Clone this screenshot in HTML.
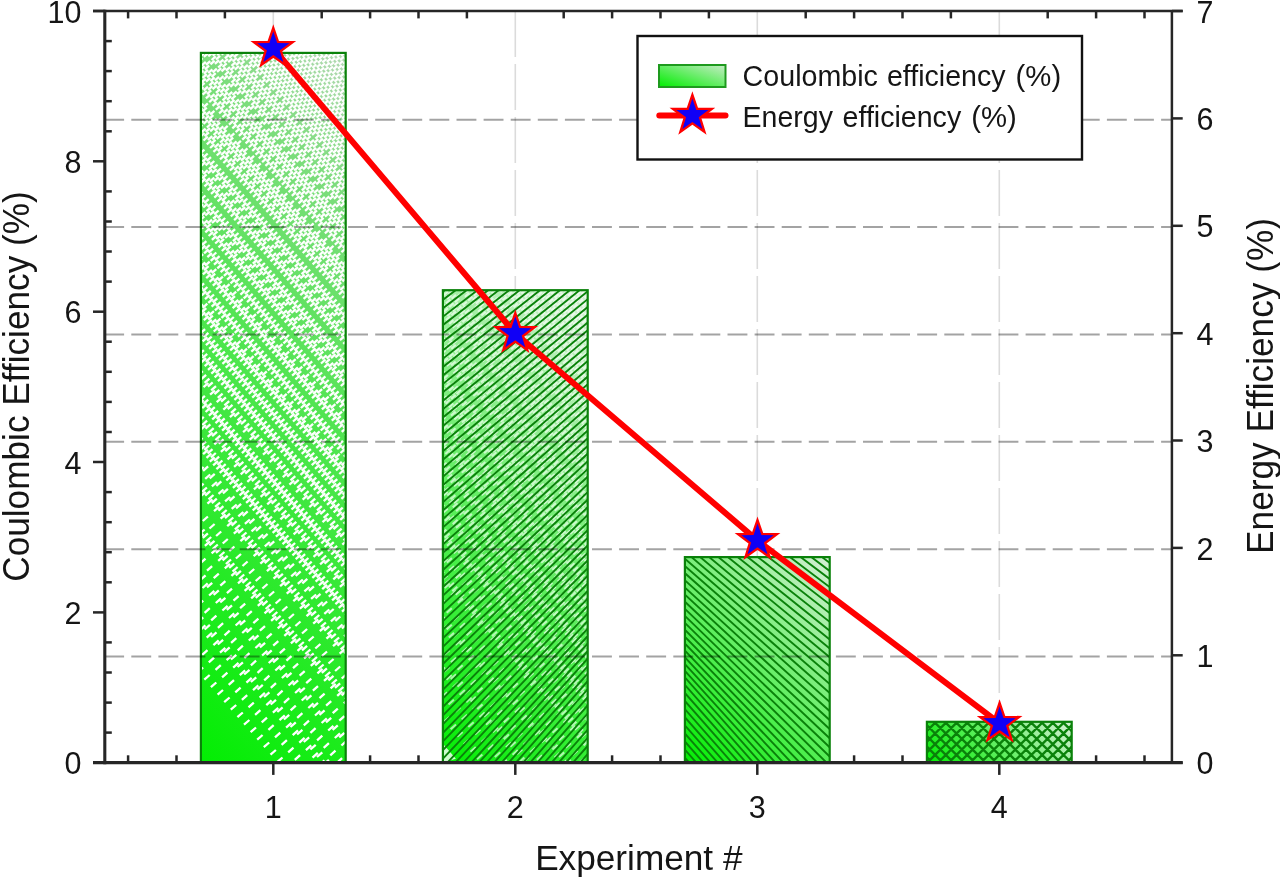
<!DOCTYPE html>
<html lang="en">
<head>
<meta charset="utf-8">
<title>Coulombic and energy efficiency per experiment</title>
<style>
html,body{margin:0;padding:0;background:#fff;}
body{width:1280px;height:880px;overflow:hidden;font-family:"Liberation Sans", Arial, Helvetica, sans-serif;}
svg{display:block;font-family:"Liberation Sans", Arial, Helvetica, sans-serif;}
</style>
</head>
<body>
<svg width="1280" height="880" viewBox="0 0 1280 880">
<defs>
<linearGradient id="gbar" x1="0" y1="1" x2="1" y2="0"><stop offset="0" stop-color="#00ee00"/><stop offset="1" stop-color="#c6ecc6"/></linearGradient>
</defs>
<rect width="1280" height="880" fill="#ffffff"/>
<g id="vgrid" fill="none">
<line x1="273.3" y1="11.0" x2="273.3" y2="762.7" stroke="#dbdbdb" stroke-width="1.6" stroke-dasharray="46 7"/>
<line x1="515.3" y1="11.0" x2="515.3" y2="762.7" stroke="#dbdbdb" stroke-width="1.6" stroke-dasharray="46 7"/>
<line x1="757.3" y1="11.0" x2="757.3" y2="762.7" stroke="#dbdbdb" stroke-width="1.6" stroke-dasharray="46 7"/>
<line x1="999.3" y1="11.0" x2="999.3" y2="762.7" stroke="#dbdbdb" stroke-width="1.6" stroke-dasharray="46 7"/>
</g>
<g id="bars">
<linearGradient id="g1" gradientUnits="userSpaceOnUse" x1="200.9" y1="762.7" x2="628.2" y2="335.4"><stop offset="0" stop-color="#02ee02"/><stop offset="0.5" stop-color="#4be64b"/><stop offset="0.83" stop-color="#7ddd7d"/><stop offset="1" stop-color="#b4d8b4"/></linearGradient>
<rect x="200.9" y="52.9" width="144.8" height="709.8" fill="url(#g1)"/>
<clipPath id="c1"><rect x="200.9" y="52.9" width="144.8" height="709.8"/></clipPath>
<path clip-path="url(#c1)" d="M197.7 672.2l5.4 -4.7M204.3 679.7l5.4 -4.7M210.9 687.2l5.4 -4.7M217.6 694.7l5.4 -4.7M224.2 702.2l5.4 -4.7M230.8 709.7l5.4 -4.7M237.4 717.2l5.4 -4.7M244.0 724.7l5.4 -4.7M250.6 732.2l5.4 -4.7M257.2 739.7l5.4 -4.7M263.8 747.2l5.4 -4.7M270.5 754.7l5.4 -4.7M277.1 762.2l5.4 -4.7M195.6 647.4l5.3 -4.7M202.2 654.9l5.3 -4.7M208.8 662.4l5.3 -4.7M215.5 669.9l5.3 -4.7M222.1 677.4l5.3 -4.7M228.7 684.9l5.3 -4.7M235.3 692.4l5.3 -4.7M241.9 699.9l5.3 -4.7M248.5 707.4l5.3 -4.7M255.1 714.9l5.3 -4.7M261.7 722.4l5.3 -4.7M268.4 729.9l5.3 -4.7M275.0 737.4l5.3 -4.7M281.6 744.9l5.3 -4.7M288.2 752.4l5.3 -4.7M294.8 759.9l5.3 -4.7M301.4 767.4l5.3 -4.7M200.1 630.1l5.3 -4.7M206.7 637.6l5.3 -4.7M213.4 645.1l5.3 -4.7M220.0 652.6l5.3 -4.7M226.6 660.1l5.3 -4.7M233.2 667.6l5.3 -4.7M239.8 675.1l5.3 -4.7M246.4 682.6l5.3 -4.7M253.0 690.1l5.3 -4.7M259.6 697.6l5.3 -4.7M266.3 705.1l5.3 -4.7M272.9 712.6l5.3 -4.7M279.5 720.1l5.3 -4.7M286.1 727.6l5.3 -4.7M292.7 735.1l5.3 -4.7M299.3 742.6l5.3 -4.7M305.9 750.1l5.3 -4.7M312.5 757.6l5.3 -4.7M319.2 765.1l5.3 -4.7M197.9 622.0l5.3 -4.6M204.6 629.5l5.3 -4.6M211.2 637.0l5.3 -4.6M217.8 644.5l5.3 -4.6M224.4 652.0l5.3 -4.6M231.0 659.5l5.3 -4.6M237.6 667.0l5.3 -4.6M244.2 674.5l5.3 -4.6M250.9 682.0l5.3 -4.6M257.5 689.5l5.3 -4.6M264.1 697.0l5.3 -4.6M270.7 704.5l5.3 -4.6M277.3 712.0l5.3 -4.6M283.9 719.5l5.3 -4.6M290.5 727.0l5.3 -4.6M297.1 734.5l5.3 -4.6M303.8 742.0l5.3 -4.6M310.4 749.5l5.3 -4.6M317.0 757.0l5.3 -4.6M323.6 764.5l5.3 -4.6M198.0 605.3l5.2 -4.6M204.6 612.8l5.2 -4.6M211.2 620.3l5.2 -4.6M217.9 627.8l5.2 -4.6M224.5 635.3l5.2 -4.6M231.1 642.8l5.2 -4.6M237.7 650.3l5.2 -4.6M244.3 657.8l5.2 -4.6M250.9 665.3l5.2 -4.6M257.5 672.8l5.2 -4.6M264.2 680.3l5.2 -4.6M270.8 687.8l5.2 -4.6M277.4 695.3l5.2 -4.6M284.0 702.8l5.2 -4.6M290.6 710.3l5.2 -4.6M297.2 717.8l5.2 -4.6M303.8 725.3l5.2 -4.6M310.4 732.8l5.2 -4.6M317.1 740.3l5.2 -4.6M323.7 747.8l5.2 -4.6M330.3 755.3l5.2 -4.6M336.9 762.8l5.2 -4.6M195.9 580.5l5.2 -4.6M202.5 588.0l5.2 -4.6M209.1 595.5l5.2 -4.6M215.8 603.0l5.2 -4.6M222.4 610.5l5.2 -4.6M229.0 618.0l5.2 -4.6M235.6 625.5l5.2 -4.6M242.2 633.0l5.2 -4.6M248.8 640.5l5.2 -4.6M255.4 648.0l5.2 -4.6M262.1 655.5l5.2 -4.6M268.7 663.0l5.2 -4.6M275.3 670.5l5.2 -4.6M281.9 678.0l5.2 -4.6M288.5 685.5l5.2 -4.6M295.1 693.0l5.2 -4.6M301.7 700.5l5.2 -4.6M308.3 708.0l5.2 -4.6M315.0 715.5l5.2 -4.6M321.6 723.0l5.2 -4.6M328.2 730.5l5.2 -4.6M334.8 738.0l5.2 -4.6M341.4 745.5l5.2 -4.6M200.4 579.9l5.2 -4.6M207.0 587.4l5.2 -4.6M213.6 594.9l5.2 -4.6M220.2 602.4l5.2 -4.6M226.8 609.9l5.2 -4.6M233.4 617.4l5.2 -4.6M240.0 624.9l5.2 -4.6M246.6 632.4l5.2 -4.6M253.3 639.9l5.2 -4.6M259.9 647.4l5.2 -4.6M266.5 654.9l5.2 -4.6M273.1 662.4l5.2 -4.6M279.7 669.9l5.2 -4.6M286.3 677.4l5.2 -4.6M292.9 684.9l5.2 -4.6M299.6 692.4l5.2 -4.6M306.2 699.9l5.2 -4.6M312.8 707.4l5.2 -4.6M319.4 714.9l5.2 -4.6M326.0 722.4l5.2 -4.6M332.6 729.9l5.2 -4.6M339.2 737.4l5.2 -4.6M345.8 744.9l5.2 -4.6M200.4 563.1l5.1 -4.5M207.0 570.6l5.1 -4.5M213.7 578.1l5.1 -4.5M220.3 585.6l5.1 -4.5M226.9 593.1l5.1 -4.5M233.5 600.6l5.1 -4.5M240.1 608.1l5.1 -4.5M246.7 615.7l5.1 -4.5M253.3 623.2l5.1 -4.5M259.9 630.7l5.1 -4.5M266.6 638.2l5.1 -4.5M273.2 645.7l5.1 -4.5M279.8 653.2l5.1 -4.5M286.4 660.7l5.1 -4.5M293.0 668.2l5.1 -4.5M299.6 675.7l5.1 -4.5M306.2 683.2l5.1 -4.5M312.9 690.7l5.1 -4.5M319.5 698.2l5.1 -4.5M326.1 705.7l5.1 -4.5M332.7 713.2l5.1 -4.5M339.3 720.7l5.1 -4.5M345.9 728.2l5.1 -4.5M198.3 538.3l5.1 -4.5M204.9 545.8l5.1 -4.5M211.6 553.3l5.1 -4.5M218.2 560.8l5.1 -4.5M224.8 568.3l5.1 -4.5M231.4 575.8l5.1 -4.5M238.0 583.3l5.1 -4.5M244.6 590.8l5.1 -4.5M251.2 598.3l5.1 -4.5M257.8 605.8l5.1 -4.5M264.5 613.3l5.1 -4.5M271.1 620.8l5.1 -4.5M277.7 628.3l5.1 -4.5M284.3 635.8l5.1 -4.5M290.9 643.3l5.1 -4.5M297.5 650.8l5.1 -4.5M304.1 658.4l5.1 -4.5M310.8 665.9l5.1 -4.5M317.4 673.4l5.1 -4.5M324.0 680.9l5.1 -4.5M330.6 688.4l5.1 -4.5M337.2 695.9l5.1 -4.5M343.8 703.4l5.1 -4.5M196.2 530.3l5.1 -4.5M199.5 534.0l5.1 -4.5M202.8 537.8l5.1 -4.5M206.1 541.5l5.1 -4.5M209.4 545.3l5.1 -4.5M212.7 549.0l5.1 -4.5M216.0 552.8l5.1 -4.5M219.3 556.5l5.1 -4.5M222.6 560.3l5.1 -4.5M225.9 564.0l5.1 -4.5M229.2 567.8l5.1 -4.5M232.5 571.5l5.1 -4.5M235.8 575.3l5.1 -4.5M239.1 579.0l5.1 -4.5M242.4 582.8l5.1 -4.5M245.7 586.5l5.1 -4.5M249.1 590.3l5.1 -4.5M252.4 594.0l5.1 -4.5M255.7 597.8l5.1 -4.5M259.0 601.5l5.1 -4.5M262.3 605.3l5.1 -4.5M265.6 609.0l5.1 -4.5M268.9 612.8l5.1 -4.5M272.2 616.5l5.1 -4.5M275.5 620.3l5.1 -4.5M278.8 624.0l5.1 -4.5M282.1 627.8l5.1 -4.5M285.4 631.5l5.1 -4.5M288.7 635.3l5.1 -4.5M292.0 639.0l5.1 -4.5M295.3 642.8l5.1 -4.5M298.7 646.5l5.1 -4.5M302.0 650.3l5.1 -4.5M305.3 654.0l5.1 -4.5M308.6 657.8l5.1 -4.5M311.9 661.5l5.1 -4.5M315.2 665.3l5.1 -4.5M318.5 669.0l5.1 -4.5M321.8 672.8l5.1 -4.5M325.1 676.5l5.1 -4.5M328.4 680.3l5.1 -4.5M331.7 684.0l5.1 -4.5M335.0 687.8l5.1 -4.5M338.3 691.5l5.1 -4.5M341.6 695.3l5.1 -4.5M344.9 699.0l5.1 -4.5M196.2 513.5l5.1 -4.5M202.8 521.0l5.1 -4.5M209.5 528.5l5.1 -4.5M216.1 536.0l5.1 -4.5M222.7 543.5l5.1 -4.5M229.3 551.0l5.1 -4.5M235.9 558.5l5.1 -4.5M242.5 566.0l5.1 -4.5M249.1 573.5l5.1 -4.5M255.7 581.0l5.1 -4.5M262.4 588.5l5.1 -4.5M269.0 596.0l5.1 -4.5M275.6 603.5l5.1 -4.5M282.2 611.0l5.1 -4.5M288.8 618.5l5.1 -4.5M295.4 626.0l5.1 -4.5M302.0 633.5l5.1 -4.5M308.6 641.0l5.1 -4.5M315.3 648.5l5.1 -4.5M321.9 656.0l5.1 -4.5M328.5 663.5l5.1 -4.5M335.1 671.0l5.1 -4.5M341.7 678.5l5.1 -4.5M200.7 496.2l5.0 -4.4M207.4 503.7l5.0 -4.4M214.0 511.2l5.0 -4.4M220.6 518.7l5.0 -4.4M227.2 526.2l5.0 -4.4M233.8 533.7l5.0 -4.4M240.4 541.2l5.0 -4.4M247.0 548.7l5.0 -4.4M253.6 556.2l5.0 -4.4M260.3 563.7l5.0 -4.4M266.9 571.2l5.0 -4.4M273.5 578.7l5.0 -4.4M280.1 586.2l5.0 -4.4M286.7 593.7l5.0 -4.4M293.3 601.2l5.0 -4.4M299.9 608.7l5.0 -4.4M306.5 616.2l5.0 -4.4M313.2 623.7l5.0 -4.4M319.8 631.2l5.0 -4.4M326.4 638.7l5.0 -4.4M333.0 646.2l5.0 -4.4M339.6 653.7l5.0 -4.4M198.6 488.1l5.0 -4.4M201.9 491.9l5.0 -4.4M205.2 495.6l5.0 -4.4M208.5 499.4l5.0 -4.4M211.8 503.1l5.0 -4.4M215.1 506.9l5.0 -4.4M218.4 510.6l5.0 -4.4M221.7 514.4l5.0 -4.4M225.0 518.1l5.0 -4.4M228.3 521.9l5.0 -4.4M231.6 525.6l5.0 -4.4M234.9 529.4l5.0 -4.4M238.2 533.1l5.0 -4.4M241.5 536.9l5.0 -4.4M244.9 540.6l5.0 -4.4M248.2 544.4l5.0 -4.4M251.5 548.1l5.0 -4.4M254.8 551.9l5.0 -4.4M258.1 555.6l5.0 -4.4M261.4 559.4l5.0 -4.4M264.7 563.1l5.0 -4.4M268.0 566.9l5.0 -4.4M271.3 570.7l5.0 -4.4M274.6 574.4l5.0 -4.4M277.9 578.2l5.0 -4.4M281.2 581.9l5.0 -4.4M284.5 585.7l5.0 -4.4M287.8 589.4l5.0 -4.4M291.1 593.2l5.0 -4.4M294.4 596.9l5.0 -4.4M297.8 600.7l5.0 -4.4M301.1 604.4l5.0 -4.4M304.4 608.2l5.0 -4.4M307.7 611.9l5.0 -4.4M311.0 615.7l5.0 -4.4M314.3 619.4l5.0 -4.4M317.6 623.2l5.0 -4.4M320.9 626.9l5.0 -4.4M324.2 630.7l5.0 -4.4M327.5 634.4l5.0 -4.4M330.8 638.2l5.0 -4.4M334.1 641.9l5.0 -4.4M337.4 645.7l5.0 -4.4M340.7 649.4l5.0 -4.4M344.0 653.2l5.0 -4.4M198.6 471.4l5.0 -4.4M205.2 478.9l5.0 -4.4M211.9 486.4l5.0 -4.4M218.5 493.9l5.0 -4.4M225.1 501.4l5.0 -4.4M231.7 508.9l5.0 -4.4M238.3 516.4l5.0 -4.4M244.9 523.9l5.0 -4.4M251.5 531.4l5.0 -4.4M258.2 538.9l5.0 -4.4M264.8 546.4l5.0 -4.4M271.4 553.9l5.0 -4.4M278.0 561.4l5.0 -4.4M284.6 568.9l5.0 -4.4M291.2 576.4l5.0 -4.4M297.8 583.9l5.0 -4.4M304.4 591.4l5.0 -4.4M311.1 598.9l5.0 -4.4M317.7 606.4l5.0 -4.4M324.3 613.9l5.0 -4.4M330.9 621.4l5.0 -4.4M337.5 628.9l5.0 -4.4M344.1 636.4l5.0 -4.4M196.5 463.3l5.0 -4.4M203.1 470.8l5.0 -4.4M209.7 478.3l5.0 -4.4M216.3 485.8l5.0 -4.4M222.9 493.3l5.0 -4.4M229.5 500.8l5.0 -4.4M236.1 508.3l5.0 -4.4M242.7 515.8l5.0 -4.4M249.4 523.3l5.0 -4.4M256.0 530.8l5.0 -4.4M262.6 538.3l5.0 -4.4M269.2 545.8l5.0 -4.4M275.8 553.3l5.0 -4.4M282.4 560.8l5.0 -4.4M289.0 568.3l5.0 -4.4M295.7 575.8l5.0 -4.4M302.3 583.3l5.0 -4.4M308.9 590.8l5.0 -4.4M315.5 598.3l5.0 -4.4M322.1 605.9l5.0 -4.4M328.7 613.4l5.0 -4.4M335.3 620.9l5.0 -4.4M341.9 628.4l5.0 -4.4M196.5 446.6l4.9 -4.3M199.8 450.3l4.9 -4.3M203.1 454.1l4.9 -4.3M206.5 457.8l4.9 -4.3M209.8 461.6l4.9 -4.3M213.1 465.4l4.9 -4.3M216.4 469.1l4.9 -4.3M219.7 472.9l4.9 -4.3M223.0 476.6l4.9 -4.3M226.3 480.4l4.9 -4.3M229.6 484.1l4.9 -4.3M232.9 487.9l4.9 -4.3M236.2 491.6l4.9 -4.3M239.5 495.4l4.9 -4.3M242.8 499.1l4.9 -4.3M246.1 502.9l4.9 -4.3M249.4 506.6l4.9 -4.3M252.7 510.4l4.9 -4.3M256.1 514.1l4.9 -4.3M259.4 517.9l4.9 -4.3M262.7 521.6l4.9 -4.3M266.0 525.4l4.9 -4.3M269.3 529.1l4.9 -4.3M272.6 532.9l4.9 -4.3M275.9 536.6l4.9 -4.3M279.2 540.4l4.9 -4.3M282.5 544.1l4.9 -4.3M285.8 547.9l4.9 -4.3M289.1 551.6l4.9 -4.3M292.4 555.4l4.9 -4.3M295.7 559.1l4.9 -4.3M299.0 562.9l4.9 -4.3M302.3 566.6l4.9 -4.3M305.6 570.4l4.9 -4.3M309.0 574.1l4.9 -4.3M312.3 577.9l4.9 -4.3M315.6 581.6l4.9 -4.3M318.9 585.4l4.9 -4.3M322.2 589.1l4.9 -4.3M325.5 592.9l4.9 -4.3M328.8 596.6l4.9 -4.3M332.1 600.4l4.9 -4.3M335.4 604.1l4.9 -4.3M338.7 607.9l4.9 -4.3M342.0 611.6l4.9 -4.3M345.3 615.4l4.9 -4.3M197.7 442.3l4.9 -4.3M201.0 446.0l4.9 -4.3M204.3 449.8l4.9 -4.3M207.6 453.5l4.9 -4.3M210.9 457.3l4.9 -4.3M214.2 461.0l4.9 -4.3M217.5 464.8l4.9 -4.3M220.8 468.5l4.9 -4.3M224.1 472.3l4.9 -4.3M227.4 476.0l4.9 -4.3M230.7 479.8l4.9 -4.3M234.0 483.5l4.9 -4.3M237.3 487.3l4.9 -4.3M240.6 491.0l4.9 -4.3M244.0 494.8l4.9 -4.3M247.3 498.5l4.9 -4.3M250.6 502.3l4.9 -4.3M253.9 506.0l4.9 -4.3M257.2 509.8l4.9 -4.3M260.5 513.5l4.9 -4.3M263.8 517.3l4.9 -4.3M267.1 521.0l4.9 -4.3M270.4 524.8l4.9 -4.3M273.7 528.5l4.9 -4.3M277.0 532.3l4.9 -4.3M280.3 536.0l4.9 -4.3M283.6 539.8l4.9 -4.3M286.9 543.5l4.9 -4.3M290.2 547.3l4.9 -4.3M293.6 551.0l4.9 -4.3M296.9 554.8l4.9 -4.3M300.2 558.5l4.9 -4.3M303.5 562.3l4.9 -4.3M306.8 566.0l4.9 -4.3M310.1 569.8l4.9 -4.3M313.4 573.5l4.9 -4.3M316.7 577.3l4.9 -4.3M320.0 581.0l4.9 -4.3M323.3 584.8l4.9 -4.3M326.6 588.5l4.9 -4.3M329.9 592.3l4.9 -4.3M333.2 596.0l4.9 -4.3M336.5 599.8l4.9 -4.3M339.8 603.5l4.9 -4.3M343.1 607.3l4.9 -4.3M201.0 429.3l4.9 -4.3M207.7 436.8l4.9 -4.3M214.3 444.3l4.9 -4.3M220.9 451.8l4.9 -4.3M227.5 459.3l4.9 -4.3M234.1 466.8l4.9 -4.3M240.7 474.3l4.9 -4.3M247.3 481.8l4.9 -4.3M253.9 489.3l4.9 -4.3M260.6 496.8l4.9 -4.3M267.2 504.3l4.9 -4.3M273.8 511.8l4.9 -4.3M280.4 519.3l4.9 -4.3M287.0 526.8l4.9 -4.3M293.6 534.3l4.9 -4.3M300.2 541.8l4.9 -4.3M306.9 549.3l4.9 -4.3M313.5 556.8l4.9 -4.3M320.1 564.3l4.9 -4.3M326.7 571.8l4.9 -4.3M333.3 579.3l4.9 -4.3M339.9 586.8l4.9 -4.3M195.6 417.5l4.9 -4.3M198.9 421.2l4.9 -4.3M202.2 425.0l4.9 -4.3M205.5 428.7l4.9 -4.3M208.8 432.5l4.9 -4.3M212.1 436.2l4.9 -4.3M215.4 440.0l4.9 -4.3M218.7 443.7l4.9 -4.3M222.0 447.5l4.9 -4.3M225.3 451.2l4.9 -4.3M228.6 455.0l4.9 -4.3M231.9 458.7l4.9 -4.3M235.2 462.5l4.9 -4.3M238.5 466.2l4.9 -4.3M241.8 470.0l4.9 -4.3M245.2 473.7l4.9 -4.3M248.5 477.5l4.9 -4.3M251.8 481.2l4.9 -4.3M255.1 485.0l4.9 -4.3M258.4 488.7l4.9 -4.3M261.7 492.5l4.9 -4.3M265.0 496.2l4.9 -4.3M268.3 500.0l4.9 -4.3M271.6 503.7l4.9 -4.3M274.9 507.5l4.9 -4.3M278.2 511.2l4.9 -4.3M281.5 515.0l4.9 -4.3M284.8 518.7l4.9 -4.3M288.1 522.5l4.9 -4.3M291.4 526.2l4.9 -4.3M294.8 530.0l4.9 -4.3M298.1 533.7l4.9 -4.3M301.4 537.5l4.9 -4.3M304.7 541.2l4.9 -4.3M308.0 545.0l4.9 -4.3M311.3 548.7l4.9 -4.3M314.6 552.5l4.9 -4.3M317.9 556.2l4.9 -4.3M321.2 560.0l4.9 -4.3M324.5 563.7l4.9 -4.3M327.8 567.5l4.9 -4.3M331.1 571.2l4.9 -4.3M334.4 575.0l4.9 -4.3M337.7 578.7l4.9 -4.3M341.0 582.5l4.9 -4.3M344.4 586.2l4.9 -4.3M195.6 400.7l4.8 -4.3M198.9 404.5l4.8 -4.3M202.2 408.2l4.8 -4.3M205.6 412.0l4.8 -4.3M208.9 415.7l4.8 -4.3M212.2 419.5l4.8 -4.3M215.5 423.2l4.8 -4.3M218.8 427.0l4.8 -4.3M222.1 430.7l4.8 -4.3M225.4 434.5l4.8 -4.3M228.7 438.2l4.8 -4.3M232.0 442.0l4.8 -4.3M235.3 445.7l4.8 -4.3M238.6 449.5l4.8 -4.3M241.9 453.2l4.8 -4.3M245.2 457.0l4.8 -4.3M248.5 460.7l4.8 -4.3M251.8 464.5l4.8 -4.3M255.2 468.2l4.8 -4.3M258.5 472.0l4.8 -4.3M261.8 475.7l4.8 -4.3M265.1 479.5l4.8 -4.3M268.4 483.2l4.8 -4.3M271.7 487.0l4.8 -4.3M275.0 490.7l4.8 -4.3M278.3 494.5l4.8 -4.3M281.6 498.2l4.8 -4.3M284.9 502.0l4.8 -4.3M288.2 505.7l4.8 -4.3M291.5 509.5l4.8 -4.3M294.8 513.2l4.8 -4.3M298.1 517.0l4.8 -4.3M301.4 520.7l4.8 -4.3M304.8 524.5l4.8 -4.3M308.1 528.2l4.8 -4.3M311.4 532.0l4.8 -4.3M314.7 535.8l4.8 -4.3M318.0 539.5l4.8 -4.3M321.3 543.3l4.8 -4.3M324.6 547.0l4.8 -4.3M327.9 550.8l4.8 -4.3M331.2 554.5l4.8 -4.3M334.5 558.3l4.8 -4.3M337.8 562.0l4.8 -4.3M341.1 565.8l4.8 -4.3M344.4 569.5l4.8 -4.3M196.8 396.4l4.8 -4.3M200.1 400.2l4.8 -4.3M203.4 403.9l4.8 -4.3M206.7 407.7l4.8 -4.3M210.0 411.4l4.8 -4.3M213.3 415.2l4.8 -4.3M216.6 418.9l4.8 -4.3M219.9 422.7l4.8 -4.3M223.2 426.4l4.8 -4.3M226.5 430.2l4.8 -4.3M229.8 433.9l4.8 -4.3M233.1 437.7l4.8 -4.3M236.4 441.4l4.8 -4.3M239.7 445.2l4.8 -4.3M243.1 448.9l4.8 -4.3M246.4 452.7l4.8 -4.3M249.7 456.4l4.8 -4.3M253.0 460.2l4.8 -4.3M256.3 463.9l4.8 -4.3M259.6 467.7l4.8 -4.3M262.9 471.4l4.8 -4.3M266.2 475.2l4.8 -4.3M269.5 478.9l4.8 -4.3M272.8 482.7l4.8 -4.3M276.1 486.4l4.8 -4.3M279.4 490.2l4.8 -4.3M282.7 493.9l4.8 -4.3M286.0 497.7l4.8 -4.3M289.3 501.4l4.8 -4.3M292.7 505.2l4.8 -4.3M296.0 508.9l4.8 -4.3M299.3 512.7l4.8 -4.3M302.6 516.4l4.8 -4.3M305.9 520.2l4.8 -4.3M309.2 523.9l4.8 -4.3M312.5 527.7l4.8 -4.3M315.8 531.4l4.8 -4.3M319.1 535.2l4.8 -4.3M322.4 538.9l4.8 -4.3M325.7 542.7l4.8 -4.3M329.0 546.4l4.8 -4.3M332.3 550.2l4.8 -4.3M335.6 553.9l4.8 -4.3M338.9 557.7l4.8 -4.3M342.3 561.4l4.8 -4.3M345.6 565.2l4.8 -4.3M196.8 379.7l4.8 -4.2M203.5 387.2l4.8 -4.2M210.1 394.7l4.8 -4.2M216.7 402.2l4.8 -4.2M223.3 409.7l4.8 -4.2M229.9 417.2l4.8 -4.2M236.5 424.7l4.8 -4.2M243.1 432.2l4.8 -4.2M249.7 439.7l4.8 -4.2M256.4 447.2l4.8 -4.2M263.0 454.7l4.8 -4.2M269.6 462.2l4.8 -4.2M276.2 469.7l4.8 -4.2M282.8 477.2l4.8 -4.2M289.4 484.7l4.8 -4.2M296.0 492.2l4.8 -4.2M302.6 499.7l4.8 -4.2M309.3 507.2l4.8 -4.2M315.9 514.7l4.8 -4.2M322.5 522.2l4.8 -4.2M329.1 529.7l4.8 -4.2M335.7 537.2l4.8 -4.2M342.3 544.7l4.8 -4.2M198.0 375.3l4.8 -4.2M201.3 379.1l4.8 -4.2M204.6 382.8l4.8 -4.2M207.9 386.6l4.8 -4.2M211.2 390.3l4.8 -4.2M214.5 394.1l4.8 -4.2M217.8 397.8l4.8 -4.2M221.1 401.6l4.8 -4.2M224.4 405.3l4.8 -4.2M227.7 409.1l4.8 -4.2M231.0 412.9l4.8 -4.2M234.3 416.6l4.8 -4.2M237.6 420.4l4.8 -4.2M241.0 424.1l4.8 -4.2M244.3 427.9l4.8 -4.2M247.6 431.6l4.8 -4.2M250.9 435.4l4.8 -4.2M254.2 439.1l4.8 -4.2M257.5 442.9l4.8 -4.2M260.8 446.6l4.8 -4.2M264.1 450.4l4.8 -4.2M267.4 454.1l4.8 -4.2M270.7 457.9l4.8 -4.2M274.0 461.6l4.8 -4.2M277.3 465.4l4.8 -4.2M280.6 469.1l4.8 -4.2M283.9 472.9l4.8 -4.2M287.2 476.6l4.8 -4.2M290.5 480.4l4.8 -4.2M293.9 484.1l4.8 -4.2M297.2 487.9l4.8 -4.2M300.5 491.6l4.8 -4.2M303.8 495.4l4.8 -4.2M307.1 499.1l4.8 -4.2M310.4 502.9l4.8 -4.2M313.7 506.6l4.8 -4.2M317.0 510.4l4.8 -4.2M320.3 514.1l4.8 -4.2M323.6 517.9l4.8 -4.2M326.9 521.6l4.8 -4.2M330.2 525.4l4.8 -4.2M333.5 529.1l4.8 -4.2M336.8 532.9l4.8 -4.2M340.1 536.6l4.8 -4.2M343.5 540.4l4.8 -4.2M198.0 358.6l4.8 -4.2M201.3 362.4l4.8 -4.2M204.7 366.1l4.8 -4.2M208.0 369.9l4.8 -4.2M211.3 373.6l4.8 -4.2M214.6 377.4l4.8 -4.2M217.9 381.1l4.8 -4.2M221.2 384.9l4.8 -4.2M224.5 388.6l4.8 -4.2M227.8 392.4l4.8 -4.2M231.1 396.1l4.8 -4.2M234.4 399.9l4.8 -4.2M237.7 403.6l4.8 -4.2M241.0 407.4l4.8 -4.2M244.3 411.1l4.8 -4.2M247.6 414.9l4.8 -4.2M250.9 418.6l4.8 -4.2M254.3 422.4l4.8 -4.2M257.6 426.1l4.8 -4.2M260.9 429.9l4.8 -4.2M264.2 433.6l4.8 -4.2M267.5 437.4l4.8 -4.2M270.8 441.1l4.8 -4.2M274.1 444.9l4.8 -4.2M277.4 448.6l4.8 -4.2M280.7 452.4l4.8 -4.2M284.0 456.1l4.8 -4.2M287.3 459.9l4.8 -4.2M290.6 463.6l4.8 -4.2M293.9 467.4l4.8 -4.2M297.2 471.1l4.8 -4.2M300.5 474.9l4.8 -4.2M303.9 478.6l4.8 -4.2M307.2 482.4l4.8 -4.2M310.5 486.1l4.8 -4.2M313.8 489.9l4.8 -4.2M317.1 493.6l4.8 -4.2M320.4 497.4l4.8 -4.2M323.7 501.1l4.8 -4.2M327.0 504.9l4.8 -4.2M330.3 508.6l4.8 -4.2M333.6 512.4l4.8 -4.2M336.9 516.1l4.8 -4.2M340.2 519.9l4.8 -4.2M343.5 523.6l4.8 -4.2M195.9 350.5l4.7 -4.2M199.2 354.3l4.7 -4.2M202.5 358.0l4.7 -4.2M205.8 361.8l4.7 -4.2M209.1 365.5l4.7 -4.2M212.4 369.3l4.7 -4.2M215.7 373.0l4.7 -4.2M219.0 376.8l4.7 -4.2M222.3 380.5l4.7 -4.2M225.6 384.3l4.7 -4.2M228.9 388.0l4.7 -4.2M232.2 391.8l4.7 -4.2M235.5 395.5l4.7 -4.2M238.8 399.3l4.7 -4.2M242.2 403.0l4.7 -4.2M245.5 406.8l4.7 -4.2M248.8 410.5l4.7 -4.2M252.1 414.3l4.7 -4.2M255.4 418.0l4.7 -4.2M258.7 421.8l4.7 -4.2M262.0 425.5l4.7 -4.2M265.3 429.3l4.7 -4.2M268.6 433.0l4.7 -4.2M271.9 436.8l4.7 -4.2M275.2 440.5l4.7 -4.2M278.5 444.3l4.7 -4.2M281.8 448.1l4.7 -4.2M285.1 451.8l4.7 -4.2M288.4 455.6l4.7 -4.2M291.8 459.3l4.7 -4.2M295.1 463.1l4.7 -4.2M298.4 466.8l4.7 -4.2M301.7 470.6l4.7 -4.2M305.0 474.3l4.7 -4.2M308.3 478.1l4.7 -4.2M311.6 481.8l4.7 -4.2M314.9 485.6l4.7 -4.2M318.2 489.3l4.7 -4.2M321.5 493.1l4.7 -4.2M324.8 496.8l4.7 -4.2M328.1 500.6l4.7 -4.2M331.4 504.3l4.7 -4.2M334.7 508.1l4.7 -4.2M338.0 511.8l4.7 -4.2M341.4 515.6l4.7 -4.2M344.7 519.3l4.7 -4.2M195.9 333.8l4.7 -4.1M199.2 337.6l4.7 -4.1M202.6 341.3l4.7 -4.1M205.9 345.1l4.7 -4.1M209.2 348.8l4.7 -4.1M212.5 352.6l4.7 -4.1M215.8 356.3l4.7 -4.1M219.1 360.1l4.7 -4.1M222.4 363.8l4.7 -4.1M225.7 367.6l4.7 -4.1M229.0 371.3l4.7 -4.1M232.3 375.1l4.7 -4.1M235.6 378.8l4.7 -4.1M238.9 382.6l4.7 -4.1M242.2 386.3l4.7 -4.1M245.5 390.1l4.7 -4.1M248.8 393.8l4.7 -4.1M252.2 397.6l4.7 -4.1M255.5 401.3l4.7 -4.1M258.8 405.1l4.7 -4.1M262.1 408.8l4.7 -4.1M265.4 412.6l4.7 -4.1M268.7 416.3l4.7 -4.1M272.0 420.1l4.7 -4.1M275.3 423.8l4.7 -4.1M278.6 427.6l4.7 -4.1M281.9 431.3l4.7 -4.1M285.2 435.1l4.7 -4.1M288.5 438.8l4.7 -4.1M291.8 442.6l4.7 -4.1M295.1 446.3l4.7 -4.1M298.4 450.1l4.7 -4.1M301.7 453.8l4.7 -4.1M305.1 457.6l4.7 -4.1M308.4 461.3l4.7 -4.1M311.7 465.1l4.7 -4.1M315.0 468.8l4.7 -4.1M318.3 472.6l4.7 -4.1M321.6 476.3l4.7 -4.1M324.9 480.1l4.7 -4.1M328.2 483.8l4.7 -4.1M331.5 487.6l4.7 -4.1M334.8 491.3l4.7 -4.1M338.1 495.1l4.7 -4.1M341.4 498.8l4.7 -4.1M344.7 502.6l4.7 -4.1M197.1 329.5l4.7 -4.1M200.4 333.2l4.7 -4.1M203.7 337.0l4.7 -4.1M207.0 340.7l4.7 -4.1M210.3 344.5l4.7 -4.1M213.6 348.2l4.7 -4.1M216.9 352.0l4.7 -4.1M220.2 355.7l4.7 -4.1M223.5 359.5l4.7 -4.1M226.8 363.2l4.7 -4.1M230.1 367.0l4.7 -4.1M233.4 370.7l4.7 -4.1M236.7 374.5l4.7 -4.1M240.1 378.2l4.7 -4.1M243.4 382.0l4.7 -4.1M246.7 385.7l4.7 -4.1M250.0 389.5l4.7 -4.1M253.3 393.2l4.7 -4.1M256.6 397.0l4.7 -4.1M259.9 400.7l4.7 -4.1M263.2 404.5l4.7 -4.1M266.5 408.2l4.7 -4.1M269.8 412.0l4.7 -4.1M273.1 415.7l4.7 -4.1M276.4 419.5l4.7 -4.1M279.7 423.2l4.7 -4.1M283.0 427.0l4.7 -4.1M286.3 430.7l4.7 -4.1M289.7 434.5l4.7 -4.1M293.0 438.2l4.7 -4.1M296.3 442.0l4.7 -4.1M299.6 445.7l4.7 -4.1M302.9 449.5l4.7 -4.1M306.2 453.2l4.7 -4.1M309.5 457.0l4.7 -4.1M312.8 460.7l4.7 -4.1M316.1 464.5l4.7 -4.1M319.4 468.2l4.7 -4.1M322.7 472.0l4.7 -4.1M326.0 475.7l4.7 -4.1M329.3 479.5l4.7 -4.1M332.6 483.2l4.7 -4.1M335.9 487.0l4.7 -4.1M339.2 490.8l4.7 -4.1M342.6 494.5l4.7 -4.1M345.9 498.3l4.7 -4.1M197.1 312.7l4.7 -4.1M200.5 316.5l4.7 -4.1M203.8 320.2l4.7 -4.1M207.1 324.0l4.7 -4.1M210.4 327.7l4.7 -4.1M213.7 331.5l4.7 -4.1M217.0 335.2l4.7 -4.1M220.3 339.0l4.7 -4.1M223.6 342.7l4.7 -4.1M226.9 346.5l4.7 -4.1M230.2 350.3l4.7 -4.1M233.5 354.0l4.7 -4.1M236.8 357.8l4.7 -4.1M240.1 361.5l4.7 -4.1M243.4 365.3l4.7 -4.1M246.7 369.0l4.7 -4.1M250.0 372.8l4.7 -4.1M253.4 376.5l4.7 -4.1M256.7 380.3l4.7 -4.1M260.0 384.0l4.7 -4.1M263.3 387.8l4.7 -4.1M266.6 391.5l4.7 -4.1M269.9 395.3l4.7 -4.1M273.2 399.0l4.7 -4.1M276.5 402.8l4.7 -4.1M279.8 406.5l4.7 -4.1M283.1 410.3l4.7 -4.1M286.4 414.0l4.7 -4.1M289.7 417.8l4.7 -4.1M293.0 421.5l4.7 -4.1M296.3 425.3l4.7 -4.1M299.6 429.0l4.7 -4.1M303.0 432.8l4.7 -4.1M306.3 436.5l4.7 -4.1M309.6 440.3l4.7 -4.1M312.9 444.0l4.7 -4.1M316.2 447.8l4.7 -4.1M319.5 451.5l4.7 -4.1M322.8 455.3l4.7 -4.1M326.1 459.0l4.7 -4.1M329.4 462.8l4.7 -4.1M332.7 466.5l4.7 -4.1M336.0 470.3l4.7 -4.1M339.3 474.0l4.7 -4.1M342.6 477.8l4.7 -4.1M345.9 481.5l4.7 -4.1M198.3 308.4l4.7 -4.1M201.6 312.2l4.7 -4.1M204.9 315.9l4.7 -4.1M208.2 319.7l4.7 -4.1M211.5 323.4l4.7 -4.1M214.8 327.2l4.7 -4.1M218.1 330.9l4.7 -4.1M221.4 334.7l4.7 -4.1M224.7 338.4l4.7 -4.1M228.0 342.2l4.7 -4.1M231.3 345.9l4.7 -4.1M234.6 349.7l4.7 -4.1M238.0 353.4l4.7 -4.1M241.3 357.2l4.7 -4.1M244.6 360.9l4.7 -4.1M247.9 364.7l4.7 -4.1M251.2 368.4l4.7 -4.1M254.5 372.2l4.7 -4.1M257.8 375.9l4.7 -4.1M261.1 379.7l4.7 -4.1M264.4 383.4l4.7 -4.1M267.7 387.2l4.7 -4.1M271.0 390.9l4.7 -4.1M274.3 394.7l4.7 -4.1M277.6 398.4l4.7 -4.1M280.9 402.2l4.7 -4.1M284.2 405.9l4.7 -4.1M287.5 409.7l4.7 -4.1M290.9 413.4l4.7 -4.1M294.2 417.2l4.7 -4.1M297.5 420.9l4.7 -4.1M300.8 424.7l4.7 -4.1M304.1 428.4l4.7 -4.1M307.4 432.2l4.7 -4.1M310.7 435.9l4.7 -4.1M314.0 439.7l4.7 -4.1M317.3 443.4l4.7 -4.1M320.6 447.2l4.7 -4.1M323.9 450.9l4.7 -4.1M327.2 454.7l4.7 -4.1M330.5 458.4l4.7 -4.1M333.8 462.2l4.7 -4.1M337.1 465.9l4.7 -4.1M340.5 469.7l4.7 -4.1M343.8 473.4l4.7 -4.1M196.1 300.3l4.6 -4.1M202.7 307.8l4.6 -4.1M209.3 315.3l4.6 -4.1M215.9 322.8l4.6 -4.1M222.5 330.3l4.6 -4.1M229.2 337.8l4.6 -4.1M235.8 345.3l4.6 -4.1M242.4 352.8l4.6 -4.1M249.0 360.3l4.6 -4.1M255.6 367.9l4.6 -4.1M262.2 375.4l4.6 -4.1M268.8 382.9l4.6 -4.1M275.4 390.4l4.6 -4.1M282.1 397.9l4.6 -4.1M288.7 405.4l4.6 -4.1M295.3 412.9l4.6 -4.1M301.9 420.4l4.6 -4.1M308.5 427.9l4.6 -4.1M315.1 435.4l4.6 -4.1M321.7 442.9l4.6 -4.1M328.4 450.4l4.6 -4.1M335.0 457.9l4.6 -4.1M341.6 465.4l4.6 -4.1M198.3 291.7l4.6 -4.1M201.7 295.4l4.6 -4.1M205.0 299.2l4.6 -4.1M208.3 302.9l4.6 -4.1M211.6 306.7l4.6 -4.1M214.9 310.4l4.6 -4.1M218.2 314.2l4.6 -4.1M221.5 317.9l4.6 -4.1M224.8 321.7l4.6 -4.1M228.1 325.4l4.6 -4.1M231.4 329.2l4.6 -4.1M234.7 332.9l4.6 -4.1M238.0 336.7l4.6 -4.1M241.3 340.4l4.6 -4.1M244.6 344.2l4.6 -4.1M247.9 347.9l4.6 -4.1M251.3 351.7l4.6 -4.1M254.6 355.4l4.6 -4.1M257.9 359.2l4.6 -4.1M261.2 362.9l4.6 -4.1M264.5 366.7l4.6 -4.1M267.8 370.4l4.6 -4.1M271.1 374.2l4.6 -4.1M274.4 377.9l4.6 -4.1M277.7 381.7l4.6 -4.1M281.0 385.5l4.6 -4.1M284.3 389.2l4.6 -4.1M287.6 393.0l4.6 -4.1M290.9 396.7l4.6 -4.1M294.2 400.5l4.6 -4.1M297.5 404.2l4.6 -4.1M300.9 408.0l4.6 -4.1M304.2 411.7l4.6 -4.1M307.5 415.5l4.6 -4.1M310.8 419.2l4.6 -4.1M314.1 423.0l4.6 -4.1M317.4 426.7l4.6 -4.1M320.7 430.5l4.6 -4.1M324.0 434.2l4.6 -4.1M327.3 438.0l4.6 -4.1M330.6 441.7l4.6 -4.1M333.9 445.5l4.6 -4.1M337.2 449.2l4.6 -4.1M340.5 453.0l4.6 -4.1M343.8 456.7l4.6 -4.1M196.2 283.6l4.6 -4.1M199.5 287.4l4.6 -4.1M202.8 291.1l4.6 -4.1M206.1 294.9l4.6 -4.1M209.4 298.6l4.6 -4.1M212.7 302.4l4.6 -4.1M216.0 306.1l4.6 -4.1M219.3 309.9l4.6 -4.1M222.6 313.6l4.6 -4.1M225.9 317.4l4.6 -4.1M229.2 321.1l4.6 -4.1M232.5 324.9l4.6 -4.1M235.8 328.6l4.6 -4.1M239.2 332.4l4.6 -4.1M242.5 336.1l4.6 -4.1M245.8 339.9l4.6 -4.1M249.1 343.6l4.6 -4.1M252.4 347.4l4.6 -4.1M255.7 351.1l4.6 -4.1M259.0 354.9l4.6 -4.1M262.3 358.6l4.6 -4.1M265.6 362.4l4.6 -4.1M268.9 366.1l4.6 -4.1M272.2 369.9l4.6 -4.1M275.5 373.6l4.6 -4.1M278.8 377.4l4.6 -4.1M282.1 381.1l4.6 -4.1M285.4 384.9l4.6 -4.1M288.8 388.6l4.6 -4.1M292.1 392.4l4.6 -4.1M295.4 396.1l4.6 -4.1M298.7 399.9l4.6 -4.1M302.0 403.6l4.6 -4.1M305.3 407.4l4.6 -4.1M308.6 411.1l4.6 -4.1M311.9 414.9l4.6 -4.1M315.2 418.6l4.6 -4.1M318.5 422.4l4.6 -4.1M321.8 426.1l4.6 -4.1M325.1 429.9l4.6 -4.1M328.4 433.6l4.6 -4.1M331.7 437.4l4.6 -4.1M335.0 441.1l4.6 -4.1M338.4 444.9l4.6 -4.1M341.7 448.6l4.6 -4.1M345.0 452.4l4.6 -4.1M196.2 266.9l4.6 -4.0M199.6 270.6l4.6 -4.0M202.9 274.4l4.6 -4.0M206.2 278.1l4.6 -4.0M209.5 281.9l4.6 -4.0M212.8 285.6l4.6 -4.0M216.1 289.4l4.6 -4.0M219.4 293.1l4.6 -4.0M222.7 296.9l4.6 -4.0M226.0 300.6l4.6 -4.0M229.3 304.4l4.6 -4.0M232.6 308.1l4.6 -4.0M235.9 311.9l4.6 -4.0M239.2 315.6l4.6 -4.0M242.5 319.4l4.6 -4.0M245.8 323.1l4.6 -4.0M249.2 326.9l4.6 -4.0M252.5 330.6l4.6 -4.0M255.8 334.4l4.6 -4.0M259.1 338.1l4.6 -4.0M262.4 341.9l4.6 -4.0M265.7 345.6l4.6 -4.0M269.0 349.4l4.6 -4.0M272.3 353.1l4.6 -4.0M275.6 356.9l4.6 -4.0M278.9 360.6l4.6 -4.0M282.2 364.4l4.6 -4.0M285.5 368.1l4.6 -4.0M288.8 371.9l4.6 -4.0M292.1 375.6l4.6 -4.0M295.4 379.4l4.6 -4.0M298.7 383.1l4.6 -4.0M302.1 386.9l4.6 -4.0M305.4 390.6l4.6 -4.0M308.7 394.4l4.6 -4.0M312.0 398.1l4.6 -4.0M315.3 401.9l4.6 -4.0M318.6 405.6l4.6 -4.0M321.9 409.4l4.6 -4.0M325.2 413.1l4.6 -4.0M328.5 416.9l4.6 -4.0M331.8 420.7l4.6 -4.0M335.1 424.4l4.6 -4.0M338.4 428.2l4.6 -4.0M341.7 431.9l4.6 -4.0M345.0 435.7l4.6 -4.0M197.4 262.6l4.6 -4.0M200.7 266.3l4.6 -4.0M204.0 270.1l4.6 -4.0M207.3 273.8l4.6 -4.0M210.6 277.6l4.6 -4.0M213.9 281.3l4.6 -4.0M217.2 285.1l4.6 -4.0M220.5 288.8l4.6 -4.0M223.8 292.6l4.6 -4.0M227.1 296.3l4.6 -4.0M230.4 300.1l4.6 -4.0M233.7 303.8l4.6 -4.0M237.1 307.6l4.6 -4.0M240.4 311.3l4.6 -4.0M243.7 315.1l4.6 -4.0M247.0 318.8l4.6 -4.0M250.3 322.6l4.6 -4.0M253.6 326.3l4.6 -4.0M256.9 330.1l4.6 -4.0M260.2 333.8l4.6 -4.0M263.5 337.6l4.6 -4.0M266.8 341.3l4.6 -4.0M270.1 345.1l4.6 -4.0M273.4 348.8l4.6 -4.0M276.7 352.6l4.6 -4.0M280.0 356.3l4.6 -4.0M283.3 360.1l4.6 -4.0M286.6 363.8l4.6 -4.0M290.0 367.6l4.6 -4.0M293.3 371.3l4.6 -4.0M296.6 375.1l4.6 -4.0M299.9 378.8l4.6 -4.0M303.2 382.6l4.6 -4.0M306.5 386.3l4.6 -4.0M309.8 390.1l4.6 -4.0M313.1 393.8l4.6 -4.0M316.4 397.6l4.6 -4.0M319.7 401.3l4.6 -4.0M323.0 405.1l4.6 -4.0M326.3 408.8l4.6 -4.0M329.6 412.6l4.6 -4.0M332.9 416.3l4.6 -4.0M336.2 420.1l4.6 -4.0M339.6 423.8l4.6 -4.0M342.9 427.6l4.6 -4.0M346.2 431.3l4.6 -4.0M198.5 258.2l4.6 -4.0M205.1 265.7l4.6 -4.0M211.7 273.2l4.6 -4.0M218.3 280.7l4.6 -4.0M225.0 288.2l4.6 -4.0M231.6 295.7l4.6 -4.0M238.2 303.2l4.6 -4.0M244.8 310.7l4.6 -4.0M251.4 318.2l4.6 -4.0M258.0 325.7l4.6 -4.0M264.6 333.2l4.6 -4.0M271.2 340.7l4.6 -4.0M277.9 348.2l4.6 -4.0M284.5 355.7l4.6 -4.0M291.1 363.2l4.6 -4.0M297.7 370.7l4.6 -4.0M304.3 378.2l4.6 -4.0M310.9 385.7l4.6 -4.0M317.5 393.2l4.6 -4.0M324.1 400.7l4.6 -4.0M330.8 408.2l4.6 -4.0M337.4 415.7l4.6 -4.0M344.0 423.2l4.6 -4.0M197.4 245.8l4.5 -4.0M200.8 249.6l4.5 -4.0M204.1 253.3l4.5 -4.0M207.4 257.1l4.5 -4.0M210.7 260.8l4.5 -4.0M214.0 264.6l4.5 -4.0M217.3 268.3l4.5 -4.0M220.6 272.1l4.5 -4.0M223.9 275.8l4.5 -4.0M227.2 279.6l4.5 -4.0M230.5 283.3l4.5 -4.0M233.8 287.1l4.5 -4.0M237.1 290.8l4.5 -4.0M240.4 294.6l4.5 -4.0M243.7 298.3l4.5 -4.0M247.0 302.1l4.5 -4.0M250.4 305.8l4.5 -4.0M253.7 309.6l4.5 -4.0M257.0 313.3l4.5 -4.0M260.3 317.1l4.5 -4.0M263.6 320.8l4.5 -4.0M266.9 324.6l4.5 -4.0M270.2 328.3l4.5 -4.0M273.5 332.1l4.5 -4.0M276.8 335.8l4.5 -4.0M280.1 339.6l4.5 -4.0M283.4 343.3l4.5 -4.0M286.7 347.1l4.5 -4.0M290.0 350.8l4.5 -4.0M293.3 354.6l4.5 -4.0M296.6 358.3l4.5 -4.0M300.0 362.1l4.5 -4.0M303.3 365.8l4.5 -4.0M306.6 369.6l4.5 -4.0M309.9 373.3l4.5 -4.0M313.2 377.1l4.5 -4.0M316.5 380.8l4.5 -4.0M319.8 384.6l4.5 -4.0M323.1 388.3l4.5 -4.0M326.4 392.1l4.5 -4.0M329.7 395.8l4.5 -4.0M333.0 399.6l4.5 -4.0M336.3 403.3l4.5 -4.0M339.6 407.1l4.5 -4.0M342.9 410.8l4.5 -4.0M346.2 414.6l4.5 -4.0M198.6 241.5l4.5 -4.0M201.9 245.2l4.5 -4.0M205.2 249.0l4.5 -4.0M208.5 252.7l4.5 -4.0M211.8 256.5l4.5 -4.0M215.1 260.2l4.5 -4.0M218.4 264.0l4.5 -4.0M221.7 267.7l4.5 -4.0M225.0 271.5l4.5 -4.0M228.3 275.2l4.5 -4.0M231.6 279.0l4.5 -4.0M234.9 282.7l4.5 -4.0M238.3 286.5l4.5 -4.0M241.6 290.2l4.5 -4.0M244.9 294.0l4.5 -4.0M248.2 297.8l4.5 -4.0M251.5 301.5l4.5 -4.0M254.8 305.3l4.5 -4.0M258.1 309.0l4.5 -4.0M261.4 312.8l4.5 -4.0M264.7 316.5l4.5 -4.0M268.0 320.3l4.5 -4.0M271.3 324.0l4.5 -4.0M274.6 327.8l4.5 -4.0M277.9 331.5l4.5 -4.0M281.2 335.3l4.5 -4.0M284.5 339.0l4.5 -4.0M287.9 342.8l4.5 -4.0M291.2 346.5l4.5 -4.0M294.5 350.3l4.5 -4.0M297.8 354.0l4.5 -4.0M301.1 357.8l4.5 -4.0M304.4 361.5l4.5 -4.0M307.7 365.3l4.5 -4.0M311.0 369.0l4.5 -4.0M314.3 372.8l4.5 -4.0M317.6 376.5l4.5 -4.0M320.9 380.3l4.5 -4.0M324.2 384.0l4.5 -4.0M327.5 387.8l4.5 -4.0M330.8 391.5l4.5 -4.0M334.1 395.3l4.5 -4.0M337.5 399.0l4.5 -4.0M340.8 402.8l4.5 -4.0M344.1 406.5l4.5 -4.0M198.7 224.8l4.5 -4.0M202.0 228.5l4.5 -4.0M205.3 232.3l4.5 -4.0M208.6 236.0l4.5 -4.0M211.9 239.8l4.5 -4.0M215.2 243.5l4.5 -4.0M218.5 247.3l4.5 -4.0M221.8 251.0l4.5 -4.0M225.1 254.8l4.5 -4.0M228.4 258.5l4.5 -4.0M231.7 262.3l4.5 -4.0M235.0 266.0l4.5 -4.0M238.3 269.8l4.5 -4.0M241.6 273.5l4.5 -4.0M244.9 277.3l4.5 -4.0M248.3 281.0l4.5 -4.0M251.6 284.8l4.5 -4.0M254.9 288.5l4.5 -4.0M258.2 292.3l4.5 -4.0M261.5 296.0l4.5 -4.0M264.8 299.8l4.5 -4.0M268.1 303.5l4.5 -4.0M271.4 307.3l4.5 -4.0M274.7 311.0l4.5 -4.0M278.0 314.8l4.5 -4.0M281.3 318.5l4.5 -4.0M284.6 322.3l4.5 -4.0M287.9 326.0l4.5 -4.0M291.2 329.8l4.5 -4.0M294.5 333.5l4.5 -4.0M297.9 337.3l4.5 -4.0M301.2 341.0l4.5 -4.0M304.5 344.8l4.5 -4.0M307.8 348.5l4.5 -4.0M311.1 352.3l4.5 -4.0M314.4 356.0l4.5 -4.0M317.7 359.8l4.5 -4.0M321.0 363.5l4.5 -4.0M324.3 367.3l4.5 -4.0M327.6 371.0l4.5 -4.0M330.9 374.8l4.5 -4.0M334.2 378.5l4.5 -4.0M337.5 382.3l4.5 -4.0M340.8 386.0l4.5 -4.0M344.1 389.8l4.5 -4.0M196.5 216.7l4.5 -3.9M199.8 220.4l4.5 -3.9M203.1 224.2l4.5 -3.9M206.4 227.9l4.5 -3.9M209.7 231.7l4.5 -3.9M213.0 235.4l4.5 -3.9M216.3 239.2l4.5 -3.9M219.6 242.9l4.5 -3.9M222.9 246.7l4.5 -3.9M226.2 250.4l4.5 -3.9M229.5 254.2l4.5 -3.9M232.8 257.9l4.5 -3.9M236.2 261.7l4.5 -3.9M239.5 265.4l4.5 -3.9M242.8 269.2l4.5 -3.9M246.1 272.9l4.5 -3.9M249.4 276.7l4.5 -3.9M252.7 280.4l4.5 -3.9M256.0 284.2l4.5 -3.9M259.3 287.9l4.5 -3.9M262.6 291.7l4.5 -3.9M265.9 295.4l4.5 -3.9M269.2 299.2l4.5 -3.9M272.5 302.9l4.5 -3.9M275.8 306.7l4.5 -3.9M279.1 310.4l4.5 -3.9M282.4 314.2l4.5 -3.9M285.8 317.9l4.5 -3.9M289.1 321.7l4.5 -3.9M292.4 325.4l4.5 -3.9M295.7 329.2l4.5 -3.9M299.0 333.0l4.5 -3.9M302.3 336.7l4.5 -3.9M305.6 340.5l4.5 -3.9M308.9 344.2l4.5 -3.9M312.2 348.0l4.5 -3.9M315.5 351.7l4.5 -3.9M318.8 355.5l4.5 -3.9M322.1 359.2l4.5 -3.9M325.4 363.0l4.5 -3.9M328.7 366.7l4.5 -3.9M332.0 370.5l4.5 -3.9M335.3 374.2l4.5 -3.9M338.7 378.0l4.5 -3.9M342.0 381.7l4.5 -3.9M345.3 385.5l4.5 -3.9M200.9 216.1l4.5 -3.9M207.5 223.6l4.5 -3.9M214.1 231.1l4.5 -3.9M220.7 238.6l4.5 -3.9M227.4 246.1l4.5 -3.9M234.0 253.6l4.5 -3.9M240.6 261.1l4.5 -3.9M247.2 268.6l4.5 -3.9M253.8 276.1l4.5 -3.9M260.4 283.6l4.5 -3.9M267.0 291.1l4.5 -3.9M273.7 298.6l4.5 -3.9M280.3 306.1l4.5 -3.9M286.9 313.6l4.5 -3.9M293.5 321.1l4.5 -3.9M300.1 328.6l4.5 -3.9M306.7 336.1l4.5 -3.9M313.3 343.6l4.5 -3.9M319.9 351.1l4.5 -3.9M326.6 358.6l4.5 -3.9M333.2 366.1l4.5 -3.9M339.8 373.6l4.5 -3.9M346.4 381.1l4.5 -3.9M198.7 208.0l4.5 -3.9M205.3 215.5l4.5 -3.9M212.0 223.0l4.5 -3.9M218.6 230.5l4.5 -3.9M225.2 238.0l4.5 -3.9M231.8 245.5l4.5 -3.9M238.4 253.0l4.5 -3.9M245.0 260.5l4.5 -3.9M251.6 268.0l4.5 -3.9M258.2 275.5l4.5 -3.9M264.9 283.0l4.5 -3.9M271.5 290.5l4.5 -3.9M278.1 298.0l4.5 -3.9M284.7 305.5l4.5 -3.9M291.3 313.0l4.5 -3.9M297.9 320.5l4.5 -3.9M304.5 328.0l4.5 -3.9M311.2 335.5l4.5 -3.9M317.8 343.0l4.5 -3.9M324.4 350.6l4.5 -3.9M331.0 358.1l4.5 -3.9M337.6 365.6l4.5 -3.9M344.2 373.1l4.5 -3.9M196.6 200.0l4.4 -3.9M199.9 203.7l4.4 -3.9M203.2 207.5l4.4 -3.9M206.5 211.2l4.4 -3.9M209.8 215.0l4.4 -3.9M213.1 218.7l4.4 -3.9M216.4 222.5l4.4 -3.9M219.7 226.2l4.4 -3.9M223.0 230.0l4.4 -3.9M226.3 233.7l4.4 -3.9M229.6 237.5l4.4 -3.9M232.9 241.2l4.4 -3.9M236.2 245.0l4.4 -3.9M239.5 248.7l4.4 -3.9M242.8 252.5l4.4 -3.9M246.1 256.2l4.4 -3.9M249.5 260.0l4.4 -3.9M252.8 263.7l4.4 -3.9M256.1 267.5l4.4 -3.9M259.4 271.2l4.4 -3.9M262.7 275.0l4.4 -3.9M266.0 278.7l4.4 -3.9M269.3 282.5l4.4 -3.9M272.6 286.2l4.4 -3.9M275.9 290.0l4.4 -3.9M279.2 293.7l4.4 -3.9M282.5 297.5l4.4 -3.9M285.8 301.2l4.4 -3.9M289.1 305.0l4.4 -3.9M292.4 308.7l4.4 -3.9M295.7 312.5l4.4 -3.9M299.1 316.2l4.4 -3.9M302.4 320.0l4.4 -3.9M305.7 323.7l4.4 -3.9M309.0 327.5l4.4 -3.9M312.3 331.2l4.4 -3.9M315.6 335.0l4.4 -3.9M318.9 338.7l4.4 -3.9M322.2 342.5l4.4 -3.9M325.5 346.2l4.4 -3.9M328.8 350.0l4.4 -3.9M332.1 353.7l4.4 -3.9M335.4 357.5l4.4 -3.9M338.7 361.2l4.4 -3.9M342.0 365.0l4.4 -3.9M345.3 368.7l4.4 -3.9M197.7 195.6l4.4 -3.9M201.0 199.4l4.4 -3.9M204.3 203.1l4.4 -3.9M207.6 206.9l4.4 -3.9M210.9 210.6l4.4 -3.9M214.2 214.4l4.4 -3.9M217.5 218.1l4.4 -3.9M220.8 221.9l4.4 -3.9M224.1 225.6l4.4 -3.9M227.4 229.4l4.4 -3.9M230.7 233.1l4.4 -3.9M234.1 236.9l4.4 -3.9M237.4 240.6l4.4 -3.9M240.7 244.4l4.4 -3.9M244.0 248.1l4.4 -3.9M247.3 251.9l4.4 -3.9M250.6 255.6l4.4 -3.9M253.9 259.4l4.4 -3.9M257.2 263.1l4.4 -3.9M260.5 266.9l4.4 -3.9M263.8 270.6l4.4 -3.9M267.1 274.4l4.4 -3.9M270.4 278.1l4.4 -3.9M273.7 281.9l4.4 -3.9M277.0 285.6l4.4 -3.9M280.3 289.4l4.4 -3.9M283.6 293.1l4.4 -3.9M287.0 296.9l4.4 -3.9M290.3 300.6l4.4 -3.9M293.6 304.4l4.4 -3.9M296.9 308.1l4.4 -3.9M300.2 311.9l4.4 -3.9M303.5 315.6l4.4 -3.9M306.8 319.4l4.4 -3.9M310.1 323.1l4.4 -3.9M313.4 326.9l4.4 -3.9M316.7 330.6l4.4 -3.9M320.0 334.4l4.4 -3.9M323.3 338.1l4.4 -3.9M326.6 341.9l4.4 -3.9M329.9 345.6l4.4 -3.9M333.2 349.4l4.4 -3.9M336.6 353.1l4.4 -3.9M339.9 356.9l4.4 -3.9M343.2 360.6l4.4 -3.9M346.5 364.4l4.4 -3.9M197.8 178.9l4.4 -3.9M201.1 182.6l4.4 -3.9M204.4 186.4l4.4 -3.9M207.7 190.1l4.4 -3.9M211.0 193.9l4.4 -3.9M214.3 197.6l4.4 -3.9M217.6 201.4l4.4 -3.9M220.9 205.1l4.4 -3.9M224.2 208.9l4.4 -3.9M227.5 212.6l4.4 -3.9M230.8 216.4l4.4 -3.9M234.1 220.1l4.4 -3.9M237.4 223.9l4.4 -3.9M240.7 227.7l4.4 -3.9M244.0 231.4l4.4 -3.9M247.4 235.2l4.4 -3.9M250.7 238.9l4.4 -3.9M254.0 242.7l4.4 -3.9M257.3 246.4l4.4 -3.9M260.6 250.2l4.4 -3.9M263.9 253.9l4.4 -3.9M267.2 257.7l4.4 -3.9M270.5 261.4l4.4 -3.9M273.8 265.2l4.4 -3.9M277.1 268.9l4.4 -3.9M280.4 272.7l4.4 -3.9M283.7 276.4l4.4 -3.9M287.0 280.2l4.4 -3.9M290.3 283.9l4.4 -3.9M293.6 287.7l4.4 -3.9M297.0 291.4l4.4 -3.9M300.3 295.2l4.4 -3.9M303.6 298.9l4.4 -3.9M306.9 302.7l4.4 -3.9M310.2 306.4l4.4 -3.9M313.5 310.2l4.4 -3.9M316.8 313.9l4.4 -3.9M320.1 317.7l4.4 -3.9M323.4 321.4l4.4 -3.9M326.7 325.2l4.4 -3.9M330.0 328.9l4.4 -3.9M333.3 332.7l4.4 -3.9M336.6 336.4l4.4 -3.9M339.9 340.2l4.4 -3.9M343.2 343.9l4.4 -3.9M198.9 174.6l4.4 -3.9M202.2 178.3l4.4 -3.9M205.5 182.1l4.4 -3.9M208.8 185.8l4.4 -3.9M212.1 189.6l4.4 -3.9M215.4 193.3l4.4 -3.9M218.7 197.1l4.4 -3.9M222.0 200.8l4.4 -3.9M225.3 204.6l4.4 -3.9M228.6 208.3l4.4 -3.9M231.9 212.1l4.4 -3.9M235.3 215.8l4.4 -3.9M238.6 219.6l4.4 -3.9M241.9 223.3l4.4 -3.9M245.2 227.1l4.4 -3.9M248.5 230.8l4.4 -3.9M251.8 234.6l4.4 -3.9M255.1 238.3l4.4 -3.9M258.4 242.1l4.4 -3.9M261.7 245.8l4.4 -3.9M265.0 249.6l4.4 -3.9M268.3 253.3l4.4 -3.9M271.6 257.1l4.4 -3.9M274.9 260.8l4.4 -3.9M278.2 264.6l4.4 -3.9M281.5 268.3l4.4 -3.9M284.9 272.1l4.4 -3.9M288.2 275.8l4.4 -3.9M291.5 279.6l4.4 -3.9M294.8 283.3l4.4 -3.9M298.1 287.1l4.4 -3.9M301.4 290.8l4.4 -3.9M304.7 294.6l4.4 -3.9M308.0 298.3l4.4 -3.9M311.3 302.1l4.4 -3.9M314.6 305.8l4.4 -3.9M317.9 309.6l4.4 -3.9M321.2 313.3l4.4 -3.9M324.5 317.1l4.4 -3.9M327.8 320.8l4.4 -3.9M331.1 324.6l4.4 -3.9M334.5 328.3l4.4 -3.9M337.8 332.1l4.4 -3.9M341.1 335.8l4.4 -3.9M344.4 339.6l4.4 -3.9M196.7 166.5l4.4 -3.9M203.3 174.0l4.4 -3.9M209.9 181.5l4.4 -3.9M216.5 189.0l4.4 -3.9M223.2 196.5l4.4 -3.9M229.8 204.0l4.4 -3.9M236.4 211.5l4.4 -3.9M243.0 219.0l4.4 -3.9M249.6 226.5l4.4 -3.9M256.2 234.0l4.4 -3.9M262.8 241.5l4.4 -3.9M269.4 249.0l4.4 -3.9M276.1 256.5l4.4 -3.9M282.7 264.0l4.4 -3.9M289.3 271.5l4.4 -3.9M295.9 279.0l4.4 -3.9M302.5 286.5l4.4 -3.9M309.1 294.0l4.4 -3.9M315.7 301.5l4.4 -3.9M322.4 309.0l4.4 -3.9M329.0 316.5l4.4 -3.9M335.6 324.0l4.4 -3.9M342.2 331.5l4.4 -3.9M201.1 165.9l4.4 -3.8M207.8 173.4l4.4 -3.8M214.4 180.9l4.4 -3.8M221.0 188.4l4.4 -3.8M227.6 195.9l4.4 -3.8M234.2 203.4l4.4 -3.8M240.8 210.9l4.4 -3.8M247.4 218.4l4.4 -3.8M254.0 225.9l4.4 -3.8M260.7 233.4l4.4 -3.8M267.3 240.9l4.4 -3.8M273.9 248.4l4.4 -3.8M280.5 255.9l4.4 -3.8M287.1 263.4l4.4 -3.8M293.7 270.9l4.4 -3.8M300.3 278.4l4.4 -3.8M306.9 285.9l4.4 -3.8M313.6 293.4l4.4 -3.8M320.2 300.9l4.4 -3.8M326.8 308.4l4.4 -3.8M333.4 315.9l4.4 -3.8M340.0 323.4l4.4 -3.8M199.0 157.8l4.4 -3.8M202.3 161.6l4.4 -3.8M205.6 165.3l4.4 -3.8M208.9 169.1l4.4 -3.8M212.2 172.8l4.4 -3.8M215.5 176.6l4.4 -3.8M218.8 180.3l4.4 -3.8M222.1 184.1l4.4 -3.8M225.4 187.8l4.4 -3.8M228.7 191.6l4.4 -3.8M232.0 195.3l4.4 -3.8M235.3 199.1l4.4 -3.8M238.6 202.8l4.4 -3.8M241.9 206.6l4.4 -3.8M245.3 210.3l4.4 -3.8M248.6 214.1l4.4 -3.8M251.9 217.8l4.4 -3.8M255.2 221.6l4.4 -3.8M258.5 225.3l4.4 -3.8M261.8 229.1l4.4 -3.8M265.1 232.8l4.4 -3.8M268.4 236.6l4.4 -3.8M271.7 240.3l4.4 -3.8M275.0 244.1l4.4 -3.8M278.3 247.8l4.4 -3.8M281.6 251.6l4.4 -3.8M284.9 255.3l4.4 -3.8M288.2 259.1l4.4 -3.8M291.5 262.9l4.4 -3.8M294.8 266.6l4.4 -3.8M298.2 270.4l4.4 -3.8M301.5 274.1l4.4 -3.8M304.8 277.9l4.4 -3.8M308.1 281.6l4.4 -3.8M311.4 285.4l4.4 -3.8M314.7 289.1l4.4 -3.8M318.0 292.9l4.4 -3.8M321.3 296.6l4.4 -3.8M324.6 300.4l4.4 -3.8M327.9 304.1l4.4 -3.8M331.2 307.9l4.4 -3.8M334.5 311.6l4.4 -3.8M337.8 315.4l4.4 -3.8M341.1 319.1l4.4 -3.8M344.4 322.9l4.4 -3.8M196.8 149.8l4.3 -3.8M200.1 153.5l4.3 -3.8M203.4 157.3l4.3 -3.8M206.7 161.0l4.3 -3.8M210.0 164.8l4.3 -3.8M213.3 168.5l4.3 -3.8M216.6 172.3l4.3 -3.8M219.9 176.0l4.3 -3.8M223.2 179.8l4.3 -3.8M226.5 183.5l4.3 -3.8M229.8 187.3l4.3 -3.8M233.2 191.0l4.3 -3.8M236.5 194.8l4.3 -3.8M239.8 198.5l4.3 -3.8M243.1 202.3l4.3 -3.8M246.4 206.0l4.3 -3.8M249.7 209.8l4.3 -3.8M253.0 213.5l4.3 -3.8M256.3 217.3l4.3 -3.8M259.6 221.0l4.3 -3.8M262.9 224.8l4.3 -3.8M266.2 228.5l4.3 -3.8M269.5 232.3l4.3 -3.8M272.8 236.0l4.3 -3.8M276.1 239.8l4.3 -3.8M279.4 243.5l4.3 -3.8M282.8 247.3l4.3 -3.8M286.1 251.0l4.3 -3.8M289.4 254.8l4.3 -3.8M292.7 258.5l4.3 -3.8M296.0 262.3l4.3 -3.8M299.3 266.0l4.3 -3.8M302.6 269.8l4.3 -3.8M305.9 273.5l4.3 -3.8M309.2 277.3l4.3 -3.8M312.5 281.0l4.3 -3.8M315.8 284.8l4.3 -3.8M319.1 288.5l4.3 -3.8M322.4 292.3l4.3 -3.8M325.7 296.0l4.3 -3.8M329.0 299.8l4.3 -3.8M332.3 303.5l4.3 -3.8M335.7 307.3l4.3 -3.8M339.0 311.0l4.3 -3.8M342.3 314.8l4.3 -3.8M345.6 318.5l4.3 -3.8M196.9 133.0l4.3 -3.8M200.2 136.8l4.3 -3.8M203.5 140.5l4.3 -3.8M206.8 144.3l4.3 -3.8M210.1 148.0l4.3 -3.8M213.4 151.8l4.3 -3.8M216.7 155.5l4.3 -3.8M220.0 159.3l4.3 -3.8M223.3 163.0l4.3 -3.8M226.6 166.8l4.3 -3.8M229.9 170.5l4.3 -3.8M233.2 174.3l4.3 -3.8M236.5 178.0l4.3 -3.8M239.8 181.8l4.3 -3.8M243.1 185.5l4.3 -3.8M246.5 189.3l4.3 -3.8M249.8 193.0l4.3 -3.8M253.1 196.8l4.3 -3.8M256.4 200.5l4.3 -3.8M259.7 204.3l4.3 -3.8M263.0 208.0l4.3 -3.8M266.3 211.8l4.3 -3.8M269.6 215.5l4.3 -3.8M272.9 219.3l4.3 -3.8M276.2 223.0l4.3 -3.8M279.5 226.8l4.3 -3.8M282.8 230.5l4.3 -3.8M286.1 234.3l4.3 -3.8M289.4 238.0l4.3 -3.8M292.7 241.8l4.3 -3.8M296.1 245.5l4.3 -3.8M299.4 249.3l4.3 -3.8M302.7 253.0l4.3 -3.8M306.0 256.8l4.3 -3.8M309.3 260.5l4.3 -3.8M312.6 264.3l4.3 -3.8M315.9 268.0l4.3 -3.8M319.2 271.8l4.3 -3.8M322.5 275.5l4.3 -3.8M325.8 279.3l4.3 -3.8M329.1 283.0l4.3 -3.8M332.4 286.8l4.3 -3.8M335.7 290.5l4.3 -3.8M339.0 294.3l4.3 -3.8M342.3 298.0l4.3 -3.8M345.7 301.8l4.3 -3.8M198.0 128.7l4.3 -3.8M201.3 132.4l4.3 -3.8M204.6 136.2l4.3 -3.8M207.9 140.0l4.3 -3.8M211.2 143.7l4.3 -3.8M214.5 147.5l4.3 -3.8M217.8 151.2l4.3 -3.8M221.1 155.0l4.3 -3.8M224.4 158.7l4.3 -3.8M227.7 162.5l4.3 -3.8M231.0 166.2l4.3 -3.8M234.4 170.0l4.3 -3.8M237.7 173.7l4.3 -3.8M241.0 177.5l4.3 -3.8M244.3 181.2l4.3 -3.8M247.6 185.0l4.3 -3.8M250.9 188.7l4.3 -3.8M254.2 192.5l4.3 -3.8M257.5 196.2l4.3 -3.8M260.8 200.0l4.3 -3.8M264.1 203.7l4.3 -3.8M267.4 207.5l4.3 -3.8M270.7 211.2l4.3 -3.8M274.0 215.0l4.3 -3.8M277.3 218.7l4.3 -3.8M280.6 222.5l4.3 -3.8M284.0 226.2l4.3 -3.8M287.3 230.0l4.3 -3.8M290.6 233.7l4.3 -3.8M293.9 237.5l4.3 -3.8M297.2 241.2l4.3 -3.8M300.5 245.0l4.3 -3.8M303.8 248.7l4.3 -3.8M307.1 252.5l4.3 -3.8M310.4 256.2l4.3 -3.8M313.7 260.0l4.3 -3.8M317.0 263.7l4.3 -3.8M320.3 267.5l4.3 -3.8M323.6 271.2l4.3 -3.8M326.9 275.0l4.3 -3.8M330.2 278.7l4.3 -3.8M333.6 282.5l4.3 -3.8M336.9 286.2l4.3 -3.8M340.2 290.0l4.3 -3.8M343.5 293.7l4.3 -3.8M199.1 124.4l4.3 -3.8M205.7 131.9l4.3 -3.8M212.3 139.4l4.3 -3.8M219.0 146.9l4.3 -3.8M225.6 154.4l4.3 -3.8M232.2 161.9l4.3 -3.8M238.8 169.4l4.3 -3.8M245.4 176.9l4.3 -3.8M252.0 184.4l4.3 -3.8M258.6 191.9l4.3 -3.8M265.2 199.4l4.3 -3.8M271.9 206.9l4.3 -3.8M278.5 214.4l4.3 -3.8M285.1 221.9l4.3 -3.8M291.7 229.4l4.3 -3.8M298.3 236.9l4.3 -3.8M304.9 244.4l4.3 -3.8M311.5 251.9l4.3 -3.8M318.1 259.4l4.3 -3.8M324.8 266.9l4.3 -3.8M331.4 274.4l4.3 -3.8M338.0 281.9l4.3 -3.8M344.6 289.4l4.3 -3.8M196.9 116.3l4.3 -3.8M200.2 120.0l4.3 -3.8M203.5 123.8l4.3 -3.8M206.9 127.5l4.3 -3.8M210.2 131.3l4.3 -3.8M213.5 135.0l4.3 -3.8M216.8 138.8l4.3 -3.8M220.1 142.5l4.3 -3.8M223.4 146.3l4.3 -3.8M226.7 150.0l4.3 -3.8M230.0 153.8l4.3 -3.8M233.3 157.5l4.3 -3.8M236.6 161.3l4.3 -3.8M239.9 165.1l4.3 -3.8M243.2 168.8l4.3 -3.8M246.5 172.6l4.3 -3.8M249.8 176.3l4.3 -3.8M253.1 180.1l4.3 -3.8M256.5 183.8l4.3 -3.8M259.8 187.6l4.3 -3.8M263.1 191.3l4.3 -3.8M266.4 195.1l4.3 -3.8M269.7 198.8l4.3 -3.8M273.0 202.6l4.3 -3.8M276.3 206.3l4.3 -3.8M279.6 210.1l4.3 -3.8M282.9 213.8l4.3 -3.8M286.2 217.6l4.3 -3.8M289.5 221.3l4.3 -3.8M292.8 225.1l4.3 -3.8M296.1 228.8l4.3 -3.8M299.4 232.6l4.3 -3.8M302.7 236.3l4.3 -3.8M306.0 240.1l4.3 -3.8M309.4 243.8l4.3 -3.8M312.7 247.6l4.3 -3.8M316.0 251.3l4.3 -3.8M319.3 255.1l4.3 -3.8M322.6 258.8l4.3 -3.8M325.9 262.6l4.3 -3.8M329.2 266.3l4.3 -3.8M332.5 270.1l4.3 -3.8M335.8 273.8l4.3 -3.8M339.1 277.6l4.3 -3.8M342.4 281.3l4.3 -3.8M345.7 285.1l4.3 -3.8M198.1 112.0l4.3 -3.8M201.4 115.7l4.3 -3.8M204.7 119.5l4.3 -3.8M208.0 123.2l4.3 -3.8M211.3 127.0l4.3 -3.8M214.6 130.7l4.3 -3.8M217.9 134.5l4.3 -3.8M221.2 138.2l4.3 -3.8M224.5 142.0l4.3 -3.8M227.8 145.7l4.3 -3.8M231.1 149.5l4.3 -3.8M234.4 153.2l4.3 -3.8M237.7 157.0l4.3 -3.8M241.0 160.7l4.3 -3.8M244.4 164.5l4.3 -3.8M247.7 168.2l4.3 -3.8M251.0 172.0l4.3 -3.8M254.3 175.7l4.3 -3.8M257.6 179.5l4.3 -3.8M260.9 183.2l4.3 -3.8M264.2 187.0l4.3 -3.8M267.5 190.7l4.3 -3.8M270.8 194.5l4.3 -3.8M274.1 198.2l4.3 -3.8M277.4 202.0l4.3 -3.8M280.7 205.7l4.3 -3.8M284.0 209.5l4.3 -3.8M287.3 213.2l4.3 -3.8M290.6 217.0l4.3 -3.8M294.0 220.7l4.3 -3.8M297.3 224.5l4.3 -3.8M300.6 228.2l4.3 -3.8M303.9 232.0l4.3 -3.8M307.2 235.7l4.3 -3.8M310.5 239.5l4.3 -3.8M313.8 243.2l4.3 -3.8M317.1 247.0l4.3 -3.8M320.4 250.7l4.3 -3.8M323.7 254.5l4.3 -3.8M327.0 258.2l4.3 -3.8M330.3 262.0l4.3 -3.8M333.6 265.7l4.3 -3.8M336.9 269.5l4.3 -3.8M340.2 273.2l4.3 -3.8M343.5 277.0l4.3 -3.8M195.9 103.9l4.3 -3.7M199.2 107.6l4.3 -3.7M202.5 111.4l4.3 -3.7M205.8 115.1l4.3 -3.7M209.1 118.9l4.3 -3.7M212.4 122.6l4.3 -3.7M215.7 126.4l4.3 -3.7M219.0 130.1l4.3 -3.7M222.3 133.9l4.3 -3.7M225.6 137.6l4.3 -3.7M228.9 141.4l4.3 -3.7M232.3 145.1l4.3 -3.7M235.6 148.9l4.3 -3.7M238.9 152.6l4.3 -3.7M242.2 156.4l4.3 -3.7M245.5 160.1l4.3 -3.7M248.8 163.9l4.3 -3.7M252.1 167.6l4.3 -3.7M255.4 171.4l4.3 -3.7M258.7 175.1l4.3 -3.7M262.0 178.9l4.3 -3.7M265.3 182.7l4.3 -3.7M268.6 186.4l4.3 -3.7M271.9 190.2l4.3 -3.7M275.2 193.9l4.3 -3.7M278.5 197.7l4.3 -3.7M281.9 201.4l4.3 -3.7M285.2 205.2l4.3 -3.7M288.5 208.9l4.3 -3.7M291.8 212.7l4.3 -3.7M295.1 216.4l4.3 -3.7M298.4 220.2l4.3 -3.7M301.7 223.9l4.3 -3.7M305.0 227.7l4.3 -3.7M308.3 231.4l4.3 -3.7M311.6 235.2l4.3 -3.7M314.9 238.9l4.3 -3.7M318.2 242.7l4.3 -3.7M321.5 246.4l4.3 -3.7M324.8 250.2l4.3 -3.7M328.1 253.9l4.3 -3.7M331.5 257.7l4.3 -3.7M334.8 261.4l4.3 -3.7M338.1 265.2l4.3 -3.7M341.4 268.9l4.3 -3.7M344.7 272.7l4.3 -3.7M197.0 99.6l4.2 -3.7M203.6 107.1l4.2 -3.7M210.2 114.6l4.2 -3.7M216.8 122.1l4.2 -3.7M223.5 129.6l4.2 -3.7M230.1 137.1l4.2 -3.7M236.7 144.6l4.2 -3.7M243.3 152.1l4.2 -3.7M249.9 159.6l4.2 -3.7M256.5 167.1l4.2 -3.7M263.1 174.6l4.2 -3.7M269.8 182.1l4.2 -3.7M276.4 189.6l4.2 -3.7M283.0 197.1l4.2 -3.7M289.6 204.6l4.2 -3.7M296.2 212.1l4.2 -3.7M302.8 219.6l4.2 -3.7M309.4 227.1l4.2 -3.7M316.0 234.6l4.2 -3.7M322.7 242.1l4.2 -3.7M329.3 249.6l4.2 -3.7M335.9 257.1l4.2 -3.7M342.5 264.6l4.2 -3.7M196.0 87.2l4.2 -3.7M199.3 90.9l4.2 -3.7M202.6 94.7l4.2 -3.7M205.9 98.4l4.2 -3.7M209.2 102.2l4.2 -3.7M212.5 105.9l4.2 -3.7M215.8 109.7l4.2 -3.7M219.1 113.4l4.2 -3.7M222.4 117.2l4.2 -3.7M225.7 120.9l4.2 -3.7M229.0 124.7l4.2 -3.7M232.3 128.4l4.2 -3.7M235.6 132.2l4.2 -3.7M238.9 135.9l4.2 -3.7M242.2 139.7l4.2 -3.7M245.6 143.4l4.2 -3.7M248.9 147.2l4.2 -3.7M252.2 150.9l4.2 -3.7M255.5 154.7l4.2 -3.7M258.8 158.4l4.2 -3.7M262.1 162.2l4.2 -3.7M265.4 165.9l4.2 -3.7M268.7 169.7l4.2 -3.7M272.0 173.4l4.2 -3.7M275.3 177.2l4.2 -3.7M278.6 180.9l4.2 -3.7M281.9 184.7l4.2 -3.7M285.2 188.4l4.2 -3.7M288.5 192.2l4.2 -3.7M291.8 195.9l4.2 -3.7M295.2 199.7l4.2 -3.7M298.5 203.4l4.2 -3.7M301.8 207.2l4.2 -3.7M305.1 210.9l4.2 -3.7M308.4 214.7l4.2 -3.7M311.7 218.4l4.2 -3.7M315.0 222.2l4.2 -3.7M318.3 225.9l4.2 -3.7M321.6 229.7l4.2 -3.7M324.9 233.4l4.2 -3.7M328.2 237.2l4.2 -3.7M331.5 240.9l4.2 -3.7M334.8 244.7l4.2 -3.7M338.1 248.4l4.2 -3.7M341.4 252.2l4.2 -3.7M344.8 255.9l4.2 -3.7M197.1 82.8l4.2 -3.7M200.4 86.6l4.2 -3.7M203.7 90.3l4.2 -3.7M207.0 94.1l4.2 -3.7M210.3 97.8l4.2 -3.7M213.6 101.6l4.2 -3.7M216.9 105.3l4.2 -3.7M220.2 109.1l4.2 -3.7M223.5 112.8l4.2 -3.7M226.8 116.6l4.2 -3.7M230.2 120.3l4.2 -3.7M233.5 124.1l4.2 -3.7M236.8 127.8l4.2 -3.7M240.1 131.6l4.2 -3.7M243.4 135.3l4.2 -3.7M246.7 139.1l4.2 -3.7M250.0 142.8l4.2 -3.7M253.3 146.6l4.2 -3.7M256.6 150.3l4.2 -3.7M259.9 154.1l4.2 -3.7M263.2 157.8l4.2 -3.7M266.5 161.6l4.2 -3.7M269.8 165.3l4.2 -3.7M273.1 169.1l4.2 -3.7M276.4 172.8l4.2 -3.7M279.7 176.6l4.2 -3.7M283.1 180.3l4.2 -3.7M286.4 184.1l4.2 -3.7M289.7 187.8l4.2 -3.7M293.0 191.6l4.2 -3.7M296.3 195.3l4.2 -3.7M299.6 199.1l4.2 -3.7M302.9 202.8l4.2 -3.7M306.2 206.6l4.2 -3.7M309.5 210.3l4.2 -3.7M312.8 214.1l4.2 -3.7M316.1 217.9l4.2 -3.7M319.4 221.6l4.2 -3.7M322.7 225.4l4.2 -3.7M326.0 229.1l4.2 -3.7M329.3 232.9l4.2 -3.7M332.7 236.6l4.2 -3.7M336.0 240.4l4.2 -3.7M339.3 244.1l4.2 -3.7M342.6 247.9l4.2 -3.7M345.9 251.6l4.2 -3.7M201.5 82.3l4.2 -3.7M208.1 89.8l4.2 -3.7M214.7 97.3l4.2 -3.7M221.4 104.8l4.2 -3.7M228.0 112.3l4.2 -3.7M234.6 119.8l4.2 -3.7M241.2 127.3l4.2 -3.7M247.8 134.8l4.2 -3.7M254.4 142.3l4.2 -3.7M261.0 149.8l4.2 -3.7M267.7 157.3l4.2 -3.7M274.3 164.8l4.2 -3.7M280.9 172.3l4.2 -3.7M287.5 179.8l4.2 -3.7M294.1 187.3l4.2 -3.7M300.7 194.8l4.2 -3.7M307.3 202.3l4.2 -3.7M313.9 209.8l4.2 -3.7M320.6 217.3l4.2 -3.7M327.2 224.8l4.2 -3.7M333.8 232.3l4.2 -3.7M340.4 239.8l4.2 -3.7M196.0 70.4l4.2 -3.7M199.3 74.2l4.2 -3.7M202.6 77.9l4.2 -3.7M206.0 81.7l4.2 -3.7M209.3 85.4l4.2 -3.7M212.6 89.2l4.2 -3.7M215.9 92.9l4.2 -3.7M219.2 96.7l4.2 -3.7M222.5 100.4l4.2 -3.7M225.8 104.2l4.2 -3.7M229.1 107.9l4.2 -3.7M232.4 111.7l4.2 -3.7M235.7 115.4l4.2 -3.7M239.0 119.2l4.2 -3.7M242.3 122.9l4.2 -3.7M245.6 126.7l4.2 -3.7M248.9 130.4l4.2 -3.7M252.2 134.2l4.2 -3.7M255.6 137.9l4.2 -3.7M258.9 141.7l4.2 -3.7M262.2 145.4l4.2 -3.7M265.5 149.2l4.2 -3.7M268.8 152.9l4.2 -3.7M272.1 156.7l4.2 -3.7M275.4 160.4l4.2 -3.7M278.7 164.2l4.2 -3.7M282.0 167.9l4.2 -3.7M285.3 171.7l4.2 -3.7M288.6 175.4l4.2 -3.7M291.9 179.2l4.2 -3.7M295.2 182.9l4.2 -3.7M298.5 186.7l4.2 -3.7M301.8 190.4l4.2 -3.7M305.2 194.2l4.2 -3.7M308.5 197.9l4.2 -3.7M311.8 201.7l4.2 -3.7M315.1 205.4l4.2 -3.7M318.4 209.2l4.2 -3.7M321.7 212.9l4.2 -3.7M325.0 216.7l4.2 -3.7M328.3 220.4l4.2 -3.7M331.6 224.2l4.2 -3.7M334.9 227.9l4.2 -3.7M338.2 231.7l4.2 -3.7M341.5 235.5l4.2 -3.7M344.8 239.2l4.2 -3.7M197.2 66.1l4.2 -3.7M200.5 69.8l4.2 -3.7M203.8 73.6l4.2 -3.7M207.1 77.4l4.2 -3.7M210.4 81.1l4.2 -3.7M213.7 84.9l4.2 -3.7M217.0 88.6l4.2 -3.7M220.3 92.4l4.2 -3.7M223.6 96.1l4.2 -3.7M226.9 99.9l4.2 -3.7M230.2 103.6l4.2 -3.7M233.5 107.4l4.2 -3.7M236.8 111.1l4.2 -3.7M240.1 114.9l4.2 -3.7M243.5 118.6l4.2 -3.7M246.8 122.4l4.2 -3.7M250.1 126.1l4.2 -3.7M253.4 129.9l4.2 -3.7M256.7 133.6l4.2 -3.7M260.0 137.4l4.2 -3.7M263.3 141.1l4.2 -3.7M266.6 144.9l4.2 -3.7M269.9 148.6l4.2 -3.7M273.2 152.4l4.2 -3.7M276.5 156.1l4.2 -3.7M279.8 159.9l4.2 -3.7M283.1 163.6l4.2 -3.7M286.4 167.4l4.2 -3.7M289.7 171.1l4.2 -3.7M293.1 174.9l4.2 -3.7M296.4 178.6l4.2 -3.7M299.7 182.4l4.2 -3.7M303.0 186.1l4.2 -3.7M306.3 189.9l4.2 -3.7M309.6 193.6l4.2 -3.7M312.9 197.4l4.2 -3.7M316.2 201.1l4.2 -3.7M319.5 204.9l4.2 -3.7M322.8 208.6l4.2 -3.7M326.1 212.4l4.2 -3.7M329.4 216.1l4.2 -3.7M332.7 219.9l4.2 -3.7M336.0 223.6l4.2 -3.7M339.3 227.4l4.2 -3.7M342.7 231.1l4.2 -3.7M346.0 234.9l4.2 -3.7M198.3 61.8l4.2 -3.7M201.6 65.5l4.2 -3.7M204.9 69.3l4.2 -3.7M208.2 73.0l4.2 -3.7M211.5 76.8l4.2 -3.7M214.8 80.5l4.2 -3.7M218.1 84.3l4.2 -3.7M221.4 88.0l4.2 -3.7M224.7 91.8l4.2 -3.7M228.0 95.5l4.2 -3.7M231.4 99.3l4.2 -3.7M234.7 103.0l4.2 -3.7M238.0 106.8l4.2 -3.7M241.3 110.5l4.2 -3.7M244.6 114.3l4.2 -3.7M247.9 118.0l4.2 -3.7M251.2 121.8l4.2 -3.7M254.5 125.5l4.2 -3.7M257.8 129.3l4.2 -3.7M261.1 133.0l4.2 -3.7M264.4 136.8l4.2 -3.7M267.7 140.5l4.2 -3.7M271.0 144.3l4.2 -3.7M274.3 148.0l4.2 -3.7M277.6 151.8l4.2 -3.7M281.0 155.5l4.2 -3.7M284.3 159.3l4.2 -3.7M287.6 163.0l4.2 -3.7M290.9 166.8l4.2 -3.7M294.2 170.5l4.2 -3.7M297.5 174.3l4.2 -3.7M300.8 178.0l4.2 -3.7M304.1 181.8l4.2 -3.7M307.4 185.5l4.2 -3.7M310.7 189.3l4.2 -3.7M314.0 193.0l4.2 -3.7M317.3 196.8l4.2 -3.7M320.6 200.5l4.2 -3.7M323.9 204.3l4.2 -3.7M327.2 208.0l4.2 -3.7M330.6 211.8l4.2 -3.7M333.9 215.5l4.2 -3.7M337.2 219.3l4.2 -3.7M340.5 223.0l4.2 -3.7M343.8 226.8l4.2 -3.7M199.4 57.4l4.2 -3.7M206.0 64.9l4.2 -3.7M212.6 72.4l4.2 -3.7M219.3 79.9l4.2 -3.7M225.9 87.4l4.2 -3.7M232.5 95.0l4.2 -3.7M239.1 102.5l4.2 -3.7M245.7 110.0l4.2 -3.7M252.3 117.5l4.2 -3.7M258.9 125.0l4.2 -3.7M265.5 132.5l4.2 -3.7M272.2 140.0l4.2 -3.7M278.8 147.5l4.2 -3.7M285.4 155.0l4.2 -3.7M292.0 162.5l4.2 -3.7M298.6 170.0l4.2 -3.7M305.2 177.5l4.2 -3.7M311.8 185.0l4.2 -3.7M318.5 192.5l4.2 -3.7M325.1 200.0l4.2 -3.7M331.7 207.5l4.2 -3.7M338.3 215.0l4.2 -3.7M344.9 222.5l4.2 -3.7M203.9 56.9l4.1 -3.7M210.5 64.4l4.1 -3.7M217.1 71.9l4.1 -3.7M223.7 79.4l4.1 -3.7M230.3 86.9l4.1 -3.7M236.9 94.4l4.1 -3.7M243.5 101.9l4.1 -3.7M250.1 109.4l4.1 -3.7M256.8 116.9l4.1 -3.7M263.4 124.4l4.1 -3.7M270.0 131.9l4.1 -3.7M276.6 139.4l4.1 -3.7M283.2 146.9l4.1 -3.7M289.8 154.4l4.1 -3.7M296.4 161.9l4.1 -3.7M303.0 169.4l4.1 -3.7M309.7 176.9l4.1 -3.7M316.3 184.4l4.1 -3.7M322.9 191.9l4.1 -3.7M329.5 199.4l4.1 -3.7M336.1 206.9l4.1 -3.7M342.7 214.4l4.1 -3.7M205.0 52.5l4.1 -3.6M208.3 56.3l4.1 -3.6M211.6 60.0l4.1 -3.6M214.9 63.8l4.1 -3.6M218.2 67.5l4.1 -3.6M221.5 71.3l4.1 -3.6M224.8 75.0l4.1 -3.6M228.1 78.8l4.1 -3.6M231.4 82.5l4.1 -3.6M234.7 86.3l4.1 -3.6M238.0 90.0l4.1 -3.6M241.4 93.8l4.1 -3.6M244.7 97.5l4.1 -3.6M248.0 101.3l4.1 -3.6M251.3 105.0l4.1 -3.6M254.6 108.8l4.1 -3.6M257.9 112.6l4.1 -3.6M261.2 116.3l4.1 -3.6M264.5 120.1l4.1 -3.6M267.8 123.8l4.1 -3.6M271.1 127.6l4.1 -3.6M274.4 131.3l4.1 -3.6M277.7 135.1l4.1 -3.6M281.0 138.8l4.1 -3.6M284.3 142.6l4.1 -3.6M287.6 146.3l4.1 -3.6M290.9 150.1l4.1 -3.6M294.3 153.8l4.1 -3.6M297.6 157.6l4.1 -3.6M300.9 161.3l4.1 -3.6M304.2 165.1l4.1 -3.6M307.5 168.8l4.1 -3.6M310.8 172.6l4.1 -3.6M314.1 176.3l4.1 -3.6M317.4 180.1l4.1 -3.6M320.7 183.8l4.1 -3.6M324.0 187.6l4.1 -3.6M327.3 191.3l4.1 -3.6M330.6 195.1l4.1 -3.6M333.9 198.8l4.1 -3.6M337.2 202.6l4.1 -3.6M340.5 206.3l4.1 -3.6M343.9 210.1l4.1 -3.6M209.4 52.0l4.1 -3.6M212.7 55.7l4.1 -3.6M216.0 59.5l4.1 -3.6M219.3 63.2l4.1 -3.6M222.6 67.0l4.1 -3.6M225.9 70.7l4.1 -3.6M229.3 74.5l4.1 -3.6M232.6 78.2l4.1 -3.6M235.9 82.0l4.1 -3.6M239.2 85.7l4.1 -3.6M242.5 89.5l4.1 -3.6M245.8 93.2l4.1 -3.6M249.1 97.0l4.1 -3.6M252.4 100.7l4.1 -3.6M255.7 104.5l4.1 -3.6M259.0 108.2l4.1 -3.6M262.3 112.0l4.1 -3.6M265.6 115.7l4.1 -3.6M268.9 119.5l4.1 -3.6M272.2 123.2l4.1 -3.6M275.5 127.0l4.1 -3.6M278.9 130.7l4.1 -3.6M282.2 134.5l4.1 -3.6M285.5 138.2l4.1 -3.6M288.8 142.0l4.1 -3.6M292.1 145.7l4.1 -3.6M295.4 149.5l4.1 -3.6M298.7 153.2l4.1 -3.6M302.0 157.0l4.1 -3.6M305.3 160.7l4.1 -3.6M308.6 164.5l4.1 -3.6M311.9 168.2l4.1 -3.6M315.2 172.0l4.1 -3.6M318.5 175.7l4.1 -3.6M321.8 179.5l4.1 -3.6M325.1 183.2l4.1 -3.6M328.4 187.0l4.1 -3.6M331.8 190.7l4.1 -3.6M335.1 194.5l4.1 -3.6M338.4 198.2l4.1 -3.6M341.7 202.0l4.1 -3.6M345.0 205.7l4.1 -3.6M217.2 55.1l4.1 -3.6M223.8 62.6l4.1 -3.6M230.4 70.1l4.1 -3.6M237.0 77.6l4.1 -3.6M243.6 85.1l4.1 -3.6M250.2 92.6l4.1 -3.6M256.8 100.1l4.1 -3.6M263.4 107.6l4.1 -3.6M270.1 115.1l4.1 -3.6M276.7 122.6l4.1 -3.6M283.3 130.2l4.1 -3.6M289.9 137.7l4.1 -3.6M296.5 145.2l4.1 -3.6M303.1 152.7l4.1 -3.6M309.7 160.2l4.1 -3.6M316.4 167.7l4.1 -3.6M323.0 175.2l4.1 -3.6M329.6 182.7l4.1 -3.6M336.2 190.2l4.1 -3.6M342.8 197.7l4.1 -3.6M221.6 54.6l4.1 -3.6M224.9 58.3l4.1 -3.6M228.2 62.1l4.1 -3.6M231.5 65.8l4.1 -3.6M234.8 69.6l4.1 -3.6M238.1 73.3l4.1 -3.6M241.4 77.1l4.1 -3.6M244.7 80.8l4.1 -3.6M248.0 84.6l4.1 -3.6M251.3 88.3l4.1 -3.6M254.7 92.1l4.1 -3.6M258.0 95.8l4.1 -3.6M261.3 99.6l4.1 -3.6M264.6 103.3l4.1 -3.6M267.9 107.1l4.1 -3.6M271.2 110.8l4.1 -3.6M274.5 114.6l4.1 -3.6M277.8 118.3l4.1 -3.6M281.1 122.1l4.1 -3.6M284.4 125.8l4.1 -3.6M287.7 129.6l4.1 -3.6M291.0 133.3l4.1 -3.6M294.3 137.1l4.1 -3.6M297.6 140.8l4.1 -3.6M300.9 144.6l4.1 -3.6M304.3 148.3l4.1 -3.6M307.6 152.1l4.1 -3.6M310.9 155.8l4.1 -3.6M314.2 159.6l4.1 -3.6M317.5 163.3l4.1 -3.6M320.8 167.1l4.1 -3.6M324.1 170.8l4.1 -3.6M327.4 174.6l4.1 -3.6M330.7 178.3l4.1 -3.6M334.0 182.1l4.1 -3.6M337.3 185.8l4.1 -3.6M340.6 189.6l4.1 -3.6M343.9 193.3l4.1 -3.6M226.0 54.0l4.1 -3.6M229.3 57.7l4.1 -3.6M232.6 61.5l4.1 -3.6M235.9 65.2l4.1 -3.6M239.2 69.0l4.1 -3.6M242.6 72.7l4.1 -3.6M245.9 76.5l4.1 -3.6M249.2 80.2l4.1 -3.6M252.5 84.0l4.1 -3.6M255.8 87.7l4.1 -3.6M259.1 91.5l4.1 -3.6M262.4 95.2l4.1 -3.6M265.7 99.0l4.1 -3.6M269.0 102.7l4.1 -3.6M272.3 106.5l4.1 -3.6M275.6 110.2l4.1 -3.6M278.9 114.0l4.1 -3.6M282.2 117.7l4.1 -3.6M285.5 121.5l4.1 -3.6M288.8 125.2l4.1 -3.6M292.2 129.0l4.1 -3.6M295.5 132.7l4.1 -3.6M298.8 136.5l4.1 -3.6M302.1 140.2l4.1 -3.6M305.4 144.0l4.1 -3.6M308.7 147.8l4.1 -3.6M312.0 151.5l4.1 -3.6M315.3 155.3l4.1 -3.6M318.6 159.0l4.1 -3.6M321.9 162.8l4.1 -3.6M325.2 166.5l4.1 -3.6M328.5 170.3l4.1 -3.6M331.8 174.0l4.1 -3.6M335.1 177.8l4.1 -3.6M338.4 181.5l4.1 -3.6M341.8 185.3l4.1 -3.6M345.1 189.0l4.1 -3.6M230.5 53.4l4.1 -3.6M233.8 57.2l4.1 -3.6M237.1 60.9l4.1 -3.6M240.4 64.7l4.1 -3.6M243.7 68.4l4.1 -3.6M247.0 72.2l4.1 -3.6M250.3 75.9l4.1 -3.6M253.6 79.7l4.1 -3.6M256.9 83.4l4.1 -3.6M260.2 87.2l4.1 -3.6M263.5 90.9l4.1 -3.6M266.8 94.7l4.1 -3.6M270.1 98.4l4.1 -3.6M273.4 102.2l4.1 -3.6M276.7 105.9l4.1 -3.6M280.1 109.7l4.1 -3.6M283.4 113.4l4.1 -3.6M286.7 117.2l4.1 -3.6M290.0 120.9l4.1 -3.6M293.3 124.7l4.1 -3.6M296.6 128.4l4.1 -3.6M299.9 132.2l4.1 -3.6M303.2 135.9l4.1 -3.6M306.5 139.7l4.1 -3.6M309.8 143.4l4.1 -3.6M313.1 147.2l4.1 -3.6M316.4 150.9l4.1 -3.6M319.7 154.7l4.1 -3.6M323.0 158.4l4.1 -3.6M326.3 162.2l4.1 -3.6M329.7 165.9l4.1 -3.6M333.0 169.7l4.1 -3.6M336.3 173.4l4.1 -3.6M339.6 177.2l4.1 -3.6M342.9 180.9l4.1 -3.6M346.2 184.7l4.1 -3.6M234.9 52.8l4.1 -3.6M241.5 60.3l4.1 -3.6M248.1 67.8l4.1 -3.6M254.7 75.3l4.1 -3.6M261.3 82.8l4.1 -3.6M268.0 90.3l4.1 -3.6M274.6 97.8l4.1 -3.6M281.2 105.3l4.1 -3.6M287.8 112.8l4.1 -3.6M294.4 120.3l4.1 -3.6M301.0 127.8l4.1 -3.6M307.6 135.3l4.1 -3.6M314.2 142.8l4.1 -3.6M320.9 150.3l4.1 -3.6M327.5 157.8l4.1 -3.6M334.1 165.4l4.1 -3.6M340.7 172.9l4.1 -3.6M239.3 52.3l4.1 -3.6M242.6 56.0l4.1 -3.6M245.9 59.8l4.1 -3.6M249.2 63.5l4.1 -3.6M252.6 67.3l4.1 -3.6M255.9 71.0l4.1 -3.6M259.2 74.8l4.1 -3.6M262.5 78.5l4.1 -3.6M265.8 82.3l4.1 -3.6M269.1 86.0l4.1 -3.6M272.4 89.8l4.1 -3.6M275.7 93.5l4.1 -3.6M279.0 97.3l4.1 -3.6M282.3 101.0l4.1 -3.6M285.6 104.8l4.1 -3.6M288.9 108.5l4.1 -3.6M292.2 112.3l4.1 -3.6M295.5 116.0l4.1 -3.6M298.8 119.8l4.1 -3.6M302.1 123.5l4.1 -3.6M305.5 127.3l4.1 -3.6M308.8 131.0l4.1 -3.6M312.1 134.8l4.1 -3.6M315.4 138.5l4.1 -3.6M318.7 142.3l4.1 -3.6M322.0 146.0l4.1 -3.6M325.3 149.8l4.1 -3.6M328.6 153.5l4.1 -3.6M331.9 157.3l4.1 -3.6M335.2 161.0l4.1 -3.6M338.5 164.8l4.1 -3.6M341.8 168.5l4.1 -3.6M345.1 172.3l4.1 -3.6M247.1 55.4l4.0 -3.6M250.4 59.2l4.0 -3.6M253.7 62.9l4.0 -3.6M257.0 66.7l4.0 -3.6M260.3 70.4l4.0 -3.6M263.6 74.2l4.0 -3.6M266.9 77.9l4.0 -3.6M270.2 81.7l4.0 -3.6M273.5 85.4l4.0 -3.6M276.8 89.2l4.0 -3.6M280.1 92.9l4.0 -3.6M283.4 96.7l4.0 -3.6M286.7 100.4l4.0 -3.6M290.1 104.2l4.0 -3.6M293.4 107.9l4.0 -3.6M296.7 111.7l4.0 -3.6M300.0 115.4l4.0 -3.6M303.3 119.2l4.0 -3.6M306.6 122.9l4.0 -3.6M309.9 126.7l4.0 -3.6M313.2 130.4l4.0 -3.6M316.5 134.2l4.0 -3.6M319.8 137.9l4.0 -3.6M323.1 141.7l4.0 -3.6M326.4 145.4l4.0 -3.6M329.7 149.2l4.0 -3.6M333.0 152.9l4.0 -3.6M336.3 156.7l4.0 -3.6M339.6 160.4l4.0 -3.6M343.0 164.2l4.0 -3.6M346.3 167.9l4.0 -3.6M251.5 54.9l4.0 -3.6M254.8 58.6l4.0 -3.6M258.1 62.4l4.0 -3.6M261.4 66.1l4.0 -3.6M264.7 69.9l4.0 -3.6M268.0 73.6l4.0 -3.6M271.3 77.4l4.0 -3.6M274.6 81.1l4.0 -3.6M278.0 84.9l4.0 -3.6M281.3 88.6l4.0 -3.6M284.6 92.4l4.0 -3.6M287.9 96.1l4.0 -3.6M291.2 99.9l4.0 -3.6M294.5 103.6l4.0 -3.6M297.8 107.4l4.0 -3.6M301.1 111.1l4.0 -3.6M304.4 114.9l4.0 -3.6M307.7 118.6l4.0 -3.6M311.0 122.4l4.0 -3.6M314.3 126.1l4.0 -3.6M317.6 129.9l4.0 -3.6M320.9 133.6l4.0 -3.6M324.2 137.4l4.0 -3.6M327.6 141.1l4.0 -3.6M330.9 144.9l4.0 -3.6M334.2 148.6l4.0 -3.6M337.5 152.4l4.0 -3.6M340.8 156.1l4.0 -3.6M344.1 159.9l4.0 -3.6M255.9 54.3l4.0 -3.5M259.2 58.0l4.0 -3.5M262.5 61.8l4.0 -3.5M265.9 65.5l4.0 -3.5M269.2 69.3l4.0 -3.5M272.5 73.0l4.0 -3.5M275.8 76.8l4.0 -3.5M279.1 80.5l4.0 -3.5M282.4 84.3l4.0 -3.5M285.7 88.0l4.0 -3.5M289.0 91.8l4.0 -3.5M292.3 95.5l4.0 -3.5M295.6 99.3l4.0 -3.5M298.9 103.0l4.0 -3.5M302.2 106.8l4.0 -3.5M305.5 110.5l4.0 -3.5M308.8 114.3l4.0 -3.5M312.1 118.0l4.0 -3.5M315.5 121.8l4.0 -3.5M318.8 125.5l4.0 -3.5M322.1 129.3l4.0 -3.5M325.4 133.0l4.0 -3.5M328.7 136.8l4.0 -3.5M332.0 140.5l4.0 -3.5M335.3 144.3l4.0 -3.5M338.6 148.0l4.0 -3.5M341.9 151.8l4.0 -3.5M345.2 155.5l4.0 -3.5M260.4 53.7l4.0 -3.5M263.7 57.5l4.0 -3.5M267.0 61.2l4.0 -3.5M270.3 65.0l4.0 -3.5M273.6 68.7l4.0 -3.5M276.9 72.5l4.0 -3.5M280.2 76.2l4.0 -3.5M283.5 80.0l4.0 -3.5M286.8 83.7l4.0 -3.5M290.1 87.5l4.0 -3.5M293.4 91.2l4.0 -3.5M296.7 95.0l4.0 -3.5M300.0 98.7l4.0 -3.5M303.4 102.5l4.0 -3.5M306.7 106.2l4.0 -3.5M310.0 110.0l4.0 -3.5M313.3 113.7l4.0 -3.5M316.6 117.5l4.0 -3.5M319.9 121.2l4.0 -3.5M323.2 125.0l4.0 -3.5M326.5 128.7l4.0 -3.5M329.8 132.5l4.0 -3.5M333.1 136.2l4.0 -3.5M336.4 140.0l4.0 -3.5M339.7 143.7l4.0 -3.5M343.0 147.5l4.0 -3.5M346.3 151.2l4.0 -3.5M264.8 53.1l4.0 -3.5M268.1 56.9l4.0 -3.5M271.4 60.6l4.0 -3.5M274.7 64.4l4.0 -3.5M278.0 68.1l4.0 -3.5M281.3 71.9l4.0 -3.5M284.6 75.6l4.0 -3.5M287.9 79.4l4.0 -3.5M291.3 83.1l4.0 -3.5M294.6 86.9l4.0 -3.5M297.9 90.6l4.0 -3.5M301.2 94.4l4.0 -3.5M304.5 98.1l4.0 -3.5M307.8 101.9l4.0 -3.5M311.1 105.6l4.0 -3.5M314.4 109.4l4.0 -3.5M317.7 113.1l4.0 -3.5M321.0 116.9l4.0 -3.5M324.3 120.6l4.0 -3.5M327.6 124.4l4.0 -3.5M330.9 128.1l4.0 -3.5M334.2 131.9l4.0 -3.5M337.5 135.6l4.0 -3.5M340.9 139.4l4.0 -3.5M344.2 143.1l4.0 -3.5M269.2 52.5l4.0 -3.5M272.5 56.3l4.0 -3.5M275.9 60.1l4.0 -3.5M279.2 63.8l4.0 -3.5M282.5 67.6l4.0 -3.5M285.8 71.3l4.0 -3.5M289.1 75.1l4.0 -3.5M292.4 78.8l4.0 -3.5M295.7 82.6l4.0 -3.5M299.0 86.3l4.0 -3.5M302.3 90.1l4.0 -3.5M305.6 93.8l4.0 -3.5M308.9 97.6l4.0 -3.5M312.2 101.3l4.0 -3.5M315.5 105.1l4.0 -3.5M318.8 108.8l4.0 -3.5M322.1 112.6l4.0 -3.5M325.4 116.3l4.0 -3.5M328.8 120.1l4.0 -3.5M332.1 123.8l4.0 -3.5M335.4 127.6l4.0 -3.5M338.7 131.3l4.0 -3.5M342.0 135.1l4.0 -3.5M345.3 138.8l4.0 -3.5M273.7 52.0l4.0 -3.5M277.0 55.7l4.0 -3.5M280.3 59.5l4.0 -3.5M283.6 63.2l4.0 -3.5M286.9 67.0l4.0 -3.5M290.2 70.7l4.0 -3.5M293.5 74.5l4.0 -3.5M296.8 78.2l4.0 -3.5M300.1 82.0l4.0 -3.5M303.4 85.7l4.0 -3.5M306.7 89.5l4.0 -3.5M310.0 93.2l4.0 -3.5M313.3 97.0l4.0 -3.5M316.7 100.7l4.0 -3.5M320.0 104.5l4.0 -3.5M323.3 108.2l4.0 -3.5M326.6 112.0l4.0 -3.5M329.9 115.7l4.0 -3.5M333.2 119.5l4.0 -3.5M336.5 123.2l4.0 -3.5M339.8 127.0l4.0 -3.5M343.1 130.7l4.0 -3.5M346.4 134.5l4.0 -3.5M281.4 55.1l4.0 -3.5M284.7 58.9l4.0 -3.5M288.0 62.6l4.0 -3.5M291.3 66.4l4.0 -3.5M294.6 70.1l4.0 -3.5M297.9 73.9l4.0 -3.5M301.3 77.7l4.0 -3.5M304.6 81.4l4.0 -3.5M307.9 85.2l4.0 -3.5M311.2 88.9l4.0 -3.5M314.5 92.7l4.0 -3.5M317.8 96.4l4.0 -3.5M321.1 100.2l4.0 -3.5M324.4 103.9l4.0 -3.5M327.7 107.7l4.0 -3.5M331.0 111.4l4.0 -3.5M334.3 115.2l4.0 -3.5M337.6 118.9l4.0 -3.5M340.9 122.7l4.0 -3.5M344.2 126.4l4.0 -3.5M285.8 54.6l4.0 -3.5M289.2 58.3l4.0 -3.5M292.5 62.1l4.0 -3.5M295.8 65.8l4.0 -3.5M299.1 69.6l4.0 -3.5M302.4 73.3l4.0 -3.5M305.7 77.1l4.0 -3.5M309.0 80.8l4.0 -3.5M312.3 84.6l4.0 -3.5M315.6 88.3l4.0 -3.5M318.9 92.1l4.0 -3.5M322.2 95.8l4.0 -3.5M325.5 99.6l4.0 -3.5M328.8 103.3l4.0 -3.5M332.1 107.1l4.0 -3.5M335.4 110.8l4.0 -3.5M338.8 114.6l4.0 -3.5M342.1 118.3l4.0 -3.5M345.4 122.1l4.0 -3.5M290.3 54.0l3.9 -3.5M293.6 57.7l3.9 -3.5M296.9 61.5l3.9 -3.5M300.2 65.2l3.9 -3.5M303.5 69.0l3.9 -3.5M306.8 72.7l3.9 -3.5M310.1 76.5l3.9 -3.5M313.4 80.2l3.9 -3.5M316.7 84.0l3.9 -3.5M320.0 87.7l3.9 -3.5M323.3 91.5l3.9 -3.5M326.7 95.2l3.9 -3.5M330.0 99.0l3.9 -3.5M333.3 102.8l3.9 -3.5M336.6 106.5l3.9 -3.5M339.9 110.3l3.9 -3.5M343.2 114.0l3.9 -3.5M346.5 117.8l3.9 -3.5M294.7 53.4l3.9 -3.5M298.0 57.2l3.9 -3.5M301.3 60.9l3.9 -3.5M304.6 64.7l3.9 -3.5M307.9 68.4l3.9 -3.5M311.2 72.2l3.9 -3.5M314.6 75.9l3.9 -3.5M317.9 79.7l3.9 -3.5M321.2 83.4l3.9 -3.5M324.5 87.2l3.9 -3.5M327.8 90.9l3.9 -3.5M331.1 94.7l3.9 -3.5M334.4 98.4l3.9 -3.5M337.7 102.2l3.9 -3.5M341.0 105.9l3.9 -3.5M344.3 109.7l3.9 -3.5M299.1 52.8l3.9 -3.5M302.5 56.6l3.9 -3.5M305.8 60.3l3.9 -3.5M309.1 64.1l3.9 -3.5M312.4 67.8l3.9 -3.5M315.7 71.6l3.9 -3.5M319.0 75.3l3.9 -3.5M322.3 79.1l3.9 -3.5M325.6 82.8l3.9 -3.5M328.9 86.6l3.9 -3.5M332.2 90.3l3.9 -3.5M335.5 94.1l3.9 -3.5M338.8 97.8l3.9 -3.5M342.1 101.6l3.9 -3.5M345.4 105.3l3.9 -3.5M303.6 52.3l3.9 -3.4M306.9 56.0l3.9 -3.4M310.2 59.8l3.9 -3.4M313.5 63.5l3.9 -3.4M316.8 67.3l3.9 -3.4M320.1 71.0l3.9 -3.4M323.4 74.8l3.9 -3.4M326.7 78.5l3.9 -3.4M330.0 82.3l3.9 -3.4M333.3 86.0l3.9 -3.4M336.6 89.8l3.9 -3.4M340.0 93.5l3.9 -3.4M343.3 97.3l3.9 -3.4M346.6 101.0l3.9 -3.4M308.0 51.7l3.9 -3.4M311.3 55.4l3.9 -3.4M314.6 59.2l3.9 -3.4M317.9 62.9l3.9 -3.4M321.2 66.7l3.9 -3.4M324.6 70.4l3.9 -3.4M327.9 74.2l3.9 -3.4M331.2 77.9l3.9 -3.4M334.5 81.7l3.9 -3.4M337.8 85.4l3.9 -3.4M341.1 89.2l3.9 -3.4M344.4 92.9l3.9 -3.4M315.8 54.9l3.9 -3.4M319.1 58.6l3.9 -3.4M322.4 62.4l3.9 -3.4M325.7 66.1l3.9 -3.4M329.0 69.9l3.9 -3.4M332.3 73.6l3.9 -3.4M335.6 77.4l3.9 -3.4M338.9 81.1l3.9 -3.4M342.2 84.9l3.9 -3.4M345.5 88.6l3.9 -3.4M320.2 54.3l3.9 -3.4M323.5 58.0l3.9 -3.4M326.8 61.8l3.9 -3.4M330.1 65.5l3.9 -3.4M333.4 69.3l3.9 -3.4M336.7 73.0l3.9 -3.4M340.0 76.8l3.9 -3.4M343.3 80.5l3.9 -3.4M346.6 84.3l3.9 -3.4M324.6 53.7l3.9 -3.4M327.9 57.5l3.9 -3.4M331.2 61.2l3.9 -3.4M334.5 65.0l3.9 -3.4M337.9 68.7l3.9 -3.4M341.2 72.5l3.9 -3.4M344.5 76.2l3.9 -3.4M329.1 53.1l3.9 -3.4M332.4 56.9l3.9 -3.4M335.7 60.6l3.9 -3.4M339.0 64.4l3.9 -3.4M342.3 68.1l3.9 -3.4M345.6 71.9l3.9 -3.4M333.5 52.6l3.8 -3.4M336.8 56.3l3.8 -3.4M340.1 60.1l3.8 -3.4M343.4 63.8l3.8 -3.4M346.7 67.6l3.8 -3.4M337.9 52.0l3.8 -3.4M341.2 55.7l3.8 -3.4M344.5 59.5l3.8 -3.4M345.7 55.2l3.8 -3.4" stroke="#fff" stroke-width="2.3" fill="none" stroke-linecap="butt"/>
<rect x="200.9" y="52.9" width="144.8" height="709.8" fill="none" stroke="#0a820a" stroke-width="2.2"/>
<linearGradient id="g2" gradientUnits="userSpaceOnUse" x1="442.9" y1="762.7" x2="751.5" y2="454.1"><stop offset="0" stop-color="#02ee02"/><stop offset="0.58" stop-color="#78ee78"/><stop offset="1" stop-color="#d7f0d7"/></linearGradient>
<rect x="442.9" y="290.2" width="144.8" height="472.5" fill="url(#g2)"/>
<clipPath id="c2"><rect x="442.9" y="290.2" width="144.8" height="472.5"/></clipPath>
<polygon points="442.9,743.7 442.9,762.7 455.9,758.7" fill="#fff" fill-opacity="0.8"/>
<path clip-path="url(#c2)" d="M437.3 714.3l5.4 -4.8M443.9 721.8l5.4 -4.8M450.6 729.3l5.4 -4.8M457.2 736.8l5.4 -4.8M463.8 744.3l5.4 -4.8M470.4 751.8l5.4 -4.8M477.0 759.3l5.4 -4.8M483.6 766.8l5.4 -4.8M441.8 697.0l5.4 -4.7M448.5 704.5l5.4 -4.7M455.1 712.0l5.4 -4.7M461.7 719.5l5.4 -4.7M468.3 727.0l5.4 -4.7M474.9 734.5l5.4 -4.7M481.5 742.0l5.4 -4.7M488.1 749.5l5.4 -4.7M494.8 757.0l5.4 -4.7M501.4 764.5l5.4 -4.7M439.8 672.2l5.3 -4.7M446.4 679.7l5.3 -4.7M453.0 687.2l5.3 -4.7M459.6 694.7l5.3 -4.7M466.2 702.2l5.3 -4.7M472.8 709.7l5.3 -4.7M479.4 717.2l5.3 -4.7M486.0 724.7l5.3 -4.7M492.7 732.2l5.3 -4.7M499.3 739.7l5.3 -4.7M505.9 747.2l5.3 -4.7M512.5 754.7l5.3 -4.7M519.1 762.2l5.3 -4.7M437.6 664.1l5.3 -4.7M444.2 671.6l5.3 -4.7M450.8 679.1l5.3 -4.7M457.4 686.6l5.3 -4.7M464.0 694.1l5.3 -4.7M470.6 701.6l5.3 -4.7M477.3 709.1l5.3 -4.7M483.9 716.6l5.3 -4.7M490.5 724.1l5.3 -4.7M497.1 731.6l5.3 -4.7M503.7 739.1l5.3 -4.7M510.3 746.6l5.3 -4.7M516.9 754.1l5.3 -4.7M523.5 761.6l5.3 -4.7M437.7 647.3l5.2 -4.6M444.3 654.8l5.2 -4.6M450.9 662.3l5.2 -4.6M457.5 669.8l5.2 -4.6M464.1 677.3l5.2 -4.6M470.7 684.8l5.2 -4.6M477.3 692.3l5.2 -4.6M483.9 699.8l5.2 -4.6M490.6 707.3l5.2 -4.6M497.2 714.8l5.2 -4.6M503.8 722.4l5.2 -4.6M510.4 729.9l5.2 -4.6M517.0 737.4l5.2 -4.6M523.6 744.9l5.2 -4.6M530.2 752.4l5.2 -4.6M536.9 759.9l5.2 -4.6M543.5 767.4l5.2 -4.6M442.2 630.0l5.2 -4.6M448.8 637.5l5.2 -4.6M455.4 645.0l5.2 -4.6M462.0 652.5l5.2 -4.6M468.6 660.0l5.2 -4.6M475.2 667.5l5.2 -4.6M481.9 675.0l5.2 -4.6M488.5 682.5l5.2 -4.6M495.1 690.0l5.2 -4.6M501.7 697.5l5.2 -4.6M508.3 705.0l5.2 -4.6M514.9 712.5l5.2 -4.6M521.5 720.0l5.2 -4.6M528.1 727.5l5.2 -4.6M534.8 735.0l5.2 -4.6M541.4 742.5l5.2 -4.6M548.0 750.0l5.2 -4.6M554.6 757.5l5.2 -4.6M561.2 765.0l5.2 -4.6M440.0 621.9l5.2 -4.6M446.6 629.4l5.2 -4.6M453.2 636.9l5.2 -4.6M459.8 644.4l5.2 -4.6M466.5 651.9l5.2 -4.6M473.1 659.5l5.2 -4.6M479.7 667.0l5.2 -4.6M486.3 674.5l5.2 -4.6M492.9 682.0l5.2 -4.6M499.5 689.5l5.2 -4.6M506.1 697.0l5.2 -4.6M512.7 704.5l5.2 -4.6M519.4 712.0l5.2 -4.6M526.0 719.5l5.2 -4.6M532.6 727.0l5.2 -4.6M539.2 734.5l5.2 -4.6M545.8 742.0l5.2 -4.6M552.4 749.5l5.2 -4.6M559.0 757.0l5.2 -4.6M565.6 764.5l5.2 -4.6M440.1 605.2l5.1 -4.5M446.7 612.7l5.1 -4.5M453.3 620.2l5.1 -4.5M459.9 627.7l5.1 -4.5M466.5 635.2l5.1 -4.5M473.1 642.7l5.1 -4.5M479.8 650.2l5.1 -4.5M486.4 657.7l5.1 -4.5M493.0 665.2l5.1 -4.5M499.6 672.7l5.1 -4.5M506.2 680.2l5.1 -4.5M512.8 687.7l5.1 -4.5M519.4 695.2l5.1 -4.5M526.1 702.7l5.1 -4.5M532.7 710.2l5.1 -4.5M539.3 717.7l5.1 -4.5M545.9 725.2l5.1 -4.5M552.5 732.7l5.1 -4.5M559.1 740.2l5.1 -4.5M565.7 747.7l5.1 -4.5M572.3 755.2l5.1 -4.5M579.0 762.7l5.1 -4.5M438.0 580.4l5.1 -4.5M444.6 587.9l5.1 -4.5M451.2 595.4l5.1 -4.5M457.8 602.9l5.1 -4.5M464.4 610.4l5.1 -4.5M471.1 617.9l5.1 -4.5M477.7 625.4l5.1 -4.5M484.3 632.9l5.1 -4.5M490.9 640.4l5.1 -4.5M497.5 647.9l5.1 -4.5M504.1 655.4l5.1 -4.5M510.7 662.9l5.1 -4.5M517.3 670.4l5.1 -4.5M524.0 677.9l5.1 -4.5M530.6 685.4l5.1 -4.5M537.2 692.9l5.1 -4.5M543.8 700.4l5.1 -4.5M550.4 707.9l5.1 -4.5M557.0 715.4l5.1 -4.5M563.6 722.9l5.1 -4.5M570.3 730.4l5.1 -4.5M576.9 737.9l5.1 -4.5M583.5 745.4l5.1 -4.5M439.1 576.1l5.0 -4.4M442.4 579.8l5.0 -4.4M445.7 583.6l5.0 -4.4M449.0 587.3l5.0 -4.4M452.3 591.1l5.0 -4.4M455.7 594.8l5.0 -4.4M459.0 598.6l5.0 -4.4M462.3 602.3l5.0 -4.4M465.6 606.1l5.0 -4.4M468.9 609.8l5.0 -4.4M472.2 613.6l5.0 -4.4M475.5 617.3l5.0 -4.4M478.8 621.1l5.0 -4.4M482.1 624.8l5.0 -4.4M485.4 628.6l5.0 -4.4M488.7 632.3l5.0 -4.4M492.0 636.1l5.0 -4.4M495.3 639.8l5.0 -4.4M498.6 643.6l5.0 -4.4M501.9 647.3l5.0 -4.4M505.2 651.1l5.0 -4.4M508.6 654.8l5.0 -4.4M511.9 658.6l5.0 -4.4M515.2 662.3l5.0 -4.4M518.5 666.1l5.0 -4.4M521.8 669.8l5.0 -4.4M525.1 673.6l5.0 -4.4M528.4 677.3l5.0 -4.4M531.7 681.1l5.0 -4.4M535.0 684.8l5.0 -4.4M538.3 688.6l5.0 -4.4M541.6 692.3l5.0 -4.4M544.9 696.1l5.0 -4.4M548.2 699.8l5.0 -4.4M551.5 703.6l5.0 -4.4M554.8 707.3l5.0 -4.4M558.2 711.1l5.0 -4.4M561.5 714.8l5.0 -4.4M564.8 718.6l5.0 -4.4M568.1 722.3l5.0 -4.4M571.4 726.1l5.0 -4.4M574.7 729.8l5.0 -4.4M578.0 733.6l5.0 -4.4M581.3 737.3l5.0 -4.4M584.6 741.1l5.0 -4.4M587.9 744.8l5.0 -4.4M442.5 563.1l5.0 -4.4M449.1 570.6l5.0 -4.4M455.7 578.1l5.0 -4.4M462.3 585.6l5.0 -4.4M469.0 593.1l5.0 -4.4M475.6 600.6l5.0 -4.4M482.2 608.1l5.0 -4.4M488.8 615.6l5.0 -4.4M495.4 623.1l5.0 -4.4M502.0 630.6l5.0 -4.4M508.6 638.1l5.0 -4.4M515.3 645.6l5.0 -4.4M521.9 653.1l5.0 -4.4M528.5 660.6l5.0 -4.4M535.1 668.1l5.0 -4.4M541.7 675.6l5.0 -4.4M548.3 683.1l5.0 -4.4M554.9 690.6l5.0 -4.4M561.5 698.1l5.0 -4.4M568.2 705.6l5.0 -4.4M574.8 713.1l5.0 -4.4M581.4 720.6l5.0 -4.4M588.0 728.1l5.0 -4.4M440.3 555.0l5.0 -4.4M446.9 562.5l5.0 -4.4M453.6 570.0l5.0 -4.4M460.2 577.5l5.0 -4.4M466.8 585.0l5.0 -4.4M473.4 592.5l5.0 -4.4M480.0 600.0l5.0 -4.4M486.6 607.5l5.0 -4.4M493.2 615.0l5.0 -4.4M499.8 622.5l5.0 -4.4M506.5 630.0l5.0 -4.4M513.1 637.5l5.0 -4.4M519.7 645.0l5.0 -4.4M526.3 652.5l5.0 -4.4M532.9 660.0l5.0 -4.4M539.5 667.5l5.0 -4.4M546.1 675.0l5.0 -4.4M552.8 682.5l5.0 -4.4M559.4 690.0l5.0 -4.4M566.0 697.5l5.0 -4.4M572.6 705.0l5.0 -4.4M579.2 712.5l5.0 -4.4M585.8 720.0l5.0 -4.4M440.4 538.3l4.9 -4.4M443.7 542.0l4.9 -4.4M447.0 545.8l4.9 -4.4M450.3 549.5l4.9 -4.4M453.6 553.3l4.9 -4.4M456.9 557.0l4.9 -4.4M460.3 560.8l4.9 -4.4M463.6 564.5l4.9 -4.4M466.9 568.3l4.9 -4.4M470.2 572.0l4.9 -4.4M473.5 575.8l4.9 -4.4M476.8 579.5l4.9 -4.4M480.1 583.3l4.9 -4.4M483.4 587.0l4.9 -4.4M486.7 590.8l4.9 -4.4M490.0 594.5l4.9 -4.4M493.3 598.3l4.9 -4.4M496.6 602.0l4.9 -4.4M499.9 605.8l4.9 -4.4M503.2 609.5l4.9 -4.4M506.5 613.3l4.9 -4.4M509.9 617.0l4.9 -4.4M513.2 620.8l4.9 -4.4M516.5 624.5l4.9 -4.4M519.8 628.3l4.9 -4.4M523.1 632.0l4.9 -4.4M526.4 635.8l4.9 -4.4M529.7 639.5l4.9 -4.4M533.0 643.3l4.9 -4.4M536.3 647.0l4.9 -4.4M539.6 650.8l4.9 -4.4M542.9 654.5l4.9 -4.4M546.2 658.3l4.9 -4.4M549.5 662.0l4.9 -4.4M552.8 665.8l4.9 -4.4M556.1 669.5l4.9 -4.4M559.4 673.3l4.9 -4.4M562.8 677.0l4.9 -4.4M566.1 680.8l4.9 -4.4M569.4 684.5l4.9 -4.4M572.7 688.3l4.9 -4.4M576.0 692.0l4.9 -4.4M579.3 695.8l4.9 -4.4M582.6 699.5l4.9 -4.4M585.9 703.3l4.9 -4.4M438.2 530.2l4.9 -4.3M441.5 533.9l4.9 -4.3M444.8 537.7l4.9 -4.3M448.2 541.4l4.9 -4.3M451.5 545.2l4.9 -4.3M454.8 548.9l4.9 -4.3M458.1 552.7l4.9 -4.3M461.4 556.4l4.9 -4.3M464.7 560.2l4.9 -4.3M468.0 563.9l4.9 -4.3M471.3 567.7l4.9 -4.3M474.6 571.4l4.9 -4.3M477.9 575.2l4.9 -4.3M481.2 578.9l4.9 -4.3M484.5 582.7l4.9 -4.3M487.8 586.4l4.9 -4.3M491.1 590.2l4.9 -4.3M494.4 593.9l4.9 -4.3M497.8 597.7l4.9 -4.3M501.1 601.4l4.9 -4.3M504.4 605.2l4.9 -4.3M507.7 608.9l4.9 -4.3M511.0 612.7l4.9 -4.3M514.3 616.4l4.9 -4.3M517.6 620.2l4.9 -4.3M520.9 623.9l4.9 -4.3M524.2 627.7l4.9 -4.3M527.5 631.4l4.9 -4.3M530.8 635.2l4.9 -4.3M534.1 638.9l4.9 -4.3M537.4 642.7l4.9 -4.3M540.7 646.4l4.9 -4.3M544.0 650.2l4.9 -4.3M547.4 653.9l4.9 -4.3M550.7 657.7l4.9 -4.3M554.0 661.4l4.9 -4.3M557.3 665.2l4.9 -4.3M560.6 669.0l4.9 -4.3M563.9 672.7l4.9 -4.3M567.2 676.5l4.9 -4.3M570.5 680.2l4.9 -4.3M573.8 684.0l4.9 -4.3M577.1 687.7l4.9 -4.3M580.4 691.5l4.9 -4.3M583.7 695.2l4.9 -4.3M587.0 699.0l4.9 -4.3M438.3 513.4l4.9 -4.3M444.9 520.9l4.9 -4.3M451.5 528.4l4.9 -4.3M458.2 535.9l4.9 -4.3M464.8 543.4l4.9 -4.3M471.4 550.9l4.9 -4.3M478.0 558.5l4.9 -4.3M484.6 566.0l4.9 -4.3M491.2 573.5l4.9 -4.3M497.8 581.0l4.9 -4.3M504.4 588.5l4.9 -4.3M511.1 596.0l4.9 -4.3M517.7 603.5l4.9 -4.3M524.3 611.0l4.9 -4.3M530.9 618.5l4.9 -4.3M537.5 626.0l4.9 -4.3M544.1 633.5l4.9 -4.3M550.7 641.0l4.9 -4.3M557.4 648.5l4.9 -4.3M564.0 656.0l4.9 -4.3M570.6 663.5l4.9 -4.3M577.2 671.0l4.9 -4.3M583.8 678.5l4.9 -4.3M439.4 509.1l4.9 -4.3M442.8 512.9l4.9 -4.3M446.1 516.6l4.9 -4.3M449.4 520.4l4.9 -4.3M452.7 524.1l4.9 -4.3M456.0 527.9l4.9 -4.3M459.3 531.6l4.9 -4.3M462.6 535.4l4.9 -4.3M465.9 539.1l4.9 -4.3M469.2 542.9l4.9 -4.3M472.5 546.6l4.9 -4.3M475.8 550.4l4.9 -4.3M479.1 554.1l4.9 -4.3M482.4 557.9l4.9 -4.3M485.7 561.6l4.9 -4.3M489.0 565.4l4.9 -4.3M492.4 569.1l4.9 -4.3M495.7 572.9l4.9 -4.3M499.0 576.6l4.9 -4.3M502.3 580.4l4.9 -4.3M505.6 584.1l4.9 -4.3M508.9 587.9l4.9 -4.3M512.2 591.6l4.9 -4.3M515.5 595.4l4.9 -4.3M518.8 599.1l4.9 -4.3M522.1 602.9l4.9 -4.3M525.4 606.6l4.9 -4.3M528.7 610.4l4.9 -4.3M532.0 614.1l4.9 -4.3M535.3 617.9l4.9 -4.3M538.6 621.6l4.9 -4.3M542.0 625.4l4.9 -4.3M545.3 629.1l4.9 -4.3M548.6 632.9l4.9 -4.3M551.9 636.6l4.9 -4.3M555.2 640.4l4.9 -4.3M558.5 644.1l4.9 -4.3M561.8 647.9l4.9 -4.3M565.1 651.6l4.9 -4.3M568.4 655.4l4.9 -4.3M571.7 659.1l4.9 -4.3M575.0 662.9l4.9 -4.3M578.3 666.6l4.9 -4.3M581.6 670.4l4.9 -4.3M584.9 674.1l4.9 -4.3M588.2 677.9l4.9 -4.3M439.5 492.4l4.8 -4.2M442.8 496.1l4.8 -4.2M446.1 499.9l4.8 -4.2M449.5 503.6l4.8 -4.2M452.8 507.4l4.8 -4.2M456.1 511.1l4.8 -4.2M459.4 514.9l4.8 -4.2M462.7 518.6l4.8 -4.2M466.0 522.4l4.8 -4.2M469.3 526.1l4.8 -4.2M472.6 529.9l4.8 -4.2M475.9 533.6l4.8 -4.2M479.2 537.4l4.8 -4.2M482.5 541.1l4.8 -4.2M485.8 544.9l4.8 -4.2M489.1 548.6l4.8 -4.2M492.4 552.4l4.8 -4.2M495.7 556.1l4.8 -4.2M499.0 559.9l4.8 -4.2M502.4 563.6l4.8 -4.2M505.7 567.4l4.8 -4.2M509.0 571.1l4.8 -4.2M512.3 574.9l4.8 -4.2M515.6 578.6l4.8 -4.2M518.9 582.4l4.8 -4.2M522.2 586.1l4.8 -4.2M525.5 589.9l4.8 -4.2M528.8 593.6l4.8 -4.2M532.1 597.4l4.8 -4.2M535.4 601.1l4.8 -4.2M538.7 604.9l4.8 -4.2M542.0 608.6l4.8 -4.2M545.3 612.4l4.8 -4.2M548.6 616.1l4.8 -4.2M552.0 619.9l4.8 -4.2M555.3 623.6l4.8 -4.2M558.6 627.4l4.8 -4.2M561.9 631.1l4.8 -4.2M565.2 634.9l4.8 -4.2M568.5 638.6l4.8 -4.2M571.8 642.4l4.8 -4.2M575.1 646.2l4.8 -4.2M578.4 649.9l4.8 -4.2M581.7 653.7l4.8 -4.2M585.0 657.4l4.8 -4.2M440.7 488.0l4.8 -4.2M444.0 491.8l4.8 -4.2M447.3 495.5l4.8 -4.2M450.6 499.3l4.8 -4.2M453.9 503.1l4.8 -4.2M457.2 506.8l4.8 -4.2M460.5 510.6l4.8 -4.2M463.8 514.3l4.8 -4.2M467.1 518.1l4.8 -4.2M470.4 521.8l4.8 -4.2M473.7 525.6l4.8 -4.2M477.0 529.3l4.8 -4.2M480.3 533.1l4.8 -4.2M483.6 536.8l4.8 -4.2M487.0 540.6l4.8 -4.2M490.3 544.3l4.8 -4.2M493.6 548.1l4.8 -4.2M496.9 551.8l4.8 -4.2M500.2 555.6l4.8 -4.2M503.5 559.3l4.8 -4.2M506.8 563.1l4.8 -4.2M510.1 566.8l4.8 -4.2M513.4 570.6l4.8 -4.2M516.7 574.3l4.8 -4.2M520.0 578.1l4.8 -4.2M523.3 581.8l4.8 -4.2M526.6 585.6l4.8 -4.2M529.9 589.3l4.8 -4.2M533.2 593.1l4.8 -4.2M536.6 596.8l4.8 -4.2M539.9 600.6l4.8 -4.2M543.2 604.3l4.8 -4.2M546.5 608.1l4.8 -4.2M549.8 611.8l4.8 -4.2M553.1 615.6l4.8 -4.2M556.4 619.3l4.8 -4.2M559.7 623.1l4.8 -4.2M563.0 626.8l4.8 -4.2M566.3 630.6l4.8 -4.2M569.6 634.3l4.8 -4.2M572.9 638.1l4.8 -4.2M576.2 641.8l4.8 -4.2M579.5 645.6l4.8 -4.2M582.8 649.3l4.8 -4.2M586.1 653.1l4.8 -4.2M440.7 471.3l4.8 -4.2M444.0 475.1l4.8 -4.2M447.4 478.8l4.8 -4.2M450.7 482.6l4.8 -4.2M454.0 486.3l4.8 -4.2M457.3 490.1l4.8 -4.2M460.6 493.8l4.8 -4.2M463.9 497.6l4.8 -4.2M467.2 501.3l4.8 -4.2M470.5 505.1l4.8 -4.2M473.8 508.8l4.8 -4.2M477.1 512.6l4.8 -4.2M480.4 516.3l4.8 -4.2M483.7 520.1l4.8 -4.2M487.0 523.8l4.8 -4.2M490.3 527.6l4.8 -4.2M493.6 531.3l4.8 -4.2M497.0 535.1l4.8 -4.2M500.3 538.8l4.8 -4.2M503.6 542.6l4.8 -4.2M506.9 546.3l4.8 -4.2M510.2 550.1l4.8 -4.2M513.5 553.8l4.8 -4.2M516.8 557.6l4.8 -4.2M520.1 561.3l4.8 -4.2M523.4 565.1l4.8 -4.2M526.7 568.8l4.8 -4.2M530.0 572.6l4.8 -4.2M533.3 576.3l4.8 -4.2M536.6 580.1l4.8 -4.2M539.9 583.8l4.8 -4.2M543.2 587.6l4.8 -4.2M546.6 591.3l4.8 -4.2M549.9 595.1l4.8 -4.2M553.2 598.8l4.8 -4.2M556.5 602.6l4.8 -4.2M559.8 606.3l4.8 -4.2M563.1 610.1l4.8 -4.2M566.4 613.8l4.8 -4.2M569.7 617.6l4.8 -4.2M573.0 621.3l4.8 -4.2M576.3 625.1l4.8 -4.2M579.6 628.8l4.8 -4.2M582.9 632.6l4.8 -4.2M586.2 636.3l4.8 -4.2M438.6 463.2l4.7 -4.2M441.9 467.0l4.7 -4.2M445.2 470.7l4.7 -4.2M448.5 474.5l4.7 -4.2M451.8 478.2l4.7 -4.2M455.1 482.0l4.7 -4.2M458.4 485.7l4.7 -4.2M461.7 489.5l4.7 -4.2M465.0 493.2l4.7 -4.2M468.3 497.0l4.7 -4.2M471.6 500.7l4.7 -4.2M474.9 504.5l4.7 -4.2M478.2 508.2l4.7 -4.2M481.6 512.0l4.7 -4.2M484.9 515.7l4.7 -4.2M488.2 519.5l4.7 -4.2M491.5 523.2l4.7 -4.2M494.8 527.0l4.7 -4.2M498.1 530.7l4.7 -4.2M501.4 534.5l4.7 -4.2M504.7 538.2l4.7 -4.2M508.0 542.0l4.7 -4.2M511.3 545.7l4.7 -4.2M514.6 549.5l4.7 -4.2M517.9 553.2l4.7 -4.2M521.2 557.0l4.7 -4.2M524.5 560.7l4.7 -4.2M527.8 564.5l4.7 -4.2M531.1 568.2l4.7 -4.2M534.5 572.0l4.7 -4.2M537.8 575.7l4.7 -4.2M541.1 579.5l4.7 -4.2M544.4 583.3l4.7 -4.2M547.7 587.0l4.7 -4.2M551.0 590.8l4.7 -4.2M554.3 594.5l4.7 -4.2M557.6 598.3l4.7 -4.2M560.9 602.0l4.7 -4.2M564.2 605.8l4.7 -4.2M567.5 609.5l4.7 -4.2M570.8 613.3l4.7 -4.2M574.1 617.0l4.7 -4.2M577.4 620.8l4.7 -4.2M580.7 624.5l4.7 -4.2M584.1 628.3l4.7 -4.2M587.4 632.0l4.7 -4.2M438.6 446.5l4.7 -4.1M442.0 450.2l4.7 -4.1M445.3 454.0l4.7 -4.1M448.6 457.7l4.7 -4.1M451.9 461.5l4.7 -4.1M455.2 465.2l4.7 -4.1M458.5 469.0l4.7 -4.1M461.8 472.7l4.7 -4.1M465.1 476.5l4.7 -4.1M468.4 480.3l4.7 -4.1M471.7 484.0l4.7 -4.1M475.0 487.8l4.7 -4.1M478.3 491.5l4.7 -4.1M481.6 495.3l4.7 -4.1M484.9 499.0l4.7 -4.1M488.2 502.8l4.7 -4.1M491.6 506.5l4.7 -4.1M494.9 510.3l4.7 -4.1M498.2 514.0l4.7 -4.1M501.5 517.8l4.7 -4.1M504.8 521.5l4.7 -4.1M508.1 525.3l4.7 -4.1M511.4 529.0l4.7 -4.1M514.7 532.8l4.7 -4.1M518.0 536.5l4.7 -4.1M521.3 540.3l4.7 -4.1M524.6 544.0l4.7 -4.1M527.9 547.8l4.7 -4.1M531.2 551.5l4.7 -4.1M534.5 555.3l4.7 -4.1M537.8 559.0l4.7 -4.1M541.2 562.8l4.7 -4.1M544.5 566.5l4.7 -4.1M547.8 570.3l4.7 -4.1M551.1 574.0l4.7 -4.1M554.4 577.8l4.7 -4.1M557.7 581.5l4.7 -4.1M561.0 585.3l4.7 -4.1M564.3 589.0l4.7 -4.1M567.6 592.8l4.7 -4.1M570.9 596.5l4.7 -4.1M574.2 600.3l4.7 -4.1M577.5 604.0l4.7 -4.1M580.8 607.8l4.7 -4.1M584.1 611.5l4.7 -4.1M587.4 615.3l4.7 -4.1M439.8 442.2l4.7 -4.1M443.1 445.9l4.7 -4.1M446.4 449.7l4.7 -4.1M449.7 453.4l4.7 -4.1M453.0 457.2l4.7 -4.1M456.3 460.9l4.7 -4.1M459.6 464.7l4.7 -4.1M462.9 468.4l4.7 -4.1M466.2 472.2l4.7 -4.1M469.5 475.9l4.7 -4.1M472.8 479.7l4.7 -4.1M476.2 483.4l4.7 -4.1M479.5 487.2l4.7 -4.1M482.8 490.9l4.7 -4.1M486.1 494.7l4.7 -4.1M489.4 498.4l4.7 -4.1M492.7 502.2l4.7 -4.1M496.0 505.9l4.7 -4.1M499.3 509.7l4.7 -4.1M502.6 513.4l4.7 -4.1M505.9 517.2l4.7 -4.1M509.2 520.9l4.7 -4.1M512.5 524.7l4.7 -4.1M515.8 528.4l4.7 -4.1M519.1 532.2l4.7 -4.1M522.4 535.9l4.7 -4.1M525.7 539.7l4.7 -4.1M529.1 543.4l4.7 -4.1M532.4 547.2l4.7 -4.1M535.7 550.9l4.7 -4.1M539.0 554.7l4.7 -4.1M542.3 558.4l4.7 -4.1M545.6 562.2l4.7 -4.1M548.9 565.9l4.7 -4.1M552.2 569.7l4.7 -4.1M555.5 573.4l4.7 -4.1M558.8 577.2l4.7 -4.1M562.1 580.9l4.7 -4.1M565.4 584.7l4.7 -4.1M568.7 588.4l4.7 -4.1M572.0 592.2l4.7 -4.1M575.3 595.9l4.7 -4.1M578.7 599.7l4.7 -4.1M582.0 603.4l4.7 -4.1M585.3 607.2l4.7 -4.1M437.6 434.1l4.7 -4.1M444.2 441.6l4.7 -4.1M450.8 449.1l4.7 -4.1M457.4 456.6l4.7 -4.1M464.1 464.1l4.7 -4.1M470.7 471.6l4.7 -4.1M477.3 479.1l4.7 -4.1M483.9 486.6l4.7 -4.1M490.5 494.1l4.7 -4.1M497.1 501.6l4.7 -4.1M503.7 509.1l4.7 -4.1M510.3 516.6l4.7 -4.1M517.0 524.1l4.7 -4.1M523.6 531.6l4.7 -4.1M530.2 539.1l4.7 -4.1M536.8 546.6l4.7 -4.1M543.4 554.1l4.7 -4.1M550.0 561.6l4.7 -4.1M556.6 569.1l4.7 -4.1M563.3 576.6l4.7 -4.1M569.9 584.1l4.7 -4.1M576.5 591.6l4.7 -4.1M583.1 599.1l4.7 -4.1M439.9 425.4l4.6 -4.1M443.2 429.2l4.6 -4.1M446.5 432.9l4.6 -4.1M449.8 436.7l4.6 -4.1M453.1 440.4l4.6 -4.1M456.4 444.2l4.6 -4.1M459.7 447.9l4.6 -4.1M463.0 451.7l4.6 -4.1M466.3 455.4l4.6 -4.1M469.6 459.2l4.6 -4.1M472.9 462.9l4.6 -4.1M476.2 466.7l4.6 -4.1M479.5 470.4l4.6 -4.1M482.8 474.2l4.6 -4.1M486.2 477.9l4.6 -4.1M489.5 481.7l4.6 -4.1M492.8 485.4l4.6 -4.1M496.1 489.2l4.6 -4.1M499.4 492.9l4.6 -4.1M502.7 496.7l4.6 -4.1M506.0 500.4l4.6 -4.1M509.3 504.2l4.6 -4.1M512.6 507.9l4.6 -4.1M515.9 511.7l4.6 -4.1M519.2 515.4l4.6 -4.1M522.5 519.2l4.6 -4.1M525.8 522.9l4.6 -4.1M529.1 526.7l4.6 -4.1M532.4 530.4l4.6 -4.1M535.8 534.2l4.6 -4.1M539.1 537.9l4.6 -4.1M542.4 541.7l4.6 -4.1M545.7 545.4l4.6 -4.1M549.0 549.2l4.6 -4.1M552.3 552.9l4.6 -4.1M555.6 556.7l4.6 -4.1M558.9 560.4l4.6 -4.1M562.2 564.2l4.6 -4.1M565.5 568.0l4.6 -4.1M568.8 571.7l4.6 -4.1M572.1 575.5l4.6 -4.1M575.4 579.2l4.6 -4.1M578.7 583.0l4.6 -4.1M582.0 586.7l4.6 -4.1M585.3 590.5l4.6 -4.1M437.7 417.4l4.6 -4.1M441.0 421.1l4.6 -4.1M444.3 424.9l4.6 -4.1M447.6 428.6l4.6 -4.1M450.9 432.4l4.6 -4.1M454.2 436.1l4.6 -4.1M457.5 439.9l4.6 -4.1M460.8 443.6l4.6 -4.1M464.1 447.4l4.6 -4.1M467.4 451.1l4.6 -4.1M470.7 454.9l4.6 -4.1M474.1 458.6l4.6 -4.1M477.4 462.4l4.6 -4.1M480.7 466.1l4.6 -4.1M484.0 469.9l4.6 -4.1M487.3 473.6l4.6 -4.1M490.6 477.4l4.6 -4.1M493.9 481.1l4.6 -4.1M497.2 484.9l4.6 -4.1M500.5 488.6l4.6 -4.1M503.8 492.4l4.6 -4.1M507.1 496.1l4.6 -4.1M510.4 499.9l4.6 -4.1M513.7 503.6l4.6 -4.1M517.0 507.4l4.6 -4.1M520.3 511.1l4.6 -4.1M523.7 514.9l4.6 -4.1M527.0 518.6l4.6 -4.1M530.3 522.4l4.6 -4.1M533.6 526.1l4.6 -4.1M536.9 529.9l4.6 -4.1M540.2 533.6l4.6 -4.1M543.5 537.4l4.6 -4.1M546.8 541.1l4.6 -4.1M550.1 544.9l4.6 -4.1M553.4 548.6l4.6 -4.1M556.7 552.4l4.6 -4.1M560.0 556.1l4.6 -4.1M563.3 559.9l4.6 -4.1M566.6 563.6l4.6 -4.1M569.9 567.4l4.6 -4.1M573.3 571.1l4.6 -4.1M576.6 574.9l4.6 -4.1M579.9 578.6l4.6 -4.1M583.2 582.4l4.6 -4.1M586.5 586.1l4.6 -4.1M437.8 400.6l4.6 -4.0M441.1 404.4l4.6 -4.0M444.4 408.1l4.6 -4.0M447.7 411.9l4.6 -4.0M451.0 415.6l4.6 -4.0M454.3 419.4l4.6 -4.0M457.6 423.1l4.6 -4.0M460.9 426.9l4.6 -4.0M464.2 430.6l4.6 -4.0M467.5 434.4l4.6 -4.0M470.8 438.1l4.6 -4.0M474.1 441.9l4.6 -4.0M477.4 445.6l4.6 -4.0M480.8 449.4l4.6 -4.0M484.1 453.1l4.6 -4.0M487.4 456.9l4.6 -4.0M490.7 460.6l4.6 -4.0M494.0 464.4l4.6 -4.0M497.3 468.1l4.6 -4.0M500.6 471.9l4.6 -4.0M503.9 475.6l4.6 -4.0M507.2 479.4l4.6 -4.0M510.5 483.1l4.6 -4.0M513.8 486.9l4.6 -4.0M517.1 490.6l4.6 -4.0M520.4 494.4l4.6 -4.0M523.7 498.1l4.6 -4.0M527.0 501.9l4.6 -4.0M530.4 505.6l4.6 -4.0M533.7 509.4l4.6 -4.0M537.0 513.1l4.6 -4.0M540.3 516.9l4.6 -4.0M543.6 520.6l4.6 -4.0M546.9 524.4l4.6 -4.0M550.2 528.1l4.6 -4.0M553.5 531.9l4.6 -4.0M556.8 535.6l4.6 -4.0M560.1 539.4l4.6 -4.0M563.4 543.1l4.6 -4.0M566.7 546.9l4.6 -4.0M570.0 550.6l4.6 -4.0M573.3 554.4l4.6 -4.0M576.6 558.1l4.6 -4.0M579.9 561.9l4.6 -4.0M583.3 565.6l4.6 -4.0M586.6 569.4l4.6 -4.0M438.9 396.3l4.6 -4.0M442.2 400.0l4.6 -4.0M445.5 403.8l4.6 -4.0M448.8 407.5l4.6 -4.0M452.1 411.3l4.6 -4.0M455.4 415.0l4.6 -4.0M458.7 418.8l4.6 -4.0M462.0 422.5l4.6 -4.0M465.3 426.3l4.6 -4.0M468.7 430.0l4.6 -4.0M472.0 433.8l4.6 -4.0M475.3 437.5l4.6 -4.0M478.6 441.3l4.6 -4.0M481.9 445.0l4.6 -4.0M485.2 448.8l4.6 -4.0M488.5 452.5l4.6 -4.0M491.8 456.3l4.6 -4.0M495.1 460.0l4.6 -4.0M498.4 463.8l4.6 -4.0M501.7 467.5l4.6 -4.0M505.0 471.3l4.6 -4.0M508.3 475.0l4.6 -4.0M511.6 478.8l4.6 -4.0M514.9 482.5l4.6 -4.0M518.3 486.3l4.6 -4.0M521.6 490.0l4.6 -4.0M524.9 493.8l4.6 -4.0M528.2 497.5l4.6 -4.0M531.5 501.3l4.6 -4.0M534.8 505.1l4.6 -4.0M538.1 508.8l4.6 -4.0M541.4 512.6l4.6 -4.0M544.7 516.3l4.6 -4.0M548.0 520.1l4.6 -4.0M551.3 523.8l4.6 -4.0M554.6 527.6l4.6 -4.0M557.9 531.3l4.6 -4.0M561.2 535.1l4.6 -4.0M564.5 538.8l4.6 -4.0M567.9 542.6l4.6 -4.0M571.2 546.3l4.6 -4.0M574.5 550.1l4.6 -4.0M577.8 553.8l4.6 -4.0M581.1 557.6l4.6 -4.0M584.4 561.3l4.6 -4.0M587.7 565.1l4.6 -4.0M440.0 392.0l4.5 -4.0M446.6 399.5l4.5 -4.0M453.3 407.0l4.5 -4.0M459.9 414.5l4.5 -4.0M466.5 422.0l4.5 -4.0M473.1 429.5l4.5 -4.0M479.7 437.0l4.5 -4.0M486.3 444.5l4.5 -4.0M492.9 452.0l4.5 -4.0M499.5 459.5l4.5 -4.0M506.2 467.0l4.5 -4.0M512.8 474.5l4.5 -4.0M519.4 482.0l4.5 -4.0M526.0 489.5l4.5 -4.0M532.6 497.0l4.5 -4.0M539.2 504.5l4.5 -4.0M545.8 512.0l4.5 -4.0M552.4 519.5l4.5 -4.0M559.1 527.0l4.5 -4.0M565.7 534.5l4.5 -4.0M572.3 542.0l4.5 -4.0M578.9 549.5l4.5 -4.0M585.5 557.0l4.5 -4.0M437.8 383.9l4.5 -4.0M444.5 391.4l4.5 -4.0M451.1 398.9l4.5 -4.0M457.7 406.4l4.5 -4.0M464.3 413.9l4.5 -4.0M470.9 421.4l4.5 -4.0M477.5 428.9l4.5 -4.0M484.1 436.4l4.5 -4.0M490.8 443.9l4.5 -4.0M497.4 451.4l4.5 -4.0M504.0 458.9l4.5 -4.0M510.6 466.4l4.5 -4.0M517.2 473.9l4.5 -4.0M523.8 481.4l4.5 -4.0M530.4 488.9l4.5 -4.0M537.0 496.4l4.5 -4.0M543.7 503.9l4.5 -4.0M550.3 511.4l4.5 -4.0M556.9 518.9l4.5 -4.0M563.5 526.4l4.5 -4.0M570.1 533.9l4.5 -4.0M576.7 541.4l4.5 -4.0M583.3 548.9l4.5 -4.0M439.0 379.5l4.5 -4.0M442.3 383.3l4.5 -4.0M445.6 387.0l4.5 -4.0M448.9 390.8l4.5 -4.0M452.2 394.5l4.5 -4.0M455.5 398.3l4.5 -4.0M458.8 402.1l4.5 -4.0M462.1 405.8l4.5 -4.0M465.4 409.6l4.5 -4.0M468.7 413.3l4.5 -4.0M472.0 417.1l4.5 -4.0M475.4 420.8l4.5 -4.0M478.7 424.6l4.5 -4.0M482.0 428.3l4.5 -4.0M485.3 432.1l4.5 -4.0M488.6 435.8l4.5 -4.0M491.9 439.6l4.5 -4.0M495.2 443.3l4.5 -4.0M498.5 447.1l4.5 -4.0M501.8 450.8l4.5 -4.0M505.1 454.6l4.5 -4.0M508.4 458.3l4.5 -4.0M511.7 462.1l4.5 -4.0M515.0 465.8l4.5 -4.0M518.3 469.6l4.5 -4.0M521.6 473.3l4.5 -4.0M524.9 477.1l4.5 -4.0M528.3 480.8l4.5 -4.0M531.6 484.6l4.5 -4.0M534.9 488.3l4.5 -4.0M538.2 492.1l4.5 -4.0M541.5 495.8l4.5 -4.0M544.8 499.6l4.5 -4.0M548.1 503.3l4.5 -4.0M551.4 507.1l4.5 -4.0M554.7 510.8l4.5 -4.0M558.0 514.6l4.5 -4.0M561.3 518.3l4.5 -4.0M564.6 522.1l4.5 -4.0M567.9 525.8l4.5 -4.0M571.2 529.6l4.5 -4.0M574.5 533.3l4.5 -4.0M577.9 537.1l4.5 -4.0M581.2 540.8l4.5 -4.0M584.5 544.6l4.5 -4.0M587.8 548.3l4.5 -4.0M440.1 375.2l4.5 -4.0M443.4 379.0l4.5 -4.0M446.7 382.7l4.5 -4.0M450.0 386.5l4.5 -4.0M453.3 390.2l4.5 -4.0M456.6 394.0l4.5 -4.0M459.9 397.7l4.5 -4.0M463.3 401.5l4.5 -4.0M466.6 405.2l4.5 -4.0M469.9 409.0l4.5 -4.0M473.2 412.7l4.5 -4.0M476.5 416.5l4.5 -4.0M479.8 420.2l4.5 -4.0M483.1 424.0l4.5 -4.0M486.4 427.7l4.5 -4.0M489.7 431.5l4.5 -4.0M493.0 435.2l4.5 -4.0M496.3 439.0l4.5 -4.0M499.6 442.7l4.5 -4.0M502.9 446.5l4.5 -4.0M506.2 450.2l4.5 -4.0M509.5 454.0l4.5 -4.0M512.9 457.7l4.5 -4.0M516.2 461.5l4.5 -4.0M519.5 465.2l4.5 -4.0M522.8 469.0l4.5 -4.0M526.1 472.7l4.5 -4.0M529.4 476.5l4.5 -4.0M532.7 480.2l4.5 -4.0M536.0 484.0l4.5 -4.0M539.3 487.7l4.5 -4.0M542.6 491.5l4.5 -4.0M545.9 495.2l4.5 -4.0M549.2 499.0l4.5 -4.0M552.5 502.7l4.5 -4.0M555.8 506.5l4.5 -4.0M559.1 510.2l4.5 -4.0M562.5 514.0l4.5 -4.0M565.8 517.7l4.5 -4.0M569.1 521.5l4.5 -4.0M572.4 525.2l4.5 -4.0M575.7 529.0l4.5 -4.0M579.0 532.7l4.5 -4.0M582.3 536.5l4.5 -4.0M585.6 540.2l4.5 -4.0M440.2 358.5l4.5 -3.9M443.5 362.2l4.5 -3.9M446.8 366.0l4.5 -3.9M450.1 369.7l4.5 -3.9M453.4 373.5l4.5 -3.9M456.7 377.2l4.5 -3.9M460.0 381.0l4.5 -3.9M463.3 384.7l4.5 -3.9M466.6 388.5l4.5 -3.9M470.0 392.2l4.5 -3.9M473.3 396.0l4.5 -3.9M476.6 399.7l4.5 -3.9M479.9 403.5l4.5 -3.9M483.2 407.2l4.5 -3.9M486.5 411.0l4.5 -3.9M489.8 414.7l4.5 -3.9M493.1 418.5l4.5 -3.9M496.4 422.2l4.5 -3.9M499.7 426.0l4.5 -3.9M503.0 429.7l4.5 -3.9M506.3 433.5l4.5 -3.9M509.6 437.2l4.5 -3.9M512.9 441.0l4.5 -3.9M516.2 444.7l4.5 -3.9M519.5 448.5l4.5 -3.9M522.9 452.2l4.5 -3.9M526.2 456.0l4.5 -3.9M529.5 459.7l4.5 -3.9M532.8 463.5l4.5 -3.9M536.1 467.2l4.5 -3.9M539.4 471.0l4.5 -3.9M542.7 474.7l4.5 -3.9M546.0 478.5l4.5 -3.9M549.3 482.2l4.5 -3.9M552.6 486.0l4.5 -3.9M555.9 489.8l4.5 -3.9M559.2 493.5l4.5 -3.9M562.5 497.3l4.5 -3.9M565.8 501.0l4.5 -3.9M569.1 504.8l4.5 -3.9M572.5 508.5l4.5 -3.9M575.8 512.3l4.5 -3.9M579.1 516.0l4.5 -3.9M582.4 519.8l4.5 -3.9M585.7 523.5l4.5 -3.9M438.0 350.4l4.4 -3.9M441.3 354.2l4.4 -3.9M444.6 357.9l4.4 -3.9M447.9 361.7l4.4 -3.9M451.2 365.4l4.4 -3.9M454.5 369.2l4.4 -3.9M457.9 372.9l4.4 -3.9M461.2 376.7l4.4 -3.9M464.5 380.4l4.4 -3.9M467.8 384.2l4.4 -3.9M471.1 387.9l4.4 -3.9M474.4 391.7l4.4 -3.9M477.7 395.4l4.4 -3.9M481.0 399.2l4.4 -3.9M484.3 402.9l4.4 -3.9M487.6 406.7l4.4 -3.9M490.9 410.4l4.4 -3.9M494.2 414.2l4.4 -3.9M497.5 417.9l4.4 -3.9M500.8 421.7l4.4 -3.9M504.1 425.4l4.4 -3.9M507.5 429.2l4.4 -3.9M510.8 432.9l4.4 -3.9M514.1 436.7l4.4 -3.9M517.4 440.4l4.4 -3.9M520.7 444.2l4.4 -3.9M524.0 447.9l4.4 -3.9M527.3 451.7l4.4 -3.9M530.6 455.4l4.4 -3.9M533.9 459.2l4.4 -3.9M537.2 462.9l4.4 -3.9M540.5 466.7l4.4 -3.9M543.8 470.4l4.4 -3.9M547.1 474.2l4.4 -3.9M550.4 477.9l4.4 -3.9M553.7 481.7l4.4 -3.9M557.1 485.4l4.4 -3.9M560.4 489.2l4.4 -3.9M563.7 492.9l4.4 -3.9M567.0 496.7l4.4 -3.9M570.3 500.4l4.4 -3.9M573.6 504.2l4.4 -3.9M576.9 507.9l4.4 -3.9M580.2 511.7l4.4 -3.9M583.5 515.4l4.4 -3.9M586.8 519.2l4.4 -3.9M442.5 349.8l4.4 -3.9M449.1 357.3l4.4 -3.9M455.7 364.8l4.4 -3.9M462.3 372.3l4.4 -3.9M468.9 379.8l4.4 -3.9M475.5 387.3l4.4 -3.9M482.1 394.8l4.4 -3.9M488.7 402.3l4.4 -3.9M495.4 409.8l4.4 -3.9M502.0 417.3l4.4 -3.9M508.6 424.8l4.4 -3.9M515.2 432.3l4.4 -3.9M521.8 439.8l4.4 -3.9M528.4 447.3l4.4 -3.9M535.0 454.8l4.4 -3.9M541.6 462.3l4.4 -3.9M548.3 469.8l4.4 -3.9M554.9 477.3l4.4 -3.9M561.5 484.8l4.4 -3.9M568.1 492.3l4.4 -3.9M574.7 499.8l4.4 -3.9M581.3 507.3l4.4 -3.9M587.9 514.8l4.4 -3.9M440.3 341.7l4.4 -3.9M446.9 349.2l4.4 -3.9M453.5 356.7l4.4 -3.9M460.1 364.2l4.4 -3.9M466.7 371.7l4.4 -3.9M473.3 379.3l4.4 -3.9M480.0 386.8l4.4 -3.9M486.6 394.3l4.4 -3.9M493.2 401.8l4.4 -3.9M499.8 409.3l4.4 -3.9M506.4 416.8l4.4 -3.9M513.0 424.3l4.4 -3.9M519.6 431.8l4.4 -3.9M526.2 439.3l4.4 -3.9M532.9 446.8l4.4 -3.9M539.5 454.3l4.4 -3.9M546.1 461.8l4.4 -3.9M552.7 469.3l4.4 -3.9M559.3 476.8l4.4 -3.9M565.9 484.3l4.4 -3.9M572.5 491.8l4.4 -3.9M579.1 499.3l4.4 -3.9M585.8 506.8l4.4 -3.9M438.1 333.7l4.4 -3.9M441.4 337.4l4.4 -3.9M444.7 341.2l4.4 -3.9M448.0 344.9l4.4 -3.9M451.3 348.7l4.4 -3.9M454.6 352.4l4.4 -3.9M457.9 356.2l4.4 -3.9M461.2 359.9l4.4 -3.9M464.5 363.7l4.4 -3.9M467.9 367.4l4.4 -3.9M471.2 371.2l4.4 -3.9M474.5 374.9l4.4 -3.9M477.8 378.7l4.4 -3.9M481.1 382.4l4.4 -3.9M484.4 386.2l4.4 -3.9M487.7 389.9l4.4 -3.9M491.0 393.7l4.4 -3.9M494.3 397.4l4.4 -3.9M497.6 401.2l4.4 -3.9M500.9 404.9l4.4 -3.9M504.2 408.7l4.4 -3.9M507.5 412.4l4.4 -3.9M510.8 416.2l4.4 -3.9M514.1 419.9l4.4 -3.9M517.5 423.7l4.4 -3.9M520.8 427.4l4.4 -3.9M524.1 431.2l4.4 -3.9M527.4 434.9l4.4 -3.9M530.7 438.7l4.4 -3.9M534.0 442.4l4.4 -3.9M537.3 446.2l4.4 -3.9M540.6 449.9l4.4 -3.9M543.9 453.7l4.4 -3.9M547.2 457.4l4.4 -3.9M550.5 461.2l4.4 -3.9M553.8 464.9l4.4 -3.9M557.1 468.7l4.4 -3.9M560.4 472.4l4.4 -3.9M563.7 476.2l4.4 -3.9M567.1 479.9l4.4 -3.9M570.4 483.7l4.4 -3.9M573.7 487.4l4.4 -3.9M577.0 491.2l4.4 -3.9M580.3 494.9l4.4 -3.9M583.6 498.7l4.4 -3.9M586.9 502.4l4.4 -3.9M439.2 329.3l4.4 -3.9M442.5 333.1l4.4 -3.9M445.8 336.8l4.4 -3.9M449.1 340.6l4.4 -3.9M452.5 344.3l4.4 -3.9M455.8 348.1l4.4 -3.9M459.1 351.8l4.4 -3.9M462.4 355.6l4.4 -3.9M465.7 359.3l4.4 -3.9M469.0 363.1l4.4 -3.9M472.3 366.8l4.4 -3.9M475.6 370.6l4.4 -3.9M478.9 374.3l4.4 -3.9M482.2 378.1l4.4 -3.9M485.5 381.8l4.4 -3.9M488.8 385.6l4.4 -3.9M492.1 389.3l4.4 -3.9M495.4 393.1l4.4 -3.9M498.7 396.8l4.4 -3.9M502.1 400.6l4.4 -3.9M505.4 404.3l4.4 -3.9M508.7 408.1l4.4 -3.9M512.0 411.8l4.4 -3.9M515.3 415.6l4.4 -3.9M518.6 419.3l4.4 -3.9M521.9 423.1l4.4 -3.9M525.2 426.9l4.4 -3.9M528.5 430.6l4.4 -3.9M531.8 434.4l4.4 -3.9M535.1 438.1l4.4 -3.9M538.4 441.9l4.4 -3.9M541.7 445.6l4.4 -3.9M545.0 449.4l4.4 -3.9M548.3 453.1l4.4 -3.9M551.6 456.9l4.4 -3.9M555.0 460.6l4.4 -3.9M558.3 464.4l4.4 -3.9M561.6 468.1l4.4 -3.9M564.9 471.9l4.4 -3.9M568.2 475.6l4.4 -3.9M571.5 479.4l4.4 -3.9M574.8 483.1l4.4 -3.9M578.1 486.9l4.4 -3.9M581.4 490.6l4.4 -3.9M584.7 494.4l4.4 -3.9M588.0 498.1l4.4 -3.9M439.3 312.6l4.3 -3.8M442.6 316.3l4.3 -3.8M445.9 320.1l4.3 -3.8M449.2 323.9l4.3 -3.8M452.5 327.6l4.3 -3.8M455.8 331.4l4.3 -3.8M459.1 335.1l4.3 -3.8M462.5 338.9l4.3 -3.8M465.8 342.6l4.3 -3.8M469.1 346.4l4.3 -3.8M472.4 350.1l4.3 -3.8M475.7 353.9l4.3 -3.8M479.0 357.6l4.3 -3.8M482.3 361.4l4.3 -3.8M485.6 365.1l4.3 -3.8M488.9 368.9l4.3 -3.8M492.2 372.6l4.3 -3.8M495.5 376.4l4.3 -3.8M498.8 380.1l4.3 -3.8M502.1 383.9l4.3 -3.8M505.4 387.6l4.3 -3.8M508.7 391.4l4.3 -3.8M512.1 395.1l4.3 -3.8M515.4 398.9l4.3 -3.8M518.7 402.6l4.3 -3.8M522.0 406.4l4.3 -3.8M525.3 410.1l4.3 -3.8M528.6 413.9l4.3 -3.8M531.9 417.6l4.3 -3.8M535.2 421.4l4.3 -3.8M538.5 425.1l4.3 -3.8M541.8 428.9l4.3 -3.8M545.1 432.6l4.3 -3.8M548.4 436.4l4.3 -3.8M551.7 440.1l4.3 -3.8M555.0 443.9l4.3 -3.8M558.3 447.6l4.3 -3.8M561.7 451.4l4.3 -3.8M565.0 455.1l4.3 -3.8M568.3 458.9l4.3 -3.8M571.6 462.6l4.3 -3.8M574.9 466.4l4.3 -3.8M578.2 470.1l4.3 -3.8M581.5 473.9l4.3 -3.8M584.8 477.6l4.3 -3.8M588.1 481.4l4.3 -3.8M440.4 308.3l4.3 -3.8M443.7 312.0l4.3 -3.8M447.1 315.8l4.3 -3.8M450.4 319.5l4.3 -3.8M453.7 323.3l4.3 -3.8M457.0 327.0l4.3 -3.8M460.3 330.8l4.3 -3.8M463.6 334.5l4.3 -3.8M466.9 338.3l4.3 -3.8M470.2 342.0l4.3 -3.8M473.5 345.8l4.3 -3.8M476.8 349.5l4.3 -3.8M480.1 353.3l4.3 -3.8M483.4 357.0l4.3 -3.8M486.7 360.8l4.3 -3.8M490.0 364.5l4.3 -3.8M493.3 368.3l4.3 -3.8M496.7 372.0l4.3 -3.8M500.0 375.8l4.3 -3.8M503.3 379.5l4.3 -3.8M506.6 383.3l4.3 -3.8M509.9 387.0l4.3 -3.8M513.2 390.8l4.3 -3.8M516.5 394.5l4.3 -3.8M519.8 398.3l4.3 -3.8M523.1 402.0l4.3 -3.8M526.4 405.8l4.3 -3.8M529.7 409.5l4.3 -3.8M533.0 413.3l4.3 -3.8M536.3 417.0l4.3 -3.8M539.6 420.8l4.3 -3.8M542.9 424.5l4.3 -3.8M546.2 428.3l4.3 -3.8M549.6 432.0l4.3 -3.8M552.9 435.8l4.3 -3.8M556.2 439.5l4.3 -3.8M559.5 443.3l4.3 -3.8M562.8 447.0l4.3 -3.8M566.1 450.8l4.3 -3.8M569.4 454.5l4.3 -3.8M572.7 458.3l4.3 -3.8M576.0 462.0l4.3 -3.8M579.3 465.8l4.3 -3.8M582.6 469.5l4.3 -3.8M585.9 473.3l4.3 -3.8M438.3 300.2l4.3 -3.8M444.9 307.7l4.3 -3.8M451.5 315.2l4.3 -3.8M458.1 322.7l4.3 -3.8M464.7 330.2l4.3 -3.8M471.3 337.7l4.3 -3.8M477.9 345.2l4.3 -3.8M484.6 352.7l4.3 -3.8M491.2 360.2l4.3 -3.8M497.8 367.7l4.3 -3.8M504.4 375.2l4.3 -3.8M511.0 382.7l4.3 -3.8M517.6 390.2l4.3 -3.8M524.2 397.7l4.3 -3.8M530.8 405.2l4.3 -3.8M537.5 412.7l4.3 -3.8M544.1 420.2l4.3 -3.8M550.7 427.7l4.3 -3.8M557.3 435.2l4.3 -3.8M563.9 442.7l4.3 -3.8M570.5 450.2l4.3 -3.8M577.1 457.7l4.3 -3.8M583.8 465.2l4.3 -3.8M439.4 295.9l4.3 -3.8M442.7 299.6l4.3 -3.8M446.0 303.4l4.3 -3.8M449.3 307.1l4.3 -3.8M452.6 310.9l4.3 -3.8M455.9 314.6l4.3 -3.8M459.2 318.4l4.3 -3.8M462.5 322.1l4.3 -3.8M465.8 325.9l4.3 -3.8M469.2 329.6l4.3 -3.8M472.5 333.4l4.3 -3.8M475.8 337.1l4.3 -3.8M479.1 340.9l4.3 -3.8M482.4 344.6l4.3 -3.8M485.7 348.4l4.3 -3.8M489.0 352.1l4.3 -3.8M492.3 355.9l4.3 -3.8M495.6 359.6l4.3 -3.8M498.9 363.4l4.3 -3.8M502.2 367.1l4.3 -3.8M505.5 370.9l4.3 -3.8M508.8 374.6l4.3 -3.8M512.1 378.4l4.3 -3.8M515.4 382.1l4.3 -3.8M518.7 385.9l4.3 -3.8M522.1 389.6l4.3 -3.8M525.4 393.4l4.3 -3.8M528.7 397.1l4.3 -3.8M532.0 400.9l4.3 -3.8M535.3 404.6l4.3 -3.8M538.6 408.4l4.3 -3.8M541.9 412.1l4.3 -3.8M545.2 415.9l4.3 -3.8M548.5 419.6l4.3 -3.8M551.8 423.4l4.3 -3.8M555.1 427.1l4.3 -3.8M558.4 430.9l4.3 -3.8M561.7 434.6l4.3 -3.8M565.0 438.4l4.3 -3.8M568.3 442.1l4.3 -3.8M571.7 445.9l4.3 -3.8M575.0 449.6l4.3 -3.8M578.3 453.4l4.3 -3.8M581.6 457.1l4.3 -3.8M584.9 460.9l4.3 -3.8M588.2 464.6l4.3 -3.8M440.5 291.5l4.3 -3.8M443.8 295.3l4.3 -3.8M447.1 299.0l4.3 -3.8M450.4 302.8l4.3 -3.8M453.7 306.5l4.3 -3.8M457.1 310.3l4.3 -3.8M460.4 314.0l4.3 -3.8M463.7 317.8l4.3 -3.8M467.0 321.5l4.3 -3.8M470.3 325.3l4.3 -3.8M473.6 329.0l4.3 -3.8M476.9 332.8l4.3 -3.8M480.2 336.5l4.3 -3.8M483.5 340.3l4.3 -3.8M486.8 344.0l4.3 -3.8M490.1 347.8l4.3 -3.8M493.4 351.5l4.3 -3.8M496.7 355.3l4.3 -3.8M500.0 359.0l4.3 -3.8M503.3 362.8l4.3 -3.8M506.7 366.5l4.3 -3.8M510.0 370.3l4.3 -3.8M513.3 374.0l4.3 -3.8M516.6 377.8l4.3 -3.8M519.9 381.5l4.3 -3.8M523.2 385.3l4.3 -3.8M526.5 389.0l4.3 -3.8M529.8 392.8l4.3 -3.8M533.1 396.5l4.3 -3.8M536.4 400.3l4.3 -3.8M539.7 404.1l4.3 -3.8M543.0 407.8l4.3 -3.8M546.3 411.6l4.3 -3.8M549.6 415.3l4.3 -3.8M552.9 419.1l4.3 -3.8M556.3 422.8l4.3 -3.8M559.6 426.6l4.3 -3.8M562.9 430.3l4.3 -3.8M566.2 434.1l4.3 -3.8M569.5 437.8l4.3 -3.8M572.8 441.6l4.3 -3.8M576.1 445.3l4.3 -3.8M579.4 449.1l4.3 -3.8M582.7 452.8l4.3 -3.8M586.0 456.6l4.3 -3.8M445.0 291.0l4.3 -3.8M448.3 294.7l4.3 -3.8M451.6 298.5l4.3 -3.8M454.9 302.2l4.3 -3.8M458.2 306.0l4.3 -3.8M461.5 309.7l4.3 -3.8M464.8 313.5l4.3 -3.8M468.1 317.2l4.3 -3.8M471.4 321.0l4.3 -3.8M474.7 324.7l4.3 -3.8M478.0 328.5l4.3 -3.8M481.3 332.2l4.3 -3.8M484.6 336.0l4.3 -3.8M487.9 339.7l4.3 -3.8M491.2 343.5l4.3 -3.8M494.6 347.2l4.3 -3.8M497.9 351.0l4.3 -3.8M501.2 354.7l4.3 -3.8M504.5 358.5l4.3 -3.8M507.8 362.2l4.3 -3.8M511.1 366.0l4.3 -3.8M514.4 369.7l4.3 -3.8M517.7 373.5l4.3 -3.8M521.0 377.2l4.3 -3.8M524.3 381.0l4.3 -3.8M527.6 384.7l4.3 -3.8M530.9 388.5l4.3 -3.8M534.2 392.2l4.3 -3.8M537.5 396.0l4.3 -3.8M540.8 399.7l4.3 -3.8M544.2 403.5l4.3 -3.8M547.5 407.2l4.3 -3.8M550.8 411.0l4.3 -3.8M554.1 414.7l4.3 -3.8M557.4 418.5l4.3 -3.8M560.7 422.2l4.3 -3.8M564.0 426.0l4.3 -3.8M567.3 429.7l4.3 -3.8M570.6 433.5l4.3 -3.8M573.9 437.2l4.3 -3.8M577.2 441.0l4.3 -3.8M580.5 444.7l4.3 -3.8M583.8 448.5l4.3 -3.8M587.1 452.2l4.3 -3.8M449.4 290.4l4.2 -3.7M456.0 297.9l4.2 -3.7M462.6 305.4l4.2 -3.7M469.2 312.9l4.2 -3.7M475.8 320.4l4.2 -3.7M482.5 327.9l4.2 -3.7M489.1 335.4l4.2 -3.7M495.7 342.9l4.2 -3.7M502.3 350.4l4.2 -3.7M508.9 357.9l4.2 -3.7M515.5 365.4l4.2 -3.7M522.1 372.9l4.2 -3.7M528.8 380.4l4.2 -3.7M535.4 387.9l4.2 -3.7M542.0 395.4l4.2 -3.7M548.6 402.9l4.2 -3.7M555.2 410.4l4.2 -3.7M561.8 417.9l4.2 -3.7M568.4 425.4l4.2 -3.7M575.0 432.9l4.2 -3.7M581.7 440.4l4.2 -3.7M588.3 447.9l4.2 -3.7M458.3 289.2l4.2 -3.7M461.6 293.0l4.2 -3.7M464.9 296.7l4.2 -3.7M468.2 300.5l4.2 -3.7M471.5 304.2l4.2 -3.7M474.8 308.0l4.2 -3.7M478.1 311.7l4.2 -3.7M481.4 315.5l4.2 -3.7M484.7 319.2l4.2 -3.7M488.0 323.0l4.2 -3.7M491.3 326.7l4.2 -3.7M494.6 330.5l4.2 -3.7M497.9 334.2l4.2 -3.7M501.3 338.0l4.2 -3.7M504.6 341.7l4.2 -3.7M507.9 345.5l4.2 -3.7M511.2 349.2l4.2 -3.7M514.5 353.0l4.2 -3.7M517.8 356.7l4.2 -3.7M521.1 360.5l4.2 -3.7M524.4 364.2l4.2 -3.7M527.7 368.0l4.2 -3.7M531.0 371.7l4.2 -3.7M534.3 375.5l4.2 -3.7M537.6 379.2l4.2 -3.7M540.9 383.0l4.2 -3.7M544.2 386.7l4.2 -3.7M547.5 390.5l4.2 -3.7M550.9 394.2l4.2 -3.7M554.2 398.0l4.2 -3.7M557.5 401.7l4.2 -3.7M560.8 405.5l4.2 -3.7M564.1 409.2l4.2 -3.7M567.4 413.0l4.2 -3.7M570.7 416.7l4.2 -3.7M574.0 420.5l4.2 -3.7M577.3 424.2l4.2 -3.7M580.6 428.0l4.2 -3.7M583.9 431.7l4.2 -3.7M587.2 435.5l4.2 -3.7M466.0 292.4l4.2 -3.7M469.3 296.1l4.2 -3.7M472.6 299.9l4.2 -3.7M475.9 303.6l4.2 -3.7M479.2 307.4l4.2 -3.7M482.5 311.1l4.2 -3.7M485.8 314.9l4.2 -3.7M489.2 318.6l4.2 -3.7M492.5 322.4l4.2 -3.7M495.8 326.1l4.2 -3.7M499.1 329.9l4.2 -3.7M502.4 333.6l4.2 -3.7M505.7 337.4l4.2 -3.7M509.0 341.2l4.2 -3.7M512.3 344.9l4.2 -3.7M515.6 348.7l4.2 -3.7M518.9 352.4l4.2 -3.7M522.2 356.2l4.2 -3.7M525.5 359.9l4.2 -3.7M528.8 363.7l4.2 -3.7M532.1 367.4l4.2 -3.7M535.4 371.2l4.2 -3.7M538.8 374.9l4.2 -3.7M542.1 378.7l4.2 -3.7M545.4 382.4l4.2 -3.7M548.7 386.2l4.2 -3.7M552.0 389.9l4.2 -3.7M555.3 393.7l4.2 -3.7M558.6 397.4l4.2 -3.7M561.9 401.2l4.2 -3.7M565.2 404.9l4.2 -3.7M568.5 408.7l4.2 -3.7M571.8 412.4l4.2 -3.7M575.1 416.2l4.2 -3.7M578.4 419.9l4.2 -3.7M581.7 423.7l4.2 -3.7M585.0 427.4l4.2 -3.7M588.4 431.2l4.2 -3.7M473.8 295.6l4.2 -3.7M480.4 303.1l4.2 -3.7M487.0 310.6l4.2 -3.7M493.6 318.1l4.2 -3.7M500.2 325.6l4.2 -3.7M506.8 333.1l4.2 -3.7M513.4 340.6l4.2 -3.7M520.0 348.1l4.2 -3.7M526.7 355.6l4.2 -3.7M533.3 363.1l4.2 -3.7M539.9 370.6l4.2 -3.7M546.5 378.1l4.2 -3.7M553.1 385.6l4.2 -3.7M559.7 393.1l4.2 -3.7M566.3 400.6l4.2 -3.7M572.9 408.1l4.2 -3.7M579.6 415.6l4.2 -3.7M586.2 423.1l4.2 -3.7M474.9 291.2l4.2 -3.7M478.2 295.0l4.2 -3.7M481.5 298.7l4.2 -3.7M484.8 302.5l4.2 -3.7M488.1 306.2l4.2 -3.7M491.4 310.0l4.2 -3.7M494.7 313.7l4.2 -3.7M498.0 317.5l4.2 -3.7M501.3 321.2l4.2 -3.7M504.6 325.0l4.2 -3.7M507.9 328.7l4.2 -3.7M511.3 332.5l4.2 -3.7M514.6 336.2l4.2 -3.7M517.9 340.0l4.2 -3.7M521.2 343.7l4.2 -3.7M524.5 347.5l4.2 -3.7M527.8 351.2l4.2 -3.7M531.1 355.0l4.2 -3.7M534.4 358.7l4.2 -3.7M537.7 362.5l4.2 -3.7M541.0 366.2l4.2 -3.7M544.3 370.0l4.2 -3.7M547.6 373.7l4.2 -3.7M550.9 377.5l4.2 -3.7M554.2 381.2l4.2 -3.7M557.5 385.0l4.2 -3.7M560.9 388.8l4.2 -3.7M564.2 392.5l4.2 -3.7M567.5 396.3l4.2 -3.7M570.8 400.0l4.2 -3.7M574.1 403.8l4.2 -3.7M577.4 407.5l4.2 -3.7M580.7 411.3l4.2 -3.7M584.0 415.0l4.2 -3.7M587.3 418.8l4.2 -3.7M479.3 290.7l4.1 -3.7M482.6 294.4l4.1 -3.7M485.9 298.2l4.1 -3.7M489.2 301.9l4.1 -3.7M492.5 305.7l4.1 -3.7M495.9 309.4l4.1 -3.7M499.2 313.2l4.1 -3.7M502.5 316.9l4.1 -3.7M505.8 320.7l4.1 -3.7M509.1 324.4l4.1 -3.7M512.4 328.2l4.1 -3.7M515.7 331.9l4.1 -3.7M519.0 335.7l4.1 -3.7M522.3 339.4l4.1 -3.7M525.6 343.2l4.1 -3.7M528.9 346.9l4.1 -3.7M532.2 350.7l4.1 -3.7M535.5 354.4l4.1 -3.7M538.8 358.2l4.1 -3.7M542.1 361.9l4.1 -3.7M545.4 365.7l4.1 -3.7M548.8 369.4l4.1 -3.7M552.1 373.2l4.1 -3.7M555.4 376.9l4.1 -3.7M558.7 380.7l4.1 -3.7M562.0 384.4l4.1 -3.7M565.3 388.2l4.1 -3.7M568.6 391.9l4.1 -3.7M571.9 395.7l4.1 -3.7M575.2 399.4l4.1 -3.7M578.5 403.2l4.1 -3.7M581.8 406.9l4.1 -3.7M585.1 410.7l4.1 -3.7M588.4 414.4l4.1 -3.7M483.8 290.1l4.1 -3.6M487.1 293.8l4.1 -3.6M490.4 297.6l4.1 -3.6M493.7 301.3l4.1 -3.6M497.0 305.1l4.1 -3.6M500.3 308.8l4.1 -3.6M503.6 312.6l4.1 -3.6M506.9 316.3l4.1 -3.6M510.2 320.1l4.1 -3.6M513.5 323.8l4.1 -3.6M516.8 327.6l4.1 -3.6M520.1 331.3l4.1 -3.6M523.4 335.1l4.1 -3.6M526.7 338.8l4.1 -3.6M530.0 342.6l4.1 -3.6M533.4 346.3l4.1 -3.6M536.7 350.1l4.1 -3.6M540.0 353.8l4.1 -3.6M543.3 357.6l4.1 -3.6M546.6 361.3l4.1 -3.6M549.9 365.1l4.1 -3.6M553.2 368.8l4.1 -3.6M556.5 372.6l4.1 -3.6M559.8 376.3l4.1 -3.6M563.1 380.1l4.1 -3.6M566.4 383.8l4.1 -3.6M569.7 387.6l4.1 -3.6M573.0 391.3l4.1 -3.6M576.3 395.1l4.1 -3.6M579.6 398.8l4.1 -3.6M583.0 402.6l4.1 -3.6M586.3 406.3l4.1 -3.6M491.5 293.3l4.1 -3.6M498.1 300.8l4.1 -3.6M504.7 308.3l4.1 -3.6M511.3 315.8l4.1 -3.6M517.9 323.3l4.1 -3.6M524.6 330.8l4.1 -3.6M531.2 338.3l4.1 -3.6M537.8 345.8l4.1 -3.6M544.4 353.3l4.1 -3.6M551.0 360.8l4.1 -3.6M557.6 368.3l4.1 -3.6M564.2 375.8l4.1 -3.6M570.9 383.3l4.1 -3.6M577.5 390.8l4.1 -3.6M584.1 398.3l4.1 -3.6M495.9 292.7l4.1 -3.6M502.5 300.2l4.1 -3.6M509.2 307.7l4.1 -3.6M515.8 315.2l4.1 -3.6M522.4 322.7l4.1 -3.6M529.0 330.2l4.1 -3.6M535.6 337.7l4.1 -3.6M542.2 345.2l4.1 -3.6M548.8 352.7l4.1 -3.6M555.5 360.2l4.1 -3.6M562.1 367.7l4.1 -3.6M568.7 375.2l4.1 -3.6M575.3 382.7l4.1 -3.6M581.9 390.2l4.1 -3.6M588.5 397.7l4.1 -3.6M500.4 292.1l4.1 -3.6M503.7 295.8l4.1 -3.6M507.0 299.6l4.1 -3.6M510.3 303.3l4.1 -3.6M513.6 307.1l4.1 -3.6M516.9 310.8l4.1 -3.6M520.2 314.6l4.1 -3.6M523.5 318.3l4.1 -3.6M526.8 322.1l4.1 -3.6M530.1 325.9l4.1 -3.6M533.4 329.6l4.1 -3.6M536.7 333.4l4.1 -3.6M540.0 337.1l4.1 -3.6M543.4 340.9l4.1 -3.6M546.7 344.6l4.1 -3.6M550.0 348.4l4.1 -3.6M553.3 352.1l4.1 -3.6M556.6 355.9l4.1 -3.6M559.9 359.6l4.1 -3.6M563.2 363.4l4.1 -3.6M566.5 367.1l4.1 -3.6M569.8 370.9l4.1 -3.6M573.1 374.6l4.1 -3.6M576.4 378.4l4.1 -3.6M579.7 382.1l4.1 -3.6M583.0 385.9l4.1 -3.6M586.3 389.6l4.1 -3.6M504.8 291.5l4.1 -3.6M508.1 295.3l4.1 -3.6M511.4 299.0l4.1 -3.6M514.7 302.8l4.1 -3.6M518.0 306.5l4.1 -3.6M521.3 310.3l4.1 -3.6M524.6 314.0l4.1 -3.6M528.0 317.8l4.1 -3.6M531.3 321.5l4.1 -3.6M534.6 325.3l4.1 -3.6M537.9 329.0l4.1 -3.6M541.2 332.8l4.1 -3.6M544.5 336.5l4.1 -3.6M547.8 340.3l4.1 -3.6M551.1 344.0l4.1 -3.6M554.4 347.8l4.1 -3.6M557.7 351.5l4.1 -3.6M561.0 355.3l4.1 -3.6M564.3 359.0l4.1 -3.6M567.6 362.8l4.1 -3.6M570.9 366.5l4.1 -3.6M574.2 370.3l4.1 -3.6M577.6 374.0l4.1 -3.6M580.9 377.8l4.1 -3.6M584.2 381.5l4.1 -3.6M587.5 385.3l4.1 -3.6M509.2 290.9l4.1 -3.6M512.5 294.7l4.1 -3.6M515.9 298.4l4.1 -3.6M519.2 302.2l4.1 -3.6M522.5 305.9l4.1 -3.6M525.8 309.7l4.1 -3.6M529.1 313.4l4.1 -3.6M532.4 317.2l4.1 -3.6M535.7 320.9l4.1 -3.6M539.0 324.7l4.1 -3.6M542.3 328.4l4.1 -3.6M545.6 332.2l4.1 -3.6M548.9 335.9l4.1 -3.6M552.2 339.7l4.1 -3.6M555.5 343.4l4.1 -3.6M558.8 347.2l4.1 -3.6M562.1 350.9l4.1 -3.6M565.5 354.7l4.1 -3.6M568.8 358.4l4.1 -3.6M572.1 362.2l4.1 -3.6M575.4 366.0l4.1 -3.6M578.7 369.7l4.1 -3.6M582.0 373.5l4.1 -3.6M585.3 377.2l4.1 -3.6M588.6 381.0l4.1 -3.6M513.7 290.4l4.0 -3.6M517.0 294.1l4.0 -3.6M520.3 297.9l4.0 -3.6M523.6 301.6l4.0 -3.6M526.9 305.4l4.0 -3.6M530.2 309.1l4.0 -3.6M533.5 312.9l4.0 -3.6M536.8 316.6l4.0 -3.6M540.1 320.4l4.0 -3.6M543.4 324.1l4.0 -3.6M546.7 327.9l4.0 -3.6M550.1 331.6l4.0 -3.6M553.4 335.4l4.0 -3.6M556.7 339.1l4.0 -3.6M560.0 342.9l4.0 -3.6M563.3 346.6l4.0 -3.6M566.6 350.4l4.0 -3.6M569.9 354.1l4.0 -3.6M573.2 357.9l4.0 -3.6M576.5 361.6l4.0 -3.6M579.8 365.4l4.0 -3.6M583.1 369.1l4.0 -3.6M586.4 372.9l4.0 -3.6M518.1 289.8l4.0 -3.6M521.4 293.5l4.0 -3.6M524.7 297.3l4.0 -3.6M528.0 301.0l4.0 -3.6M531.3 304.8l4.0 -3.6M534.6 308.5l4.0 -3.6M538.0 312.3l4.0 -3.6M541.3 316.0l4.0 -3.6M544.6 319.8l4.0 -3.6M547.9 323.5l4.0 -3.6M551.2 327.3l4.0 -3.6M554.5 331.0l4.0 -3.6M557.8 334.8l4.0 -3.6M561.1 338.5l4.0 -3.6M564.4 342.3l4.0 -3.6M567.7 346.0l4.0 -3.6M571.0 349.8l4.0 -3.6M574.3 353.5l4.0 -3.6M577.6 357.3l4.0 -3.6M580.9 361.0l4.0 -3.6M584.2 364.8l4.0 -3.6M587.6 368.5l4.0 -3.6M522.6 289.2l4.0 -3.5M525.9 293.0l4.0 -3.5M529.2 296.7l4.0 -3.5M532.5 300.5l4.0 -3.5M535.8 304.2l4.0 -3.5M539.1 308.0l4.0 -3.5M542.4 311.7l4.0 -3.5M545.7 315.5l4.0 -3.5M549.0 319.2l4.0 -3.5M552.3 323.0l4.0 -3.5M555.6 326.7l4.0 -3.5M558.9 330.5l4.0 -3.5M562.2 334.2l4.0 -3.5M565.5 338.0l4.0 -3.5M568.8 341.7l4.0 -3.5M572.1 345.5l4.0 -3.5M575.5 349.2l4.0 -3.5M578.8 353.0l4.0 -3.5M582.1 356.7l4.0 -3.5M585.4 360.5l4.0 -3.5M588.7 364.2l4.0 -3.5M533.6 296.1l4.0 -3.5M540.2 303.6l4.0 -3.5M546.8 311.1l4.0 -3.5M553.4 318.6l4.0 -3.5M560.1 326.1l4.0 -3.5M566.7 333.6l4.0 -3.5M573.3 341.1l4.0 -3.5M579.9 348.6l4.0 -3.5M586.5 356.1l4.0 -3.5M534.7 291.8l4.0 -3.5M538.0 295.5l4.0 -3.5M541.3 299.3l4.0 -3.5M544.7 303.0l4.0 -3.5M548.0 306.8l4.0 -3.5M551.3 310.6l4.0 -3.5M554.6 314.3l4.0 -3.5M557.9 318.1l4.0 -3.5M561.2 321.8l4.0 -3.5M564.5 325.6l4.0 -3.5M567.8 329.3l4.0 -3.5M571.1 333.1l4.0 -3.5M574.4 336.8l4.0 -3.5M577.7 340.6l4.0 -3.5M581.0 344.3l4.0 -3.5M584.3 348.1l4.0 -3.5M587.6 351.8l4.0 -3.5M539.2 291.2l4.0 -3.5M542.5 295.0l4.0 -3.5M545.8 298.7l4.0 -3.5M549.1 302.5l4.0 -3.5M552.4 306.2l4.0 -3.5M555.7 310.0l4.0 -3.5M559.0 313.7l4.0 -3.5M562.3 317.5l4.0 -3.5M565.6 321.2l4.0 -3.5M568.9 325.0l4.0 -3.5M572.2 328.7l4.0 -3.5M575.5 332.5l4.0 -3.5M578.8 336.2l4.0 -3.5M582.2 340.0l4.0 -3.5M585.5 343.7l4.0 -3.5M543.6 290.6l4.0 -3.5M546.9 294.4l4.0 -3.5M550.2 298.1l4.0 -3.5M553.5 301.9l4.0 -3.5M556.8 305.6l4.0 -3.5M560.1 309.4l4.0 -3.5M563.4 313.1l4.0 -3.5M566.7 316.9l4.0 -3.5M570.1 320.6l4.0 -3.5M573.4 324.4l4.0 -3.5M576.7 328.1l4.0 -3.5M580.0 331.9l4.0 -3.5M583.3 335.6l4.0 -3.5M586.6 339.4l4.0 -3.5M548.0 290.1l3.9 -3.5M551.3 293.8l3.9 -3.5M554.7 297.6l3.9 -3.5M558.0 301.3l3.9 -3.5M561.3 305.1l3.9 -3.5M564.6 308.8l3.9 -3.5M567.9 312.6l3.9 -3.5M571.2 316.3l3.9 -3.5M574.5 320.1l3.9 -3.5M577.8 323.8l3.9 -3.5M581.1 327.6l3.9 -3.5M584.4 331.3l3.9 -3.5M587.7 335.1l3.9 -3.5M552.5 289.5l3.9 -3.5M555.8 293.2l3.9 -3.5M559.1 297.0l3.9 -3.5M562.4 300.7l3.9 -3.5M565.7 304.5l3.9 -3.5M569.0 308.2l3.9 -3.5M572.3 312.0l3.9 -3.5M575.6 315.7l3.9 -3.5M578.9 319.5l3.9 -3.5M582.2 323.2l3.9 -3.5M585.5 327.0l3.9 -3.5M560.2 292.7l3.9 -3.4M563.5 296.4l3.9 -3.4M566.8 300.2l3.9 -3.4M570.1 303.9l3.9 -3.4M573.4 307.7l3.9 -3.4M576.8 311.4l3.9 -3.4M580.1 315.2l3.9 -3.4M583.4 318.9l3.9 -3.4M586.7 322.7l3.9 -3.4M564.7 292.1l3.9 -3.4M568.0 295.8l3.9 -3.4M571.3 299.6l3.9 -3.4M574.6 303.3l3.9 -3.4M577.9 307.1l3.9 -3.4M581.2 310.8l3.9 -3.4M584.5 314.6l3.9 -3.4M587.8 318.3l3.9 -3.4M569.1 291.5l3.9 -3.4M572.4 295.3l3.9 -3.4M575.7 299.0l3.9 -3.4M579.0 302.8l3.9 -3.4M582.3 306.5l3.9 -3.4M585.6 310.3l3.9 -3.4M573.5 290.9l3.9 -3.4M576.8 294.7l3.9 -3.4M580.1 298.4l3.9 -3.4M583.4 302.2l3.9 -3.4M586.8 305.9l3.9 -3.4M578.0 290.3l3.8 -3.4M581.3 294.1l3.8 -3.4M584.6 297.8l3.8 -3.4M587.9 301.6l3.8 -3.4M582.4 289.8l3.8 -3.4M585.7 293.5l3.8 -3.4M586.8 289.2l3.8 -3.4" stroke="#fff" stroke-opacity="0.62" stroke-width="2.1" fill="none"/>
<path clip-path="url(#c2)" d="M440.9 293.2L589.7 180.5M440.9 301.4L589.7 188.5M440.9 309.8L589.7 196.3M440.9 318.2L589.7 204.1M440.9 326.6L589.7 211.9M440.9 335.0L589.7 219.7M440.9 343.4L589.7 227.5M440.9 351.8L589.7 235.3M440.9 360.2L589.7 243.1M440.9 368.7L589.7 250.9M440.9 377.1L589.7 258.7M440.9 385.5L589.7 266.4M440.9 393.9L589.7 274.2M440.9 402.4L589.7 282.0M440.9 410.8L589.7 289.7M440.9 419.2L589.7 297.5M440.9 427.7L589.7 305.3M440.9 436.1L589.7 313.0M440.9 444.6L589.7 320.8M440.9 453.0L589.7 328.5M440.9 461.5L589.7 336.2M440.9 470.0L589.7 344.0M440.9 478.4L589.7 351.7M440.9 486.9L589.7 359.4M440.9 495.4L589.7 367.2M440.9 503.9L589.7 374.9M440.9 512.3L589.7 382.6M440.9 520.8L589.7 390.3M440.9 529.3L589.7 398.0M440.9 537.8L589.7 405.7M440.9 546.3L589.7 413.4M440.9 554.8L589.7 421.1M440.9 563.3L589.7 428.8M440.9 571.9L589.7 436.5M440.9 580.4L589.7 444.1M440.9 588.9L589.7 451.8M440.9 597.5L589.7 459.5M440.9 606.0L589.7 467.1M440.9 614.6L589.7 474.8M440.9 623.1L589.7 482.4M440.9 631.7L589.7 490.1M440.9 640.2L589.7 497.7M440.9 648.8L589.7 505.3M440.9 657.4L589.7 513.0M440.9 666.0L589.7 520.6M440.9 674.6L589.7 528.2M440.9 683.1L589.7 535.8M440.9 691.8L589.7 543.4M440.9 700.4L589.7 551.0M440.9 709.0L589.7 558.5M440.9 717.6L589.7 566.1M440.9 726.2L589.7 573.7M440.9 734.9L589.7 581.3M440.9 743.5L589.7 588.8M440.9 752.2L589.7 596.3M440.9 760.8L589.7 603.9M440.9 769.5L589.7 611.4M440.9 778.2L589.7 618.9M440.9 786.9L589.7 626.4M440.9 795.6L589.7 633.9M440.9 804.3L589.7 641.4M440.9 813.0L589.7 648.9M440.9 821.7L589.7 656.4M440.9 830.5L589.7 663.9M440.9 839.2L589.7 671.3M440.9 847.9L589.7 678.8M440.9 856.0L589.7 686.9M440.9 864.1L589.7 695.0M440.9 872.2L589.7 703.1M440.9 880.3L589.7 711.2M440.9 888.4L589.7 719.3M440.9 896.5L589.7 727.4M440.9 904.6L589.7 735.5M440.9 912.7L589.7 743.6M440.9 920.8L589.7 751.7M440.9 928.9L589.7 759.8" stroke="#0a820a" stroke-width="1.9" fill="none"/>
<rect x="442.9" y="290.2" width="144.8" height="472.5" fill="none" stroke="#0a820a" stroke-width="2.2"/>
<linearGradient id="g3" gradientUnits="userSpaceOnUse" x1="684.9" y1="762.7" x2="860.1" y2="587.5"><stop offset="0" stop-color="#02ee02"/><stop offset="0.58" stop-color="#78ee78"/><stop offset="1" stop-color="#d7f0d7"/></linearGradient>
<rect x="684.9" y="557.1" width="144.8" height="205.6" fill="url(#g3)"/>
<clipPath id="c3"><rect x="684.9" y="557.1" width="144.8" height="205.6"/></clipPath>
<path clip-path="url(#c3)" d="M682.9 443.5L831.7 556.3M682.9 451.6L831.7 564.4M682.9 459.7L831.7 572.5M682.9 467.8L831.7 580.6M682.9 475.9L831.7 588.7M682.9 483.7L831.7 597.1M682.9 491.1L831.7 605.9M682.9 498.5L831.7 614.7M682.9 505.9L831.7 623.5M682.9 513.2L831.7 632.3M682.9 520.6L831.7 641.2M682.9 527.9L831.7 650.1M682.9 535.2L831.7 659.0M682.9 542.5L831.7 667.9M682.9 549.7L831.7 676.8M682.9 557.0L831.7 685.8M682.9 564.2L831.7 694.8M682.9 571.4L831.7 703.8M682.9 578.5L831.7 712.9M682.9 585.7L831.7 721.9M682.9 592.8L831.7 731.0M682.9 599.8L831.7 740.2M682.9 606.9L831.7 749.3M682.9 613.9L831.7 758.5M682.9 620.9L831.7 767.7M682.9 627.8L831.7 777.0M682.9 634.7L831.7 786.3M682.9 641.6L831.7 795.6M682.9 648.4L831.7 805.0M682.9 655.2L831.7 814.4M682.9 661.9L831.7 823.9M682.9 668.6L831.7 833.4M682.9 675.2L831.7 843.0M682.9 682.6L831.7 851.7M682.9 690.7L831.7 859.8M682.9 698.8L831.7 867.9M682.9 706.9L831.7 876.0M682.9 715.0L831.7 884.1M682.9 723.1L831.7 892.2M682.9 731.2L831.7 900.3M682.9 739.3L831.7 908.4M682.9 747.4L831.7 916.5M682.9 755.5L831.7 924.6M682.9 763.6L831.7 932.7" stroke="#0a820a" stroke-width="1.9" fill="none"/>
<rect x="684.9" y="557.1" width="144.8" height="205.6" fill="none" stroke="#0a820a" stroke-width="2.2"/>
<linearGradient id="g4" gradientUnits="userSpaceOnUse" x1="926.9" y1="762.7" x2="1019.8" y2="669.8"><stop offset="0" stop-color="#02ee02"/><stop offset="0.58" stop-color="#78ee78"/><stop offset="1" stop-color="#d7f0d7"/></linearGradient>
<rect x="926.9" y="721.8" width="144.8" height="40.9" fill="url(#g4)"/>
<clipPath id="c4"><rect x="926.9" y="721.8" width="144.8" height="40.9"/></clipPath>
<path clip-path="url(#c4)" d="M924.9 573.5L1073.7 722.3M924.9 584.2L1073.7 733.0M924.9 594.9L1073.7 743.7M924.9 605.6L1073.7 754.4M924.9 616.3L1073.7 765.1M924.9 627.0L1073.7 775.8M924.9 637.7L1073.7 786.5M924.9 648.4L1073.7 797.2M924.9 659.1L1073.7 807.9M924.9 669.8L1073.7 818.6M924.9 680.5L1073.7 829.3M924.9 691.2L1073.7 840.0M924.9 701.9L1073.7 850.7M924.9 712.6L1073.7 861.4M924.9 723.3L1073.7 872.1M924.9 734.0L1073.7 882.8M924.9 744.7L1073.7 893.5M924.9 755.4L1073.7 904.2M924.9 722.3L1073.7 573.5M924.9 733.0L1073.7 584.2M924.9 743.7L1073.7 594.9M924.9 754.4L1073.7 605.6M924.9 765.1L1073.7 616.3M924.9 775.8L1073.7 627.0M924.9 786.5L1073.7 637.7M924.9 797.2L1073.7 648.4M924.9 807.9L1073.7 659.1M924.9 818.6L1073.7 669.8M924.9 829.3L1073.7 680.5M924.9 840.0L1073.7 691.2M924.9 850.7L1073.7 701.9M924.9 861.4L1073.7 712.6M924.9 872.1L1073.7 723.3M924.9 882.8L1073.7 734.0M924.9 893.5L1073.7 744.7M924.9 904.2L1073.7 755.4" stroke="#0a820a" stroke-width="2.4" fill="none"/>
<rect x="926.9" y="721.8" width="144.8" height="40.9" fill="none" stroke="#0a820a" stroke-width="2.2"/>
</g>
<g id="hgrid" fill="none">
<line x1="104.8" y1="656.6" x2="1171.9" y2="656.6" stroke="#000" stroke-opacity="0.36" stroke-width="2" stroke-dasharray="19.9 7.2" stroke-dashoffset="0.6"/>
<line x1="104.8" y1="549.2" x2="1171.9" y2="549.2" stroke="#000" stroke-opacity="0.36" stroke-width="2" stroke-dasharray="19.9 7.2" stroke-dashoffset="0.6"/>
<line x1="104.8" y1="441.8" x2="1171.9" y2="441.8" stroke="#000" stroke-opacity="0.36" stroke-width="2" stroke-dasharray="19.9 7.2" stroke-dashoffset="0.6"/>
<line x1="104.8" y1="334.5" x2="1171.9" y2="334.5" stroke="#000" stroke-opacity="0.36" stroke-width="2" stroke-dasharray="19.9 7.2" stroke-dashoffset="0.6"/>
<line x1="104.8" y1="227.1" x2="1171.9" y2="227.1" stroke="#000" stroke-opacity="0.36" stroke-width="2" stroke-dasharray="19.9 7.2" stroke-dashoffset="0.6"/>
<line x1="104.8" y1="119.7" x2="1171.9" y2="119.7" stroke="#000" stroke-opacity="0.36" stroke-width="2" stroke-dasharray="19.9 7.2" stroke-dashoffset="0.6"/>
</g>
<g id="axes" stroke="#262626" fill="none" stroke-linecap="butt">
<g stroke-width="2.5">
<line x1="93.0" y1="762.7" x2="104.8" y2="762.7"/>
<line x1="104.8" y1="732.6" x2="111.8" y2="732.6"/>
<line x1="104.8" y1="702.6" x2="111.8" y2="702.6"/>
<line x1="104.8" y1="672.5" x2="111.8" y2="672.5"/>
<line x1="104.8" y1="642.4" x2="111.8" y2="642.4"/>
<line x1="93.0" y1="612.4" x2="104.8" y2="612.4"/>
<line x1="104.8" y1="582.3" x2="111.8" y2="582.3"/>
<line x1="104.8" y1="552.2" x2="111.8" y2="552.2"/>
<line x1="104.8" y1="522.2" x2="111.8" y2="522.2"/>
<line x1="104.8" y1="492.1" x2="111.8" y2="492.1"/>
<line x1="93.0" y1="462.0" x2="104.8" y2="462.0"/>
<line x1="104.8" y1="432.0" x2="111.8" y2="432.0"/>
<line x1="104.8" y1="401.9" x2="111.8" y2="401.9"/>
<line x1="104.8" y1="371.8" x2="111.8" y2="371.8"/>
<line x1="104.8" y1="341.7" x2="111.8" y2="341.7"/>
<line x1="93.0" y1="311.7" x2="104.8" y2="311.7"/>
<line x1="104.8" y1="281.6" x2="111.8" y2="281.6"/>
<line x1="104.8" y1="251.5" x2="111.8" y2="251.5"/>
<line x1="104.8" y1="221.5" x2="111.8" y2="221.5"/>
<line x1="104.8" y1="191.4" x2="111.8" y2="191.4"/>
<line x1="93.0" y1="161.3" x2="104.8" y2="161.3"/>
<line x1="104.8" y1="131.3" x2="111.8" y2="131.3"/>
<line x1="104.8" y1="101.2" x2="111.8" y2="101.2"/>
<line x1="104.8" y1="71.1" x2="111.8" y2="71.1"/>
<line x1="104.8" y1="41.1" x2="111.8" y2="41.1"/>
<line x1="93.0" y1="11.0" x2="104.8" y2="11.0"/>
<line x1="1171.9" y1="762.7" x2="1182.7" y2="762.7"/>
<line x1="1171.9" y1="655.3" x2="1182.7" y2="655.3"/>
<line x1="1171.9" y1="547.9" x2="1182.7" y2="547.9"/>
<line x1="1171.9" y1="440.5" x2="1182.7" y2="440.5"/>
<line x1="1171.9" y1="333.2" x2="1182.7" y2="333.2"/>
<line x1="1171.9" y1="225.8" x2="1182.7" y2="225.8"/>
<line x1="1171.9" y1="118.4" x2="1182.7" y2="118.4"/>
<line x1="1171.9" y1="11.0" x2="1182.7" y2="11.0"/>
<line x1="128.1" y1="762.7" x2="128.1" y2="755.3"/>
<line x1="128.1" y1="11.0" x2="128.1" y2="18.4"/>
<line x1="176.5" y1="762.7" x2="176.5" y2="755.3"/>
<line x1="176.5" y1="11.0" x2="176.5" y2="18.4"/>
<line x1="224.9" y1="11.0" x2="224.9" y2="18.4"/>
<line x1="273.3" y1="762.7" x2="273.3" y2="774.9"/>
<line x1="321.7" y1="11.0" x2="321.7" y2="18.4"/>
<line x1="370.1" y1="762.7" x2="370.1" y2="755.3"/>
<line x1="370.1" y1="11.0" x2="370.1" y2="18.4"/>
<line x1="418.5" y1="762.7" x2="418.5" y2="755.3"/>
<line x1="418.5" y1="11.0" x2="418.5" y2="18.4"/>
<line x1="466.9" y1="11.0" x2="466.9" y2="18.4"/>
<line x1="515.3" y1="762.7" x2="515.3" y2="774.9"/>
<line x1="563.7" y1="11.0" x2="563.7" y2="18.4"/>
<line x1="612.1" y1="762.7" x2="612.1" y2="755.3"/>
<line x1="612.1" y1="11.0" x2="612.1" y2="18.4"/>
<line x1="660.5" y1="762.7" x2="660.5" y2="755.3"/>
<line x1="660.5" y1="11.0" x2="660.5" y2="18.4"/>
<line x1="708.9" y1="11.0" x2="708.9" y2="18.4"/>
<line x1="757.3" y1="762.7" x2="757.3" y2="774.9"/>
<line x1="805.7" y1="11.0" x2="805.7" y2="18.4"/>
<line x1="854.1" y1="762.7" x2="854.1" y2="755.3"/>
<line x1="854.1" y1="11.0" x2="854.1" y2="18.4"/>
<line x1="902.5" y1="762.7" x2="902.5" y2="755.3"/>
<line x1="902.5" y1="11.0" x2="902.5" y2="18.4"/>
<line x1="950.9" y1="11.0" x2="950.9" y2="18.4"/>
<line x1="999.3" y1="762.7" x2="999.3" y2="774.9"/>
<line x1="1047.7" y1="11.0" x2="1047.7" y2="18.4"/>
<line x1="1096.1" y1="762.7" x2="1096.1" y2="755.3"/>
<line x1="1096.1" y1="11.0" x2="1096.1" y2="18.4"/>
<line x1="1144.5" y1="762.7" x2="1144.5" y2="755.3"/>
<line x1="1144.5" y1="11.0" x2="1144.5" y2="18.4"/>
</g>
<line x1="93.0" y1="11.0" x2="1182.7" y2="11.0" stroke-width="2.6"/>
<line x1="1171.9" y1="11.0" x2="1171.9" y2="762.7" stroke-width="2.5"/>
<line x1="104.8" y1="9.7" x2="104.8" y2="764.3" stroke-width="3.1"/>
<line x1="93.0" y1="762.7" x2="1182.7" y2="762.7" stroke-width="3.2"/>
</g>
<polyline points="273.3,48.4 515.3,333.5 757.5,540.5 999.6,723.4" fill="none" stroke="#ff0000" stroke-width="6" stroke-linejoin="round"/>
<polygon points="273.30,27.90 278.06,41.85 292.80,42.07 281.00,50.90 285.35,64.98 273.30,56.50 261.25,64.98 265.60,50.90 253.80,42.07 268.54,41.85" fill="#1000f6" stroke="#ff0000" stroke-width="2.3" stroke-linejoin="miter" stroke-miterlimit="10"/>
<polygon points="515.30,313.00 520.06,326.95 534.80,327.17 523.00,336.00 527.35,350.08 515.30,341.60 503.25,350.08 507.60,336.00 495.80,327.17 510.54,326.95" fill="#1000f6" stroke="#ff0000" stroke-width="2.3" stroke-linejoin="miter" stroke-miterlimit="10"/>
<polygon points="757.50,520.00 762.26,533.95 777.00,534.17 765.20,543.00 769.55,557.08 757.50,548.60 745.45,557.08 749.80,543.00 738.00,534.17 752.74,533.95" fill="#1000f6" stroke="#ff0000" stroke-width="2.3" stroke-linejoin="miter" stroke-miterlimit="10"/>
<polygon points="999.60,702.90 1004.36,716.85 1019.10,717.07 1007.30,725.90 1011.65,739.98 999.60,731.50 987.55,739.98 991.90,725.90 980.10,717.07 994.84,716.85" fill="#1000f6" stroke="#ff0000" stroke-width="2.3" stroke-linejoin="miter" stroke-miterlimit="10"/>
<g id="legend">
<rect x="637.5" y="36" width="444.5" height="123.5" fill="#fff" stroke="#111" stroke-width="2.4"/>
<rect x="659" y="65" width="66.5" height="22" fill="url(#gbar)" stroke="#1e9a1e" stroke-width="2"/>
<line x1="659.3" y1="115.4" x2="725.5" y2="115.4" stroke="#ff0000" stroke-width="6" stroke-linecap="round"/>
<polygon points="692.40,94.80 697.16,108.75 711.90,108.97 700.10,117.80 704.45,131.88 692.40,123.40 680.35,131.88 684.70,117.80 672.90,108.97 687.64,108.75" fill="#1000f6" stroke="#ff0000" stroke-width="2.3" stroke-miterlimit="10"/>
<text y="86.3" font-size="29.3" fill="#151515"><tspan x="742.6" textLength="135.3" lengthAdjust="spacingAndGlyphs">Coulombic</tspan> <tspan x="886.9" textLength="118.6" lengthAdjust="spacingAndGlyphs">efficiency</tspan> <tspan x="1015.6">(%)</tspan></text>
<text y="127" font-size="29.3" fill="#151515"><tspan x="742.6" textLength="90.3" lengthAdjust="spacingAndGlyphs">Energy</tspan> <tspan x="842.6" textLength="118.6" lengthAdjust="spacingAndGlyphs">efficiency</tspan> <tspan x="971.3">(%)</tspan></text>
</g>
<g id="ticklabels" font-size="30.5" fill="#151515">
<text x="81.5" y="774.3" text-anchor="end">0</text>
<text x="81.5" y="624.0" text-anchor="end">2</text>
<text x="81.5" y="473.6" text-anchor="end">4</text>
<text x="81.5" y="323.3" text-anchor="end">6</text>
<text x="81.5" y="172.9" text-anchor="end">8</text>
<text x="81.5" y="22.6" text-anchor="end">10</text>
<text x="1196.5" y="774.3">0</text>
<text x="1196.5" y="666.9">1</text>
<text x="1196.5" y="559.5">2</text>
<text x="1196.5" y="452.1">3</text>
<text x="1196.5" y="344.8">4</text>
<text x="1196.5" y="237.4">5</text>
<text x="1196.5" y="130.0">6</text>
<text x="1196.5" y="22.6">7</text>
<text x="273.3" y="817.8" text-anchor="middle">1</text>
<text x="515.3" y="817.8" text-anchor="middle">2</text>
<text x="757.3" y="817.8" text-anchor="middle">3</text>
<text x="999.3" y="817.8" text-anchor="middle">4</text>
</g>
<g id="titles" font-size="35.2" fill="#151515" text-anchor="middle">
<text x="638.8" y="870">Experiment #</text>
<text transform="translate(29.3,386.5) rotate(-90) scale(1,1.04)">Coulombic Efficiency (%)</text>
<text transform="translate(1272.5,386) rotate(-90) scale(1,1.04)">Energy Efficiency (%)</text>
</g>
</svg>
</body>
</html>
